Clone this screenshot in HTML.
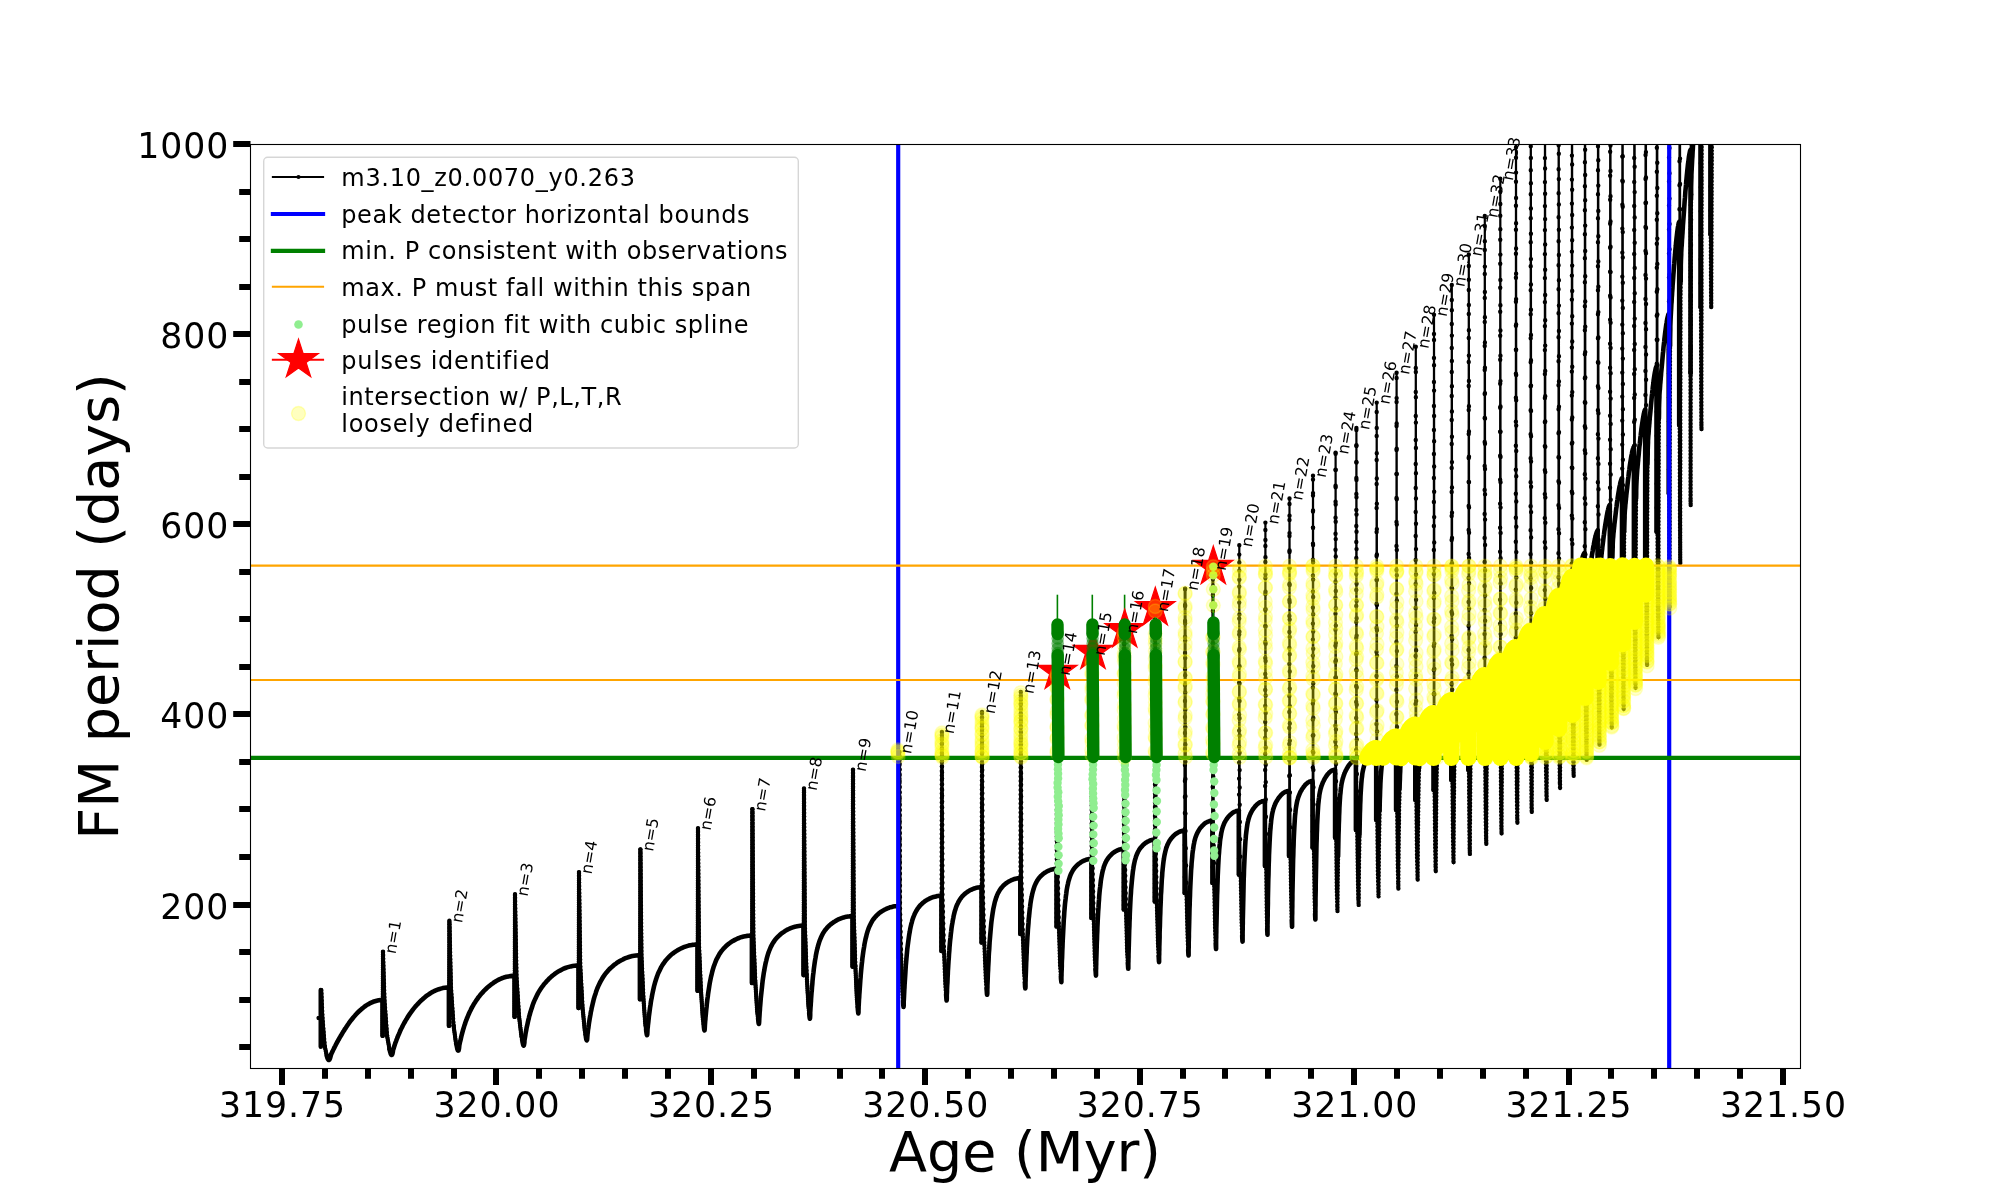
<!DOCTYPE html>
<html lang="en"><head><meta charset="utf-8"><title>FM period vs Age</title>
<style>html,body{margin:0;padding:0;background:#fff}svg{display:block}text{font-family:"DejaVu Sans","Liberation Sans",sans-serif;fill:#000}</style></head><body>
<svg width="2000" height="1200" viewBox="0 0 2000 1200">
<rect width="2000" height="1200" fill="#fff"/>
<defs><clipPath id="ax"><rect x="250.5" y="144.5" width="1550" height="924"/></clipPath>
<g id="yc"><circle r="6.95" fill="#ffff00" fill-opacity="0.2"/><circle r="6.95" fill="none" stroke="#ffff00" stroke-opacity="0.2" stroke-width="1.4"/></g>
</defs>
<g clip-path="url(#ax)">
<g fill="none" stroke="#000" stroke-linecap="round" stroke-linejoin="round">
<path stroke-width="4.6" d="M318.7 1018 L320.1 1018 M320.8 990.1 L320.8 1046.7 M326.8 1055.7 L327.3 1057.7 L327.9 1059.1 L328.4 1059.9 L328.9 1060 L329.4 1059.6 L330 1058.5 L330.5 1056.7 L331.1 1054.4 L331.4 1053.8 L331.7 1053.1 L332 1052.4 L332.4 1051.6 L332.8 1050.8 L333.2 1049.9 L333.7 1049 L334.1 1048.1 L334.6 1047.1 L335.2 1046 L335.7 1045 L336.3 1043.8 L336.9 1042.7 L337.6 1041.5 L338.2 1040.3 L339 1039 L339.7 1037.7 L340.5 1036.3 L341.3 1035 L342.1 1033.6 L343 1032.1 L343.9 1030.7 L344.8 1029.2 L345.8 1027.8 L346.8 1026.3 L347.8 1024.8 L348.9 1023.2 L350 1021.7 L351.1 1020.2 L352.3 1018.7 L353.5 1017.2 L354.8 1015.8 L356.1 1014.3 L357.4 1012.9 L358.8 1011.5 L360.2 1010.2 L361.7 1008.9 L363.2 1007.7 L364.7 1006.5 L366.3 1005.4 L367.9 1004.4 L369.6 1003.4 L371.3 1002.6 L373.1 1001.8 L374.9 1001.2 L376.7 1000.7 L378.6 1000.3 L380.5 1000.1 L382.5 1000 M382.5 1000 L382.5 1035.8 M389.5 1049.2 L390.1 1051.7 L390.6 1053.5 L391.1 1054.6 L391.6 1055 L392 1054.8 L392.4 1053.9 L392.8 1052.2 L393.1 1049.9 L393.4 1049.2 L393.6 1048.4 L393.9 1047.5 L394.2 1046.5 L394.5 1045.6 L394.9 1044.5 L395.2 1043.4 L395.6 1042.3 L396.1 1041.1 L396.5 1039.9 L397 1038.7 L397.5 1037.4 L398 1036 L398.6 1034.7 L399.2 1033.3 L399.8 1031.9 L400.4 1030.4 L401.1 1029 L401.9 1027.5 L402.6 1026 L403.4 1024.5 L404.2 1023 L405.1 1021.5 L405.9 1020 L406.9 1018.5 L407.8 1016.9 L408.8 1015.4 L409.8 1013.9 L410.9 1012.4 L412 1010.9 L413.1 1009.4 L414.3 1007.9 L415.5 1006.4 L416.8 1005 L418.1 1003.6 L419.4 1002.2 L420.8 1000.8 L422.3 999.5 L423.7 998.2 L425.2 996.9 L426.8 995.7 L428.4 994.6 L430 993.5 L431.7 992.4 L433.4 991.5 L435.2 990.6 L437 989.9 L438.9 989.2 L440.8 988.6 L442.7 988.1 L444.7 987.8 L446.8 987.6 L448.9 987.5 M448.9 987.5 L448.9 1025.8 M456.5 1044.8 L457 1047.3 L457.4 1049.2 L457.8 1050.3 L458.2 1050.7 L458.5 1050.5 L458.8 1049.5 L459.1 1047.8 L459.3 1045.5 L459.5 1044.6 L459.7 1043.6 L459.9 1042.5 L460.2 1041.4 L460.5 1040.2 L460.8 1038.9 L461.1 1037.6 L461.4 1036.2 L461.8 1034.7 L462.2 1033.2 L462.6 1031.7 L463 1030.1 L463.5 1028.5 L464 1026.9 L464.5 1025.2 L465.1 1023.6 L465.6 1021.9 L466.3 1020.2 L466.9 1018.5 L467.6 1016.8 L468.3 1015.2 L469 1013.5 L469.8 1011.8 L470.6 1010.2 L471.4 1008.5 L472.3 1006.9 L473.2 1005.3 L474.1 1003.7 L475.1 1002.2 L476.1 1000.6 L477.2 999.1 L478.2 997.6 L479.4 996.2 L480.5 994.7 L481.7 993.3 L483 992 L484.2 990.6 L485.6 989.3 L486.9 988 L488.3 986.8 L489.8 985.6 L491.2 984.4 L492.8 983.3 L494.3 982.2 L495.9 981.2 L497.6 980.3 L499.3 979.4 L501 978.7 L502.8 977.9 L504.7 977.3 L506.5 976.8 L508.5 976.4 L510.4 976.1 L512.4 975.9 L514.5 975.8 M514.5 975.8 L514.5 1016.7 M522.2 1039.8 L522.6 1042.3 L523 1044.1 L523.3 1045.2 L523.6 1045.6 L523.9 1045.3 L524.1 1044.3 L524.4 1042.5 L524.5 1040.1 L524.7 1039 L524.9 1037.9 L525.1 1036.6 L525.3 1035.3 L525.5 1033.9 L525.8 1032.4 L526.1 1030.8 L526.4 1029.1 L526.7 1027.4 L527.1 1025.7 L527.5 1023.9 L527.9 1022 L528.3 1020.2 L528.8 1018.3 L529.2 1016.4 L529.8 1014.5 L530.3 1012.5 L530.9 1010.6 L531.5 1008.7 L532.1 1006.9 L532.7 1005 L533.4 1003.2 L534.1 1001.4 L534.9 999.6 L535.7 997.9 L536.5 996.2 L537.3 994.6 L538.2 992.9 L539.1 991.4 L540.1 989.8 L541.1 988.3 L542.1 986.8 L543.2 985.4 L544.2 984 L545.4 982.7 L546.5 981.4 L547.8 980.1 L549 978.8 L550.3 977.6 L551.6 976.4 L553 975.3 L554.4 974.2 L555.8 973.2 L557.3 972.2 L558.8 971.2 L560.4 970.4 L562 969.5 L563.7 968.7 L565.4 968 L567.1 967.4 L568.9 966.9 L570.7 966.4 L572.6 966 L574.5 965.7 L576.5 965.6 L578.5 965.5 M578.5 965.5 L578.5 1008 M585.6 1034.5 L585.9 1037 L586.2 1038.8 L586.5 1039.9 L586.8 1040.3 L587 1040 L587.2 1038.9 L587.3 1037.2 L587.5 1034.7 L587.6 1033.6 L587.8 1032.3 L587.9 1030.9 L588.1 1029.4 L588.4 1027.8 L588.6 1026.1 L588.8 1024.4 L589.1 1022.5 L589.4 1020.6 L589.7 1018.6 L590.1 1016.5 L590.5 1014.4 L590.8 1012.3 L591.3 1010.2 L591.7 1008 L592.2 1005.9 L592.7 1003.7 L593.2 1001.6 L593.7 999.5 L594.3 997.4 L594.9 995.4 L595.6 993.4 L596.2 991.4 L596.9 989.5 L597.6 987.7 L598.4 985.9 L599.2 984.2 L600 982.5 L600.9 980.9 L601.8 979.3 L602.7 977.8 L603.6 976.3 L604.6 974.9 L605.6 973.5 L606.7 972.2 L607.8 970.9 L608.9 969.7 L610.1 968.5 L611.3 967.4 L612.6 966.3 L613.8 965.2 L615.2 964.2 L616.5 963.2 L617.9 962.2 L619.4 961.3 L620.8 960.5 L622.4 959.7 L623.9 958.9 L625.5 958.2 L627.2 957.6 L628.9 957 L630.6 956.5 L632.4 956.1 L634.2 955.8 L636 955.5 L638 955.4 L639.9 955.3 M639.9 955.3 L639.9 999.2 M646.1 1029.2 L646.3 1031.7 L646.6 1033.5 L646.8 1034.6 L647 1035.1 L647.2 1034.8 L647.3 1033.7 L647.4 1032 L647.5 1029.6 L647.6 1028.4 L647.8 1027 L647.9 1025.5 L648.1 1023.9 L648.3 1022.2 L648.5 1020.3 L648.7 1018.4 L648.9 1016.3 L649.2 1014.2 L649.5 1011.9 L649.8 1009.6 L650.1 1007.3 L650.5 1004.9 L650.8 1002.5 L651.2 1000.1 L651.7 997.7 L652.1 995.3 L652.6 992.9 L653.1 990.6 L653.6 988.3 L654.1 986 L654.7 983.8 L655.3 981.7 L656 979.6 L656.6 977.6 L657.3 975.7 L658 973.8 L658.8 972.1 L659.6 970.4 L660.4 968.7 L661.2 967.1 L662.1 965.6 L663 964.2 L664 962.8 L664.9 961.5 L665.9 960.2 L667 959 L668.1 957.8 L669.2 956.7 L670.3 955.6 L671.5 954.6 L672.7 953.6 L674 952.6 L675.3 951.7 L676.6 950.9 L678 950 L679.4 949.2 L680.8 948.5 L682.3 947.8 L683.8 947.2 L685.4 946.6 L687 946.1 L688.6 945.6 L690.3 945.2 L692.1 944.9 L693.8 944.7 L695.6 944.6 L697.5 944.5 M697.5 944.5 L697.5 990.7 M703.7 1024.4 L703.9 1026.9 L704.1 1028.8 L704.3 1029.9 L704.5 1030.4 L704.6 1030.1 L704.7 1029.2 L704.8 1027.6 L704.9 1025.3 L705 1024.1 L705.1 1022.7 L705.2 1021.1 L705.4 1019.4 L705.5 1017.6 L705.7 1015.7 L705.9 1013.6 L706.1 1011.4 L706.3 1009.1 L706.6 1006.7 L706.8 1004.2 L707.1 1001.7 L707.4 999.1 L707.8 996.5 L708.1 993.8 L708.5 991.2 L708.9 988.6 L709.3 986 L709.7 983.4 L710.2 980.9 L710.7 978.4 L711.2 976.1 L711.8 973.7 L712.3 971.5 L712.9 969.4 L713.5 967.3 L714.2 965.3 L714.9 963.5 L715.6 961.7 L716.3 959.9 L717.1 958.3 L717.9 956.8 L718.7 955.3 L719.5 953.9 L720.4 952.6 L721.3 951.3 L722.3 950.1 L723.3 948.9 L724.3 947.8 L725.3 946.8 L726.4 945.8 L727.5 944.8 L728.6 943.9 L729.8 943 L731 942.1 L732.3 941.3 L733.6 940.6 L734.9 939.9 L736.2 939.2 L737.6 938.5 L739.1 938 L740.5 937.4 L742 936.9 L743.6 936.5 L745.2 936.2 L746.8 935.9 L748.5 935.7 L750.2 935.5 L751.9 935.5 M751.9 935.5 L751.9 983 M758.1 1018.1 L758.3 1020.6 L758.5 1022.4 L758.7 1023.5 L758.9 1023.9 L759 1023.6 L759.1 1022.6 L759.2 1020.9 L759.3 1018.4 L759.4 1017.1 L759.5 1015.5 L759.6 1013.8 L759.7 1011.9 L759.9 1009.9 L760 1007.8 L760.2 1005.5 L760.4 1003.1 L760.6 1000.5 L760.8 997.9 L761.1 995.2 L761.4 992.5 L761.7 989.7 L762 986.9 L762.3 984 L762.6 981.2 L763 978.4 L763.4 975.6 L763.8 972.9 L764.3 970.3 L764.7 967.7 L765.2 965.2 L765.7 962.8 L766.3 960.5 L766.8 958.3 L767.4 956.2 L768 954.2 L768.6 952.3 L769.3 950.5 L770 948.8 L770.7 947.2 L771.5 945.7 L772.2 944.2 L773 942.9 L773.9 941.6 L774.7 940.4 L775.6 939.2 L776.5 938.1 L777.5 937.1 L778.5 936.1 L779.5 935.2 L780.5 934.3 L781.6 933.4 L782.7 932.6 L783.9 931.8 L785 931 L786.3 930.3 L787.5 929.6 L788.8 929 L790.1 928.4 L791.4 927.9 L792.8 927.4 L794.2 926.9 L795.7 926.6 L797.2 926.2 L798.7 926 L800.3 925.8 L801.9 925.6 L803.5 925.6 M803.5 925.6 L803.5 975.1 M809.2 1013 L809.4 1015.5 L809.6 1017.3 L809.8 1018.4 L809.9 1018.7 L810 1018.3 L810.1 1017.2 L810.2 1015.3 L810.2 1012.7 L810.3 1011.2 L810.4 1009.5 L810.5 1007.6 L810.7 1005.6 L810.8 1003.4 L811 1001 L811.1 998.5 L811.3 995.8 L811.5 993.1 L811.8 990.2 L812 987.3 L812.3 984.3 L812.5 981.3 L812.8 978.3 L813.1 975.2 L813.5 972.2 L813.8 969.2 L814.2 966.3 L814.6 963.4 L815 960.6 L815.5 957.9 L815.9 955.3 L816.4 952.8 L816.9 950.4 L817.5 948.2 L818 946 L818.6 944 L819.2 942.1 L819.8 940.3 L820.5 938.6 L821.2 937 L821.9 935.5 L822.6 934.1 L823.4 932.7 L824.2 931.5 L825 930.3 L825.9 929.2 L826.8 928.1 L827.7 927.1 L828.6 926.2 L829.6 925.3 L830.6 924.4 L831.6 923.6 L832.7 922.8 L833.7 922.1 L834.9 921.4 L836 920.7 L837.2 920 L838.4 919.4 L839.7 918.9 L841 918.4 L842.3 917.9 L843.6 917.5 L845 917.1 L846.5 916.8 L847.9 916.5 L849.4 916.4 L850.9 916.2 L852.5 916.2 M852.5 916.2 L852.5 966.6 M857.7 1007.4 L857.9 1009.9 L858.1 1011.8 L858.2 1012.9 L858.3 1013.4 L858.4 1013.1 L858.5 1012.2 L858.5 1010.6 L858.6 1008.3 L858.6 1006.9 L858.7 1005.4 L858.8 1003.6 L858.9 1001.7 L859 999.5 L859.2 997.2 L859.3 994.8 L859.5 992.2 L859.7 989.4 L859.9 986.6 L860.1 983.6 L860.3 980.5 L860.6 977.4 L860.8 974.3 L861.1 971.1 L861.4 967.9 L861.7 964.7 L862.1 961.5 L862.4 958.4 L862.8 955.4 L863.2 952.4 L863.6 949.6 L864.1 946.8 L864.5 944.1 L865 941.6 L865.5 939.2 L866.1 936.9 L866.6 934.7 L867.2 932.7 L867.8 930.7 L868.4 928.9 L869.1 927.2 L869.8 925.6 L870.5 924.2 L871.2 922.8 L872 921.4 L872.7 920.2 L873.6 919 L874.4 918 L875.3 916.9 L876.2 916 L877.1 915 L878 914.2 L879 913.3 L880 912.5 L881.1 911.8 L882.2 911.1 L883.3 910.4 L884.4 909.8 L885.6 909.2 L886.8 908.6 L888 908.1 L889.2 907.7 L890.5 907.2 L891.9 906.9 L893.2 906.6 L894.6 906.3 L896 906.2 L897.5 906 L899 906 M899 906 L899 958.5 M903.1 1001 L903.2 1003.5 L903.3 1005.3 L903.5 1006.5 L903.5 1006.9 L903.6 1006.6 L903.7 1005.6 L903.7 1004 L903.7 1001.6 L903.8 1000.1 L903.9 998.4 L904 996.6 L904.1 994.5 L904.2 992.3 L904.3 989.8 L904.5 987.2 L904.6 984.5 L904.8 981.6 L905 978.5 L905.2 975.4 L905.4 972.2 L905.6 968.9 L905.8 965.5 L906.1 962.2 L906.4 958.8 L906.7 955.5 L907 952.2 L907.3 948.9 L907.7 945.8 L908.1 942.7 L908.5 939.7 L908.9 936.8 L909.3 934.1 L909.8 931.5 L910.2 929 L910.7 926.6 L911.2 924.4 L911.8 922.3 L912.3 920.3 L912.9 918.5 L913.5 916.8 L914.2 915.2 L914.8 913.7 L915.5 912.3 L916.2 911 L917 909.7 L917.7 908.6 L918.5 907.5 L919.3 906.5 L920.1 905.5 L921 904.6 L921.9 903.8 L922.8 902.9 L923.7 902.2 L924.7 901.4 L925.7 900.7 L926.7 900.1 L927.8 899.5 L928.9 898.9 L930 898.4 L931.1 897.9 L932.3 897.4 L933.5 897 L934.8 896.7 L936 896.4 L937.3 896.1 L938.6 895.9 L940 895.8 L941.4 895.8 M941.4 895.8 L941.4 951 M946.1 994.6 L946.3 997.1 L946.4 998.9 L946.5 1000 L946.6 1000.5 L946.7 1000.1 L946.8 999.1 L946.8 997.4 L946.8 995 L946.9 993.5 L947 991.8 L947 989.8 L947.1 987.7 L947.2 985.4 L947.4 982.9 L947.5 980.2 L947.6 977.3 L947.8 974.3 L947.9 971.2 L948.1 968 L948.3 964.7 L948.5 961.3 L948.8 957.9 L949 954.4 L949.3 950.9 L949.5 947.5 L949.8 944.1 L950.1 940.8 L950.5 937.5 L950.8 934.4 L951.2 931.3 L951.5 928.4 L951.9 925.6 L952.4 922.9 L952.8 920.4 L953.3 918 L953.7 915.7 L954.2 913.6 L954.7 911.6 L955.3 909.8 L955.8 908 L956.4 906.4 L957 904.9 L957.7 903.5 L958.3 902.2 L959 901 L959.7 899.8 L960.4 898.8 L961.2 897.8 L961.9 896.8 L962.7 895.9 L963.5 895.1 L964.4 894.3 L965.2 893.5 L966.1 892.8 L967.1 892.1 L968 891.5 L969 890.9 L970 890.3 L971 889.8 L972.1 889.3 L973.1 888.9 L974.2 888.5 L975.4 888.1 L976.5 887.8 L977.7 887.6 L979 887.4 L980.2 887.3 L981.5 887.3 M981.5 887.3 L981.5 942.5 M986.6 989 L986.8 991.5 L986.9 993.3 L987 994.4 L987.1 994.7 L987.2 994.4 L987.3 993.3 L987.3 991.5 L987.3 989 L987.4 987.4 L987.4 985.5 L987.5 983.5 L987.6 981.2 L987.7 978.7 L987.8 976 L987.9 973.2 L988.1 970.1 L988.2 967 L988.4 963.6 L988.6 960.2 L988.7 956.7 L988.9 953.1 L989.2 949.5 L989.4 945.9 L989.6 942.3 L989.9 938.7 L990.2 935.2 L990.5 931.7 L990.8 928.4 L991.1 925.1 L991.4 922 L991.8 919 L992.2 916.1 L992.6 913.4 L993 910.8 L993.4 908.4 L993.9 906.2 L994.4 904 L994.8 902.1 L995.4 900.2 L995.9 898.5 L996.5 896.9 L997 895.4 L997.6 894.1 L998.2 892.8 L998.9 891.6 L999.5 890.5 L1000.2 889.4 L1000.9 888.5 L1001.7 887.5 L1002.4 886.7 L1003.2 885.8 L1004 885.1 L1004.8 884.3 L1005.7 883.6 L1006.6 882.9 L1007.5 882.3 L1008.4 881.7 L1009.3 881.2 L1010.3 880.7 L1011.3 880.2 L1012.3 879.8 L1013.4 879.4 L1014.5 879 L1015.6 878.7 L1016.7 878.5 L1017.9 878.3 L1019.1 878.2 L1020.3 878.2 M1020.3 878.2 L1020.3 934 M1024.9 982.7 L1025 985.2 L1025.1 987 L1025.3 988 L1025.3 988.4 L1025.4 988 L1025.5 986.8 L1025.5 985 L1025.5 982.4 L1025.6 980.7 L1025.6 978.7 L1025.7 976.6 L1025.8 974.2 L1025.9 971.6 L1026 968.7 L1026.1 965.7 L1026.2 962.6 L1026.4 959.2 L1026.5 955.8 L1026.7 952.2 L1026.8 948.5 L1027 944.8 L1027.2 941.1 L1027.4 937.3 L1027.7 933.6 L1027.9 929.9 L1028.2 926.2 L1028.5 922.7 L1028.7 919.2 L1029.1 915.9 L1029.4 912.7 L1029.7 909.6 L1030.1 906.7 L1030.4 904 L1030.8 901.4 L1031.2 898.9 L1031.7 896.6 L1032.1 894.5 L1032.6 892.5 L1033.1 890.7 L1033.6 889 L1034.1 887.4 L1034.6 885.9 L1035.2 884.6 L1035.8 883.3 L1036.4 882.1 L1037 881 L1037.6 880 L1038.3 879 L1039 878.1 L1039.7 877.3 L1040.4 876.5 L1041.2 875.7 L1042 875 L1042.8 874.3 L1043.6 873.6 L1044.4 873 L1045.3 872.4 L1046.2 871.9 L1047.1 871.3 L1048.1 870.9 L1049 870.4 L1050 870.1 L1051 869.7 L1052.1 869.4 L1053.1 869.2 L1054.2 869 L1055.4 868.9 L1056.5 868.9 M1056.5 868.9 L1056.5 926.4 M1060.9 976.2 L1061 978.7 L1061.2 980.6 L1061.3 981.7 L1061.3 982.1 L1061.4 981.9 L1061.4 980.9 L1061.4 979.3 L1061.4 977 L1061.5 975.4 L1061.5 973.5 L1061.6 971.4 L1061.7 969.1 L1061.8 966.5 L1061.8 963.7 L1061.9 960.7 L1062.1 957.5 L1062.2 954.1 L1062.3 950.6 L1062.5 946.9 L1062.6 943.1 L1062.8 939.2 L1063 935.3 L1063.2 931.4 L1063.4 927.5 L1063.6 923.6 L1063.8 919.7 L1064.1 916 L1064.3 912.3 L1064.6 908.7 L1064.9 905.3 L1065.2 902.1 L1065.6 899 L1065.9 896.1 L1066.3 893.3 L1066.6 890.7 L1067 888.3 L1067.4 886.1 L1067.9 884 L1068.3 882 L1068.8 880.2 L1069.3 878.6 L1069.8 877.1 L1070.3 875.6 L1070.8 874.3 L1071.4 873.1 L1072 872 L1072.6 870.9 L1073.2 869.9 L1073.8 869 L1074.5 868.1 L1075.2 867.3 L1075.9 866.5 L1076.6 865.7 L1077.4 865 L1078.2 864.3 L1078.9 863.7 L1079.8 863.1 L1080.6 862.5 L1081.5 861.9 L1082.3 861.4 L1083.3 861 L1084.2 860.5 L1085.1 860.2 L1086.1 859.8 L1087.1 859.5 L1088.2 859.3 L1089.2 859.1 L1090.3 859 L1091.4 859 M1091.4 859 L1091.4 917.9 M1095.5 969.7 L1095.7 972.2 L1095.8 974 L1095.9 975.2 L1095.9 975.6 L1096 975.3 L1096 974.3 L1096 972.6 L1096 970.3 L1096.1 968.6 L1096.1 966.7 L1096.2 964.5 L1096.2 962.1 L1096.3 959.4 L1096.4 956.5 L1096.5 953.4 L1096.6 950.1 L1096.7 946.6 L1096.8 942.9 L1097 939.1 L1097.1 935.2 L1097.3 931.2 L1097.4 927.2 L1097.6 923.1 L1097.8 919 L1098 915 L1098.2 911 L1098.5 907.2 L1098.7 903.4 L1099 899.7 L1099.2 896.2 L1099.5 892.9 L1099.8 889.7 L1100.2 886.7 L1100.5 883.9 L1100.8 881.2 L1101.2 878.7 L1101.6 876.4 L1102 874.3 L1102.4 872.3 L1102.8 870.5 L1103.3 868.8 L1103.7 867.3 L1104.2 865.8 L1104.7 864.5 L1105.2 863.3 L1105.8 862.1 L1106.3 861 L1106.9 860 L1107.5 859.1 L1108.1 858.2 L1108.7 857.4 L1109.4 856.6 L1110.1 855.8 L1110.8 855.1 L1111.5 854.4 L1112.2 853.7 L1112.9 853.1 L1113.7 852.5 L1114.5 852 L1115.3 851.5 L1116.2 851 L1117 850.6 L1117.9 850.2 L1118.8 849.8 L1119.8 849.5 L1120.7 849.3 L1121.7 849.1 L1122.7 849 L1123.7 849 M1123.7 849 L1123.7 909.4 M1127.8 962.9 L1128 965.4 L1128.1 967.2 L1128.2 968.3 L1128.2 968.7 L1128.3 968.4 L1128.3 967.3 L1128.3 965.6 L1128.3 963.1 L1128.4 961.4 L1128.4 959.4 L1128.5 957.1 L1128.5 954.5 L1128.6 951.7 L1128.7 948.7 L1128.8 945.4 L1128.9 941.9 L1129 938.2 L1129.1 934.4 L1129.2 930.4 L1129.4 926.4 L1129.5 922.2 L1129.7 918 L1129.8 913.8 L1130 909.6 L1130.2 905.5 L1130.4 901.4 L1130.6 897.4 L1130.9 893.6 L1131.1 889.9 L1131.4 886.4 L1131.7 883 L1132 879.8 L1132.3 876.8 L1132.6 874 L1132.9 871.3 L1133.3 868.9 L1133.6 866.6 L1134 864.5 L1134.4 862.6 L1134.8 860.8 L1135.2 859.2 L1135.7 857.7 L1136.1 856.3 L1136.6 855 L1137.1 853.8 L1137.6 852.7 L1138.1 851.6 L1138.7 850.6 L1139.2 849.7 L1139.8 848.8 L1140.4 848 L1141.1 847.2 L1141.7 846.5 L1142.4 845.8 L1143 845.1 L1143.7 844.4 L1144.5 843.8 L1145.2 843.2 L1145.9 842.7 L1146.7 842.2 L1147.5 841.7 L1148.4 841.3 L1149.2 840.9 L1150.1 840.5 L1150.9 840.2 L1151.8 840 L1152.8 839.8 L1153.7 839.7 L1154.7 839.7 M1154.7 839.7 L1154.7 901.5 M1158.7 956.4 L1158.8 958.9 L1158.9 960.7 L1159 961.8 L1159 962.1 L1159.1 961.7 L1159.1 960.6 L1159.1 958.8 L1159.1 956.2 L1159.2 954.4 L1159.2 952.2 L1159.3 949.8 L1159.3 947.1 L1159.4 944.1 L1159.5 940.8 L1159.6 937.4 L1159.6 933.7 L1159.7 929.8 L1159.9 925.8 L1160 921.6 L1160.1 917.3 L1160.3 913 L1160.4 908.6 L1160.6 904.3 L1160.8 900 L1160.9 895.7 L1161.2 891.5 L1161.4 887.5 L1161.6 883.6 L1161.8 879.9 L1162.1 876.3 L1162.3 872.9 L1162.6 869.8 L1162.9 866.8 L1163.2 864 L1163.5 861.4 L1163.9 859 L1164.2 856.9 L1164.6 854.8 L1165 853 L1165.4 851.3 L1165.8 849.7 L1166.2 848.2 L1166.7 846.9 L1167.1 845.7 L1167.6 844.5 L1168.1 843.5 L1168.6 842.5 L1169.1 841.5 L1169.7 840.6 L1170.2 839.8 L1170.8 839 L1171.4 838.2 L1172 837.5 L1172.7 836.8 L1173.3 836.1 L1174 835.4 L1174.7 834.8 L1175.4 834.2 L1176.1 833.7 L1176.9 833.2 L1177.7 832.7 L1178.5 832.3 L1179.3 831.9 L1180.1 831.5 L1181 831.2 L1181.8 831 L1182.7 830.8 L1183.7 830.7 L1184.6 830.7 M1184.6 830.7 L1184.6 893 M1188.2 949.9 L1188.3 952.4 L1188.4 954.2 L1188.5 955.2 L1188.6 955.5 L1188.6 955.1 L1188.6 954 L1188.6 952.1 L1188.6 949.5 L1188.7 947.5 L1188.7 945.3 L1188.7 942.7 L1188.8 939.9 L1188.9 936.8 L1188.9 933.4 L1189 929.8 L1189.1 926 L1189.2 921.9 L1189.3 917.8 L1189.4 913.4 L1189.5 909 L1189.7 904.5 L1189.8 900 L1190 895.5 L1190.1 891.1 L1190.3 886.7 L1190.5 882.4 L1190.7 878.3 L1190.9 874.3 L1191.1 870.4 L1191.4 866.8 L1191.6 863.4 L1191.9 860.1 L1192.2 857.1 L1192.4 854.3 L1192.7 851.7 L1193.1 849.3 L1193.4 847.1 L1193.7 845 L1194.1 843.2 L1194.4 841.4 L1194.8 839.9 L1195.2 838.4 L1195.6 837.1 L1196.1 835.8 L1196.5 834.7 L1197 833.6 L1197.5 832.6 L1198 831.7 L1198.5 830.8 L1199 829.9 L1199.5 829.1 L1200.1 828.3 L1200.7 827.6 L1201.3 826.9 L1201.9 826.2 L1202.5 825.5 L1203.2 824.9 L1203.8 824.3 L1204.5 823.7 L1205.2 823.2 L1205.9 822.7 L1206.7 822.3 L1207.4 821.9 L1208.2 821.6 L1209 821.3 L1209.8 821 L1210.7 820.8 L1211.5 820.7 L1212.4 820.7 M1212.4 820.7 L1212.4 883 M1215.7 943 L1215.8 945.5 L1215.9 947.4 L1216 948.5 L1216.1 949 L1216.1 948.8 L1216.1 947.8 L1216.1 946.2 L1216.1 943.9 L1216.1 942.2 L1216.1 940.1 L1216.2 937.7 L1216.2 935.1 L1216.3 932.1 L1216.3 928.8 L1216.4 925.2 L1216.5 921.4 L1216.6 917.4 L1216.7 913.2 L1216.8 908.8 L1216.9 904.3 L1217 899.7 L1217.1 895.1 L1217.3 890.4 L1217.4 885.7 L1217.6 881.1 L1217.7 876.6 L1217.9 872.3 L1218.1 868 L1218.3 864 L1218.5 860.1 L1218.7 856.4 L1219 853 L1219.2 849.8 L1219.5 846.8 L1219.8 844 L1220 841.4 L1220.3 839 L1220.7 836.8 L1221 834.8 L1221.3 833 L1221.7 831.3 L1222 829.8 L1222.4 828.4 L1222.8 827.1 L1223.2 825.9 L1223.7 824.8 L1224.1 823.7 L1224.5 822.7 L1225 821.8 L1225.5 820.9 L1226 820.1 L1226.5 819.3 L1227.1 818.5 L1227.6 817.7 L1228.2 817 L1228.8 816.3 L1229.4 815.7 L1230 815.1 L1230.6 814.5 L1231.3 813.9 L1231.9 813.4 L1232.6 812.9 L1233.3 812.4 L1234.1 812 L1234.8 811.7 L1235.6 811.4 L1236.3 811.1 L1237.1 810.9 L1238 810.8 L1238.8 810.8 M1238.8 810.8 L1238.8 874.6 M1242.2 935.7 L1242.3 938.2 L1242.4 940 L1242.5 941.2 L1242.6 941.6 L1242.6 941.3 L1242.6 940.3 L1242.6 938.6 L1242.6 936.2 L1242.6 934.3 L1242.6 932.1 L1242.7 929.5 L1242.7 926.6 L1242.8 923.4 L1242.8 919.9 L1242.9 916.1 L1243 912 L1243.1 907.8 L1243.2 903.3 L1243.3 898.7 L1243.4 893.9 L1243.5 889.1 L1243.6 884.2 L1243.7 879.4 L1243.9 874.6 L1244 869.9 L1244.2 865.3 L1244.4 860.8 L1244.6 856.6 L1244.8 852.5 L1245 848.7 L1245.2 845 L1245.4 841.6 L1245.7 838.5 L1245.9 835.6 L1246.2 832.9 L1246.5 830.4 L1246.8 828.2 L1247.1 826.1 L1247.4 824.2 L1247.7 822.5 L1248.1 821 L1248.4 819.5 L1248.8 818.2 L1249.2 817 L1249.6 815.8 L1250 814.8 L1250.5 813.8 L1250.9 812.8 L1251.4 811.9 L1251.8 811.1 L1252.3 810.3 L1252.8 809.5 L1253.4 808.7 L1253.9 807.9 L1254.5 807.2 L1255 806.5 L1255.6 805.9 L1256.2 805.2 L1256.9 804.6 L1257.5 804.1 L1258.2 803.5 L1258.8 803 L1259.5 802.6 L1260.2 802.1 L1261 801.8 L1261.7 801.5 L1262.5 801.2 L1263.3 801.1 L1264.1 800.9 L1264.9 800.9 M1264.9 800.9 L1264.9 866 M1267.2 928.9 L1267.3 931.4 L1267.4 933.2 L1267.4 934.3 L1267.5 934.7 L1267.5 934.4 L1267.5 933.3 L1267.5 931.5 L1267.5 929.1 L1267.5 927 L1267.5 924.7 L1267.6 921.9 L1267.6 918.9 L1267.7 915.5 L1267.7 911.8 L1267.8 907.8 L1267.9 903.5 L1267.9 899 L1268 894.3 L1268.1 889.5 L1268.2 884.5 L1268.3 879.5 L1268.5 874.5 L1268.6 869.5 L1268.7 864.6 L1268.9 859.8 L1269 855.1 L1269.2 850.6 L1269.4 846.3 L1269.6 842.2 L1269.8 838.3 L1270 834.7 L1270.2 831.4 L1270.5 828.3 L1270.7 825.4 L1271 822.8 L1271.2 820.4 L1271.5 818.2 L1271.8 816.2 L1272.1 814.4 L1272.4 812.8 L1272.8 811.2 L1273.1 809.8 L1273.5 808.6 L1273.9 807.4 L1274.2 806.3 L1274.7 805.2 L1275.1 804.2 L1275.5 803.3 L1275.9 802.4 L1276.4 801.5 L1276.9 800.7 L1277.4 799.9 L1277.9 799.1 L1278.4 798.3 L1278.9 797.6 L1279.5 796.9 L1280.1 796.2 L1280.6 795.5 L1281.2 794.9 L1281.9 794.3 L1282.5 793.7 L1283.2 793.2 L1283.8 792.7 L1284.5 792.3 L1285.2 791.9 L1285.9 791.6 L1286.7 791.3 L1287.4 791.2 L1288.2 791 L1289 791 M1289 791 L1289 856 M1291.8 921 L1291.9 923.5 L1292 925.3 L1292 926.4 L1292.1 926.7 L1292.1 926.4 L1292.1 925.3 L1292.1 923.5 L1292.1 920.9 L1292.1 918.8 L1292.1 916.3 L1292.2 913.5 L1292.2 910.3 L1292.3 906.8 L1292.3 903 L1292.4 898.8 L1292.4 894.4 L1292.5 889.8 L1292.6 885 L1292.7 880 L1292.8 874.9 L1292.9 869.8 L1293 864.7 L1293.1 859.6 L1293.3 854.6 L1293.4 849.7 L1293.6 845 L1293.7 840.5 L1293.9 836.1 L1294.1 832 L1294.3 828.2 L1294.5 824.6 L1294.7 821.3 L1294.9 818.2 L1295.1 815.4 L1295.4 812.8 L1295.6 810.5 L1295.9 808.3 L1296.2 806.4 L1296.5 804.6 L1296.8 803 L1297.1 801.5 L1297.4 800.2 L1297.8 798.9 L1298.1 797.7 L1298.5 796.6 L1298.9 795.6 L1299.3 794.6 L1299.7 793.6 L1300.1 792.7 L1300.5 791.8 L1301 791 L1301.5 790.2 L1301.9 789.4 L1302.4 788.6 L1303 787.8 L1303.5 787.1 L1304 786.4 L1304.6 785.7 L1305.1 785 L1305.7 784.4 L1306.3 783.8 L1307 783.3 L1307.6 782.8 L1308.2 782.3 L1308.9 782 L1309.6 781.6 L1310.3 781.4 L1311 781.2 L1311.7 781 L1312.5 781 M1312.5 781 L1312.5 847.6 M1315.1 913.9 L1315.2 916.4 L1315.3 918.2 L1315.3 919.2 L1315.4 919.5 L1315.4 919.1 L1315.4 917.9 L1315.4 916 L1315.4 913.4 L1315.4 911.1 L1315.4 908.5 L1315.5 905.5 L1315.5 902.1 L1315.5 898.3 L1315.6 894.2 L1315.7 889.8 L1315.7 885.2 L1315.8 880.3 L1315.9 875.2 L1316 870 L1316.1 864.7 L1316.2 859.3 L1316.3 854 L1316.4 848.7 L1316.5 843.6 L1316.7 838.6 L1316.8 833.7 L1317 829.1 L1317.1 824.8 L1317.3 820.7 L1317.5 816.8 L1317.7 813.2 L1317.9 810 L1318.1 806.9 L1318.3 804.2 L1318.6 801.6 L1318.8 799.4 L1319.1 797.3 L1319.3 795.4 L1319.6 793.7 L1319.9 792.1 L1320.2 790.7 L1320.5 789.3 L1320.9 788.1 L1321.2 786.9 L1321.6 785.8 L1321.9 784.8 L1322.3 783.8 L1322.7 782.8 L1323.1 781.9 L1323.6 781 L1324 780.1 L1324.4 779.3 L1324.9 778.4 L1325.4 777.6 L1325.9 776.8 L1326.4 776.1 L1326.9 775.3 L1327.4 774.6 L1328 773.9 L1328.6 773.3 L1329.1 772.7 L1329.7 772.1 L1330.4 771.6 L1331 771.1 L1331.6 770.7 L1332.3 770.4 L1333 770.1 L1333.7 769.9 L1334.4 769.7 L1335.1 769.7 M1335.1 769.7 L1335.1 837.7 M1338.1 856 L1338.2 850.6 L1338.3 845.2 L1338.4 839.9 L1338.5 834.7 L1338.7 829.6 L1338.8 824.8 L1339 820.1 L1339.1 815.8 L1339.3 811.6 L1339.4 807.8 L1339.6 804.3 L1339.8 801 L1340 798 L1340.2 795.2 L1340.5 792.7 L1340.7 790.4 L1340.9 788.4 L1341.2 786.5 L1341.4 784.8 L1341.7 783.2 L1342 781.8 L1342.3 780.5 L1342.6 779.2 L1342.9 778.1 L1343.3 777 L1343.6 775.9 L1344 774.9 L1344.3 773.9 L1344.7 773 L1345.1 772 L1345.5 771.1 L1345.9 770.3 L1346.4 769.4 L1346.8 768.6 L1347.3 767.8 L1347.8 767 L1348.2 766.2 L1348.7 765.5 L1349.3 764.8 L1349.8 764.1 L1350.3 763.5 L1350.9 762.9 L1351.5 762.3 L1352.1 761.9 L1352.7 761.4 L1353.3 761.1 L1353.9 760.8 L1354.6 760.6 L1355.2 760.4 L1355.9 760.4 M1355.9 760.4 L1355.9 830 M1359.5 834.8 L1359.6 829.3 L1359.7 823.9 L1359.8 818.7 L1359.9 813.7 L1360.1 809 L1360.2 804.5 L1360.4 800.3 L1360.5 796.4 L1360.7 792.8 L1360.9 789.5 L1361.1 786.5 L1361.3 783.7 L1361.5 781.2 L1361.7 778.9 L1362 776.9 L1362.2 775 L1362.4 773.3 L1362.7 771.7 L1363 770.3 L1363.3 769 L1363.6 767.7 L1363.9 766.5 L1364.2 765.4 L1364.5 764.3 L1364.8 763.3 L1365.2 762.3 L1365.6 761.3 L1365.9 760.3 L1366.3 759.4 L1366.7 758.4 L1367.1 757.5 L1367.6 756.6 L1368 755.8 L1368.5 754.9 L1368.9 754.1 L1369.4 753.4 L1369.9 752.6 L1370.4 751.9 L1370.9 751.2 L1371.4 750.6 L1372 750.1 L1372.5 749.5 L1373.1 749.1 L1373.7 748.7 L1374.3 748.4 L1374.9 748.2 L1375.6 748 L1376.2 748 M1376.2 748 L1376.2 820 M1379.6 810.4 L1379.7 805.1 L1379.8 800.2 L1380 795.5 L1380.1 791.1 L1380.3 787 L1380.4 783.3 L1380.6 779.8 L1380.8 776.7 L1381 773.9 L1381.2 771.3 L1381.4 769 L1381.6 766.9 L1381.9 765 L1382.1 763.3 L1382.3 761.8 L1382.6 760.3 L1382.9 759 L1383.2 757.7 L1383.5 756.5 L1383.8 755.4 L1384.1 754.3 L1384.4 753.2 L1384.7 752.2 L1385.1 751.2 L1385.5 750.2 L1385.8 749.2 L1386.2 748.3 L1386.6 747.3 L1387 746.4 L1387.5 745.5 L1387.9 744.6 L1388.4 743.7 L1388.8 742.9 L1389.3 742.1 L1389.8 741.3 L1390.3 740.6 L1390.8 739.9 L1391.3 739.2 L1391.9 738.6 L1392.4 738.1 L1393 737.6 L1393.6 737.2 L1394.2 736.9 L1394.8 736.7 L1395.5 736.6 L1396.1 736.5 M1396.1 736.5 L1396.1 810 M1399.6 788.1 L1399.7 783.4 L1399.9 779.1 L1400 775 L1400.2 771.3 L1400.3 768 L1400.5 764.9 L1400.7 762.2 L1400.9 759.7 L1401.1 757.4 L1401.3 755.4 L1401.5 753.6 L1401.8 751.9 L1402 750.4 L1402.3 749 L1402.5 747.7 L1402.8 746.4 L1403.1 745.3 L1403.4 744.1 L1403.7 743 L1404 741.9 L1404.3 740.9 L1404.7 739.8 L1405 738.8 L1405.4 737.8 L1405.8 736.8 L1406.1 735.8 L1406.5 734.8 L1407 733.9 L1407.4 733 L1407.8 732.1 L1408.3 731.2 L1408.7 730.3 L1409.2 729.5 L1409.7 728.7 L1410.2 728 L1410.7 727.4 L1411.2 726.7 L1411.8 726.2 L1412.3 725.7 L1412.9 725.3 L1413.5 725 L1414.1 724.7 L1414.7 724.6 L1415.3 724.5 M1415.3 724.5 L1415.3 800 M1419.1 768.2 L1419.2 764.2 L1419.4 760.5 L1419.5 757.1 L1419.7 754.1 L1419.9 751.4 L1420 748.9 L1420.2 746.7 L1420.4 744.7 L1420.6 742.8 L1420.8 741.2 L1421.1 739.6 L1421.3 738.2 L1421.6 736.9 L1421.8 735.6 L1422.1 734.4 L1422.4 733.3 L1422.6 732.1 L1422.9 731 L1423.2 729.9 L1423.6 728.9 L1423.9 727.8 L1424.2 726.8 L1424.6 725.7 L1424.9 724.7 L1425.3 723.7 L1425.7 722.7 L1426.1 721.8 L1426.5 720.8 L1426.9 719.9 L1427.4 719 L1427.8 718.2 L1428.2 717.4 L1428.7 716.7 L1429.2 716 L1429.7 715.3 L1430.2 714.7 L1430.7 714.2 L1431.2 713.8 L1431.8 713.5 L1432.3 713.2 L1432.9 713.1 L1433.5 713 M1433.5 713 L1433.5 790 M1437.4 747.2 L1437.6 744 L1437.7 741.1 L1437.9 738.5 L1438.1 736.2 L1438.3 734 L1438.5 732.1 L1438.7 730.4 L1438.9 728.8 L1439.1 727.4 L1439.3 726 L1439.6 724.7 L1439.8 723.4 L1440.1 722.2 L1440.4 721.1 L1440.6 719.9 L1440.9 718.8 L1441.2 717.7 L1441.5 716.6 L1441.9 715.5 L1442.2 714.4 L1442.5 713.3 L1442.9 712.3 L1443.3 711.2 L1443.6 710.2 L1444 709.2 L1444.4 708.2 L1444.8 707.2 L1445.3 706.3 L1445.7 705.4 L1446.1 704.6 L1446.6 703.8 L1447.1 703.1 L1447.6 702.4 L1448.1 701.8 L1448.6 701.3 L1449.1 700.9 L1449.6 700.5 L1450.2 700.2 L1450.7 700.1 L1451.3 700 M1451.3 700 L1451.3 780 M1455.1 735.9 L1455.3 732.7 L1455.4 729.9 L1455.6 727.3 L1455.8 725 L1455.9 723 L1456.1 721.1 L1456.3 719.5 L1456.5 717.9 L1456.7 716.5 L1457 715.1 L1457.2 713.8 L1457.4 712.6 L1457.7 711.4 L1457.9 710.2 L1458.2 709 L1458.5 707.9 L1458.8 706.7 L1459 705.6 L1459.4 704.5 L1459.7 703.3 L1460 702.2 L1460.3 701.1 L1460.7 700 L1461 698.9 L1461.4 697.9 L1461.8 696.9 L1462.2 695.9 L1462.6 694.9 L1463 693.9 L1463.4 693.1 L1463.8 692.2 L1464.3 691.4 L1464.8 690.7 L1465.2 690 L1465.7 689.5 L1466.2 689 L1466.7 688.6 L1467.2 688.3 L1467.8 688.1 L1468.3 688 M1468.3 688 L1468.3 770 M1471.3 726.2 L1471.4 722.8 L1471.5 719.8 L1471.7 717.2 L1471.9 714.8 L1472 712.7 L1472.2 710.7 L1472.4 709 L1472.6 707.4 L1472.8 706 L1473 704.6 L1473.2 703.3 L1473.4 702 L1473.6 700.8 L1473.9 699.6 L1474.1 698.4 L1474.4 697.2 L1474.7 696.1 L1474.9 694.9 L1475.2 693.7 L1475.5 692.6 L1475.8 691.4 L1476.2 690.2 L1476.5 689.1 L1476.8 687.9 L1477.2 686.8 L1477.5 685.7 L1477.9 684.6 L1478.3 683.5 L1478.7 682.5 L1479.1 681.5 L1479.5 680.6 L1479.9 679.7 L1480.4 678.8 L1480.8 678 L1481.3 677.3 L1481.8 676.7 L1482.2 676.1 L1482.7 675.7 L1483.2 675.3 L1483.8 675.1 L1484.3 675 M1484.3 675 L1484.3 753.9 M1487.6 713.5 L1487.7 710.2 L1487.8 707.2 L1488 704.5 L1488.1 702.2 L1488.3 700.1 L1488.4 698.2 L1488.6 696.5 L1488.8 694.9 L1489 693.4 L1489.2 692 L1489.4 690.7 L1489.6 689.4 L1489.8 688.2 L1490 687 L1490.3 685.8 L1490.5 684.6 L1490.8 683.4 L1491 682.2 L1491.3 680.9 L1491.6 679.7 L1491.9 678.5 L1492.2 677.3 L1492.5 676.1 L1492.8 674.9 L1493.1 673.7 L1493.5 672.6 L1493.8 671.4 L1494.2 670.3 L1494.5 669.2 L1494.9 668.1 L1495.3 667.1 L1495.7 666.1 L1496.1 665.2 L1496.5 664.4 L1497 663.6 L1497.4 662.9 L1497.9 662.3 L1498.3 661.8 L1498.8 661.4 L1499.3 661.1 L1499.8 661 M1499.8 661 L1499.8 743.8 M1502.8 701.4 L1502.9 698 L1503 695.1 L1503.2 692.5 L1503.3 690.2 L1503.5 688.1 L1503.6 686.3 L1503.8 684.7 L1504 683.2 L1504.2 681.7 L1504.4 680.4 L1504.6 679.1 L1504.8 677.9 L1505 676.7 L1505.2 675.5 L1505.4 674.3 L1505.7 673.1 L1505.9 671.9 L1506.2 670.6 L1506.5 669.4 L1506.7 668.2 L1507 666.9 L1507.3 665.7 L1507.6 664.4 L1508 663.2 L1508.3 661.9 L1508.6 660.7 L1509 659.5 L1509.3 658.3 L1509.7 657.1 L1510.1 655.9 L1510.5 654.8 L1510.9 653.7 L1511.3 652.7 L1511.7 651.7 L1512.1 650.8 L1512.6 649.9 L1513 649.1 L1513.5 648.5 L1514 647.9 L1514.5 647.4 L1515 647.1 L1515.5 647 M1515.5 647 L1515.5 733.8 M1518.5 687.5 L1518.6 684.1 L1518.7 681.1 L1518.9 678.5 L1519 676.2 L1519.1 674.1 L1519.3 672.3 L1519.4 670.6 L1519.6 669.1 L1519.8 667.7 L1520 666.3 L1520.1 665 L1520.3 663.8 L1520.5 662.5 L1520.7 661.3 L1521 660 L1521.2 658.8 L1521.4 657.5 L1521.7 656.3 L1521.9 655 L1522.2 653.7 L1522.4 652.4 L1522.7 651.1 L1523 649.8 L1523.3 648.5 L1523.6 647.2 L1523.9 645.9 L1524.2 644.6 L1524.6 643.3 L1524.9 642 L1525.3 640.8 L1525.6 639.6 L1526 638.4 L1526.4 637.3 L1526.8 636.2 L1527.2 635.2 L1527.6 634.3 L1528 633.5 L1528.5 632.7 L1528.9 632 L1529.4 631.5 L1529.8 631.2 L1530.3 631 M1530.3 631 L1530.3 722.3 M1532.8 674.8 L1532.9 671.2 L1533 668 L1533.1 665.2 L1533.2 662.7 L1533.4 660.6 L1533.5 658.7 L1533.7 657 L1533.8 655.4 L1534 654 L1534.1 652.6 L1534.3 651.3 L1534.5 650 L1534.7 648.7 L1534.9 647.5 L1535.1 646.2 L1535.3 645 L1535.5 643.7 L1535.8 642.4 L1536 641.1 L1536.2 639.7 L1536.5 638.4 L1536.8 637 L1537 635.7 L1537.3 634.3 L1537.6 632.9 L1537.9 631.5 L1538.2 630.2 L1538.5 628.8 L1538.9 627.4 L1539.2 626.1 L1539.5 624.8 L1539.9 623.5 L1540.3 622.2 L1540.6 621 L1541 619.9 L1541.4 618.8 L1541.8 617.8 L1542.3 616.8 L1542.7 616 L1543.1 615.2 L1543.6 614.6 L1544 614.2 L1544.5 614 M1544.5 614 L1544.5 710.1 M1547.6 660 L1547.7 656.3 L1547.8 652.9 L1547.9 650 L1548 647.5 L1548.1 645.2 L1548.2 643.2 L1548.4 641.5 L1548.5 639.8 L1548.7 638.3 L1548.8 636.9 L1549 635.5 L1549.1 634.2 L1549.3 632.9 L1549.5 631.6 L1549.7 630.3 L1549.9 629 L1550.1 627.7 L1550.3 626.3 L1550.5 625 L1550.7 623.6 L1550.9 622.2 L1551.2 620.8 L1551.4 619.3 L1551.7 617.9 L1552 616.5 L1552.2 615 L1552.5 613.6 L1552.8 612.1 L1553.1 610.7 L1553.4 609.3 L1553.7 607.8 L1554 606.5 L1554.4 605.1 L1554.7 603.8 L1555.1 602.6 L1555.4 601.4 L1555.8 600.3 L1556.2 599.2 L1556.6 598.3 L1557 597.4 L1557.4 596.7 L1557.8 596.2 L1558.2 596 M1558.2 596 L1558.2 697.2 M1561 641.7 L1561.1 638.2 L1561.2 635.1 L1561.3 632.4 L1561.4 630.1 L1561.5 628 L1561.6 626.2 L1561.8 624.5 L1561.9 623 L1562 621.5 L1562.2 620.2 L1562.3 618.9 L1562.5 617.5 L1562.7 616.2 L1562.9 614.9 L1563 613.6 L1563.2 612.3 L1563.4 610.9 L1563.6 609.5 L1563.9 608.1 L1564.1 606.7 L1564.3 605.2 L1564.5 603.7 L1564.8 602.2 L1565 600.7 L1565.3 599.2 L1565.6 597.7 L1565.9 596.1 L1566.1 594.6 L1566.4 593.1 L1566.7 591.6 L1567.1 590.1 L1567.4 588.6 L1567.7 587.2 L1568 585.7 L1568.4 584.4 L1568.7 583.1 L1569.1 581.8 L1569.5 580.7 L1569.9 579.6 L1570.3 578.7 L1570.7 577.9 L1571.1 577.3 L1571.5 577 M1571.5 577 L1571.5 683.6 M1574.4 625.1 L1574.5 621 L1574.6 617.4 L1574.7 614.4 L1574.8 611.7 L1574.9 609.4 L1575 607.3 L1575.1 605.5 L1575.3 603.8 L1575.4 602.3 L1575.5 600.8 L1575.7 599.5 L1575.8 598.1 L1576 596.7 L1576.1 595.4 L1576.3 594 L1576.5 592.6 L1576.7 591.2 L1576.9 589.8 L1577.1 588.3 L1577.3 586.9 L1577.5 585.3 L1577.7 583.8 L1577.9 582.2 L1578.1 580.7 L1578.4 579.1 L1578.6 577.4 L1578.9 575.8 L1579.2 574.2 L1579.4 572.5 L1579.7 570.9 L1580 569.3 L1580.3 567.6 L1580.6 566 L1580.9 564.5 L1581.2 562.9 L1581.6 561.4 L1581.9 560 L1582.2 558.6 L1582.6 557.3 L1583 556.1 L1583.3 555 L1583.7 554.1 L1584.1 553.4 L1584.5 553 M1584.5 553 L1584.5 666.2 M1587.4 602.8 L1587.5 599.1 L1587.6 595.9 L1587.7 593.2 L1587.8 590.8 L1587.9 588.8 L1588 587 L1588.2 585.3 L1588.3 583.8 L1588.4 582.4 L1588.6 581 L1588.7 579.7 L1588.8 578.4 L1589 577 L1589.2 575.7 L1589.3 574.3 L1589.5 572.9 L1589.7 571.5 L1589.9 570 L1590.1 568.5 L1590.3 566.9 L1590.5 565.4 L1590.7 563.8 L1591 562.2 L1591.2 560.5 L1591.4 558.9 L1591.7 557.2 L1591.9 555.5 L1592.2 553.7 L1592.5 552 L1592.8 550.3 L1593 548.6 L1593.3 546.9 L1593.7 545.2 L1594 543.5 L1594.3 541.8 L1594.6 540.2 L1595 538.6 L1595.3 537.1 L1595.7 535.7 L1596 534.4 L1596.4 533.2 L1596.8 532.1 L1597.2 531.3 L1597.6 530.8 M1597.6 530.8 L1597.6 650.3 M1600.1 583.7 L1600.2 579.3 L1600.3 575.6 L1600.4 572.4 L1600.5 569.7 L1600.5 567.4 L1600.7 565.3 L1600.8 563.5 L1600.9 561.8 L1601 560.3 L1601.1 558.9 L1601.2 557.5 L1601.4 556.1 L1601.5 554.7 L1601.7 553.3 L1601.8 551.9 L1602 550.5 L1602.2 549 L1602.3 547.5 L1602.5 546 L1602.7 544.4 L1602.9 542.8 L1603.1 541.2 L1603.3 539.5 L1603.5 537.8 L1603.7 536.1 L1604 534.3 L1604.2 532.6 L1604.4 530.8 L1604.7 529 L1605 527.2 L1605.2 525.4 L1605.5 523.6 L1605.8 521.8 L1606.1 520 L1606.4 518.3 L1606.7 516.5 L1607 514.8 L1607.3 513.2 L1607.6 511.6 L1608 510.1 L1608.3 508.7 L1608.7 507.5 L1609 506.4 L1609.4 505.5 L1609.8 505 M1609.8 505 L1609.8 631.7 M1612.4 557.4 L1612.5 553.3 L1612.6 549.8 L1612.7 546.9 L1612.7 544.4 L1612.8 542.2 L1612.9 540.3 L1613 538.6 L1613.2 537 L1613.3 535.6 L1613.4 534.2 L1613.5 532.8 L1613.7 531.4 L1613.8 530 L1614 528.6 L1614.1 527.1 L1614.3 525.6 L1614.4 524.1 L1614.6 522.6 L1614.8 521 L1615 519.3 L1615.2 517.7 L1615.4 516 L1615.6 514.2 L1615.8 512.5 L1616 510.7 L1616.2 508.9 L1616.5 507 L1616.7 505.2 L1616.9 503.3 L1617.2 501.4 L1617.5 499.5 L1617.7 497.7 L1618 495.8 L1618.3 493.9 L1618.6 492.1 L1618.9 490.3 L1619.2 488.5 L1619.5 486.8 L1619.9 485.2 L1620.2 483.6 L1620.5 482.2 L1620.9 480.9 L1621.3 479.7 L1621.6 478.8 L1622 478.3 M1622 478.3 L1622 612.6 M1624.2 531.8 L1624.3 527.3 L1624.4 523.5 L1624.5 520.3 L1624.6 517.6 L1624.6 515.3 L1624.7 513.3 L1624.8 511.5 L1624.9 509.9 L1625.1 508.4 L1625.2 507 L1625.3 505.6 L1625.4 504.2 L1625.6 502.8 L1625.7 501.3 L1625.9 499.8 L1626 498.3 L1626.2 496.8 L1626.3 495.2 L1626.5 493.5 L1626.7 491.8 L1626.9 490.1 L1627.1 488.4 L1627.3 486.6 L1627.5 484.7 L1627.7 482.9 L1627.9 481 L1628.1 479.1 L1628.4 477.1 L1628.6 475.2 L1628.8 473.2 L1629.1 471.2 L1629.4 469.3 L1629.6 467.3 L1629.9 465.3 L1630.2 463.4 L1630.5 461.4 L1630.8 459.5 L1631.1 457.7 L1631.4 455.9 L1631.8 454.2 L1632.1 452.5 L1632.4 451 L1632.8 449.6 L1633.2 448.4 L1633.5 447.4 L1633.9 446.9 M1633.9 446.9 L1633.9 590 M1636.1 498.7 L1636.2 494.1 L1636.2 490.2 L1636.3 487 L1636.4 484.2 L1636.5 481.9 L1636.6 479.8 L1636.7 478 L1636.8 476.4 L1636.9 474.8 L1637 473.3 L1637.1 471.9 L1637.2 470.4 L1637.3 468.9 L1637.5 467.4 L1637.6 465.8 L1637.8 464.2 L1637.9 462.5 L1638.1 460.8 L1638.2 459.1 L1638.4 457.3 L1638.6 455.5 L1638.8 453.6 L1638.9 451.7 L1639.1 449.8 L1639.3 447.8 L1639.5 445.8 L1639.8 443.8 L1640 441.7 L1640.2 439.6 L1640.4 437.6 L1640.7 435.5 L1640.9 433.3 L1641.2 431.2 L1641.4 429.2 L1641.7 427.1 L1642 425 L1642.3 423 L1642.6 421 L1642.9 419.1 L1643.2 417.3 L1643.5 415.6 L1643.8 413.9 L1644.2 412.5 L1644.5 411.2 L1644.8 410.2 L1645.2 409.6 M1645.2 409.6 L1645.2 563 M1647.5 464.4 L1647.6 459 L1647.7 454.5 L1647.7 450.8 L1647.8 447.6 L1647.9 445 L1648 442.8 L1648 440.8 L1648.1 439 L1648.2 437.4 L1648.3 435.8 L1648.5 434.3 L1648.6 432.8 L1648.7 431.2 L1648.8 429.7 L1648.9 428 L1649.1 426.4 L1649.2 424.7 L1649.4 422.9 L1649.5 421.1 L1649.7 419.2 L1649.8 417.3 L1650 415.4 L1650.2 413.4 L1650.4 411.4 L1650.6 409.3 L1650.8 407.2 L1651 405 L1651.2 402.9 L1651.4 400.7 L1651.6 398.5 L1651.8 396.2 L1652.1 394 L1652.3 391.7 L1652.6 389.5 L1652.8 387.3 L1653.1 385.1 L1653.4 382.9 L1653.6 380.7 L1653.9 378.6 L1654.2 376.6 L1654.5 374.6 L1654.8 372.8 L1655.2 371 L1655.5 369.5 L1655.8 368.1 L1656.2 367 L1656.5 366.4 M1656.5 366.4 L1656.5 531.7 M1658.9 418.8 L1659 413.2 L1659 408.7 L1659.1 405 L1659.2 401.9 L1659.3 399.4 L1659.4 397.3 L1659.4 395.4 L1659.5 393.7 L1659.6 392.1 L1659.7 390.6 L1659.9 389.1 L1660 387.5 L1660.1 385.9 L1660.2 384.3 L1660.4 382.6 L1660.5 380.9 L1660.7 379.1 L1660.8 377.2 L1661 375.3 L1661.1 373.4 L1661.3 371.3 L1661.5 369.3 L1661.7 367.2 L1661.9 365 L1662.1 362.8 L1662.3 360.5 L1662.5 358.3 L1662.7 355.9 L1662.9 353.6 L1663.2 351.2 L1663.4 348.8 L1663.6 346.4 L1663.9 343.9 L1664.2 341.5 L1664.4 339.1 L1664.7 336.7 L1665 334.2 L1665.3 331.9 L1665.6 329.5 L1665.9 327.3 L1666.2 325 L1666.6 322.9 L1666.9 320.9 L1667.2 319 L1667.6 317.3 L1668 315.8 L1668.3 314.7 L1668.7 314 M1668.7 314 L1668.7 493.5 M1670.1 346.1 L1670.1 339.6 L1670.2 334.3 L1670.3 330 L1670.3 326.5 L1670.4 323.6 L1670.5 321.1 L1670.6 318.9 L1670.7 316.9 L1670.8 315.1 L1670.9 313.2 L1671 311.4 L1671.1 309.6 L1671.2 307.7 L1671.3 305.7 L1671.4 303.7 L1671.6 301.7 L1671.7 299.5 L1671.8 297.3 L1672 295.1 L1672.1 292.7 L1672.3 290.3 L1672.5 287.9 L1672.6 285.3 L1672.8 282.8 L1673 280.1 L1673.2 277.5 L1673.4 274.7 L1673.6 272 L1673.8 269.2 L1674 266.3 L1674.3 263.5 L1674.5 260.6 L1674.7 257.7 L1675 254.8 L1675.2 251.9 L1675.5 249 L1675.8 246.1 L1676 243.3 L1676.3 240.5 L1676.6 237.8 L1676.9 235.2 L1677.2 232.6 L1677.5 230.2 L1677.8 228 L1678.2 226 L1678.5 224.2 L1678.8 222.8 L1679.2 222 M1679.2 222 L1679.2 425.3 M1680.7 281.7 L1680.7 275 L1680.8 269.6 L1680.8 265.4 L1680.9 261.9 L1681 259.1 L1681.1 256.8 L1681.2 254.7 L1681.2 252.8 L1681.3 251 L1681.4 249.2 L1681.5 247.3 L1681.7 245.5 L1681.8 243.5 L1681.9 241.6 L1682 239.5 L1682.2 237.4 L1682.3 235.2 L1682.5 232.9 L1682.6 230.5 L1682.8 228.1 L1682.9 225.6 L1683.1 223 L1683.3 220.4 L1683.5 217.7 L1683.7 215 L1683.9 212.2 L1684.1 209.3 L1684.3 206.4 L1684.5 203.4 L1684.7 200.4 L1685 197.4 L1685.2 194.3 L1685.4 191.2 L1685.7 188.1 L1686 185 L1686.2 181.9 L1686.5 178.9 L1686.8 175.8 L1687.1 172.8 L1687.4 169.8 L1687.7 166.9 L1688 164.1 L1688.4 161.4 L1688.7 158.8 L1689 156.4 L1689.4 154.2 L1689.8 152.3 L1690.1 150.8 L1690.5 150 M1690.5 150 L1690.5 372.9 M1691 199.6 L1691.1 192.9 L1691.1 187.5 L1691.2 183.3 L1691.3 179.9 L1691.4 177.2 L1691.4 174.8 L1691.5 172.7 L1691.6 170.7 L1691.7 168.8 L1691.8 166.9 L1691.9 165 L1692 163 L1692.1 160.9 L1692.2 158.7 L1692.4 156.5 L1692.5 154.2 L1692.6 151.9 L1692.8 149.4 L1692.9 146.9 L1693.1 144.2 L1693.2 141.5 L1693.4 138.8 L1693.6 135.9 L1693.7 133 L1693.9 130.1 L1694.1 127 L1694.3 123.9 L1694.5 120.8 L1694.7 117.6 L1694.9 114.4 L1695.2 111.1 L1695.4 107.8 L1695.6 104.5 L1695.9 101.1 L1696.1 97.8 L1696.4 94.4 L1696.7 91.1 L1696.9 87.8 L1697.2 84.6 L1697.5 81.3 L1697.8 78.2 L1698.1 75.2 L1698.4 72.3 L1698.8 69.5 L1699.1 66.9 L1699.4 64.6 L1699.8 62.5 L1700.1 60.9 L1700.5 60 M1700.5 60 L1700.5 307.2 M1701.8 107.7 L1701.8 100.5 L1701.9 94.8 L1702 90.2 L1702 86.6 L1702.1 83.6 L1702.2 81.1 L1702.2 78.8 L1702.3 76.7 L1702.4 74.7 L1702.5 72.7 L1702.6 70.6 L1702.7 68.5 L1702.8 66.3 L1702.9 64.1 L1703 61.7 L1703.1 59.3 L1703.2 56.8 L1703.4 54.2 L1703.5 51.5 L1703.6 48.8 L1703.8 45.9 L1703.9 43 L1704.1 40 L1704.3 37 L1704.4 33.8 L1704.6 30.7 L1704.8 27.4 L1705 24.1 L1705.2 20.7 L1705.4 17.3 L1705.6 13.9 L1705.8 10.4 L1706 6.9 L1706.2 3.4 L1706.4 -0.2 L1706.7 -3.7 L1706.9 -7.2 L1707.2 -10.7 L1707.4 -14.1 L1707.7 -17.5 L1708 -20.8 L1708.2 -24 L1708.5 -27.1 L1708.8 -30 L1709.1 -32.7 L1709.4 -35.2 L1709.7 -37.3 L1710.1 -39 L1710.4 -40 M1710.4 -40 L1710.4 234.5"/>
<path stroke-width="3.6" d="M321.3 990.1 L322.5 1018 L324.8 1046.7 M324.8 1046.7 L326.8 1055.7 L326.8 1055.7 M382.7 1035.8 L383 951.8 M383 951.8 L384.5 1000 L387.1 1035.8 M387.1 1035.8 L389.5 1049.2 L389.5 1049.2 M449.1 1025.8 L449.4 920.8 M449.4 920.8 L451 987.5 L453.6 1025.8 M453.6 1025.8 L456 1043.3 L456.5 1044.8 M514.7 1016.7 L515 894.3 M515 894.3 L516.5 975.8 L519.1 1016.7 M519.1 1016.7 L521.5 1037.1 L522.2 1039.8 M578.7 1008 L579 872.1 M579 872.1 L580.3 965.5 L582.6 1008 M582.6 1008 L584.8 1030.8 L585.6 1034.5 M640.1 999.2 L640.4 849.4 M640.4 849.4 L641.5 955.3 L643.5 999.2 M643.5 999.2 L645.3 1024.4 L646.1 1029.2 M697.7 990.7 L698 828.2 M698 828.2 L699 944.5 L701 990.7 M701 990.7 L702.8 1018.5 L703.7 1024.4 M752.1 983 L752.4 809.2 M752.4 809.2 L753.4 935.5 L755.4 983 M755.4 983 L757.2 1011.8 L758.1 1018.1 M803.7 975.1 L804 788.5 M804 788.5 L804.9 925.6 L806.7 975.1 M806.7 975.1 L808.4 1005.8 L809.2 1013 M852.7 966.6 L853 769.6 M853 769.6 L853.8 916.2 L855.4 966.6 M855.4 966.6 L856.9 999.4 L857.7 1007.4"/>
<path stroke-width="3.0" d="M899.2 958.5 L899.5 752 M899.5 752 L900 906 L901.2 958.5 M901.2 958.5 L902.4 992.5 L903.1 1001 M941.6 951 L941.9 732 M941.9 732 L942.5 895.8 L944 951 M944 951 L945.4 985.7 L946.1 994.6 M981.7 942.5 L982 712 M982 712 L982.7 887.3 L984.3 942.5 M984.3 942.5 L985.8 979.2 L986.6 989 M1020.5 934 L1020.8 692 M1020.8 692 L1021.4 878.2 L1022.8 934 M1022.8 934 L1024.1 972.3 L1024.9 982.7 M1056.7 926.4 L1057 673.7 M1057 673.7 L1057.6 868.9 L1058.9 926.4 M1058.9 926.4 L1060.1 965.5 L1060.9 976.2 M1091.6 917.9 L1091.9 653.7 M1091.9 653.7 L1092.4 859 L1093.7 917.9 M1093.7 917.9 L1094.8 958.4 L1095.5 969.7 M1123.9 909.4 L1124.2 632.1 M1124.2 632.1 L1124.7 849 L1126 909.4 M1126 909.4 L1127.1 951 L1127.8 962.9 M1154.9 901.5 L1155.2 610.1 M1155.2 610.1 L1155.6 839.7 L1156.8 901.5 M1156.8 901.5 L1158 944.1 L1158.7 956.4 M1184.8 893 L1185.1 588.7 M1185.1 588.7 L1185.5 830.7 L1186.5 893 M1186.5 893 L1187.6 937 L1188.2 949.9 M1212.6 883 L1212.9 568.8 M1212.9 568.8 L1213.3 820.7 L1214.2 883 M1214.2 883 L1215.1 929.2 L1215.7 943"/>
<path stroke-width="2.2" d="M1239 874.6 L1239.3 545.2 M1239.3 545.2 L1239.7 810.8 L1240.7 874.6 M1240.7 874.6 L1241.6 921.6 L1242.2 935.7 M1265.1 866 L1265.4 522.6 M1265.4 522.6 L1265.8 800.9 L1266.2 866 M1266.2 866 L1266.8 914.2 L1267.2 928.9 M1289.2 856 L1289.5 498.5 M1289.5 498.5 L1289.9 791 L1290.5 856 M1290.5 856 L1291.3 905.7 L1291.8 921 M1312.7 847.6 L1313 475.8 M1313 475.8 L1313.4 781 L1313.9 847.6 M1313.9 847.6 L1314.6 898.2 L1315.1 913.9 M1335.3 837.7 L1335.6 452.6 M1335.6 452.6 L1336 769.7 L1336.2 837.7 M1336.2 837.7 L1336.8 889.9 L1337.3 906.2 M1337.3 906.2 L1337.3 908.7 L1337.4 910.5 L1337.4 911.5 L1337.5 911.8 L1337.5 911.3 L1337.5 910.1 L1337.5 908.2 L1337.5 905.5 L1337.5 903.2 L1337.5 900.5 L1337.6 897.4 L1337.6 894 L1337.6 890.2 L1337.7 886 L1337.7 881.5 L1337.8 876.8 L1337.9 871.8 L1337.9 866.6 L1338 861.3 L1338.1 856 M1356.1 830 L1356.4 428 M1356.4 428 L1356.8 760.4 L1357.2 830 M1357.2 830 L1358 883 L1358.4 899.7 M1358.4 899.7 L1358.5 902.2 L1358.6 904.1 L1358.6 905.2 L1358.7 905.7 L1358.7 905.5 L1358.7 904.5 L1358.7 902.9 L1358.6 900.6 L1358.7 898.6 L1358.7 896.1 L1358.7 893.2 L1358.7 890 L1358.8 886.3 L1358.8 882.2 L1358.9 877.8 L1358.9 873 L1359 868 L1359 862.8 L1359.1 857.3 L1359.2 851.8 L1359.3 846.1 L1359.4 840.5 L1359.5 834.8 M1376.4 820 L1376.7 402.6 M1376.7 402.6 L1377.1 748 L1377.3 820 M1377.3 820 L1377.9 874 L1378.4 891.2 M1378.4 891.2 L1378.4 893.7 L1378.5 895.5 L1378.5 896.6 L1378.6 897.1 L1378.6 896.8 L1378.6 895.7 L1378.6 894 L1378.5 891.6 L1378.6 889.4 L1378.6 886.7 L1378.6 883.5 L1378.6 880 L1378.7 876 L1378.7 871.6 L1378.8 866.8 L1378.8 861.7 L1378.9 856.3 L1378.9 850.7 L1379 845 L1379.1 839.1 L1379.2 833.2 L1379.3 827.3 L1379.4 821.5 L1379.5 815.9 L1379.6 810.4 M1396.3 810 L1396.6 372.8 M1396.6 372.8 L1397 736.5 L1397.2 810 M1397.2 810 L1397.8 865.7 L1398.2 883.6 M1398.2 883.6 L1398.2 886.1 L1398.3 887.9 L1398.3 889 L1398.4 889.4 L1398.4 889 L1398.4 887.9 L1398.4 886.1 L1398.3 883.6 L1398.4 881.2 L1398.4 878.3 L1398.4 875 L1398.4 871.2 L1398.5 866.9 L1398.5 862.2 L1398.6 857.2 L1398.6 851.8 L1398.7 846.1 L1398.7 840.2 L1398.8 834.2 L1398.9 828.1 L1399 821.9 L1399 815.9 L1399.1 809.9 L1399.2 804.1 L1399.4 798.5 L1399.5 793.2 L1399.6 788.1 M1415.5 800 L1415.8 346.7 M1415.8 346.7 L1416.2 724.5 L1416.4 800 M1416.4 800 L1417 856.6 L1417.5 874.8 M1417.5 874.8 L1417.5 877.3 L1417.6 879.1 L1417.6 880.2 L1417.7 880.5 L1417.7 880.1 L1417.7 879 L1417.7 877.2 L1417.6 874.6 L1417.7 872.2 L1417.7 869.2 L1417.7 865.8 L1417.7 861.9 L1417.8 857.5 L1417.8 852.7 L1417.8 847.5 L1417.9 842 L1417.9 836.2 L1418 830.2 L1418.1 824 L1418.1 817.8 L1418.2 811.6 L1418.3 805.4 L1418.4 799.3 L1418.5 793.4 L1418.6 787.8 L1418.7 782.4 L1418.8 777.4 L1418.9 772.6 L1419.1 768.2 M1433.7 790 L1434 314.7 M1434 314.7 L1434.4 713 L1434.6 790 M1434.6 790 L1435.2 847.8 L1435.6 866.6 M1435.6 866.6 L1435.6 869.1 L1435.7 870.9 L1435.7 871.9 L1435.8 872.2 L1435.8 871.7 L1435.8 870.5 L1435.8 868.6 L1435.7 865.9 L1435.8 863.2 L1435.8 860 L1435.8 856.3 L1435.8 852 L1435.9 847.3 L1435.9 842.2 L1435.9 836.6 L1436 830.7 L1436 824.6 L1436.1 818.2 L1436.2 811.7 L1436.2 805.2 L1436.3 798.7 L1436.4 792.3 L1436.5 786 L1436.6 780 L1436.7 774.3 L1436.8 768.9 L1436.9 763.8 L1437 759.1 L1437.1 754.8 L1437.3 750.8 L1437.4 747.2 M1451.5 780 L1451.8 285 M1451.8 285 L1452.2 700 L1452.4 780 M1452.4 780 L1453 838.7 L1453.4 857.8 M1453.4 857.8 L1453.4 860.3 L1453.5 862.1 L1453.5 863.1 L1453.6 863.3 L1453.6 862.8 L1453.6 861.6 L1453.6 859.6 L1453.5 856.8 L1453.6 854 L1453.6 850.7 L1453.6 846.8 L1453.6 842.4 L1453.7 837.5 L1453.7 832.1 L1453.7 826.4 L1453.8 820.3 L1453.8 813.9 L1453.9 807.4 L1453.9 800.7 L1454 794.1 L1454.1 787.4 L1454.1 780.9 L1454.2 774.6 L1454.3 768.5 L1454.4 762.7 L1454.5 757.3 L1454.6 752.2 L1454.7 747.6 L1454.9 743.3 L1455 739.4 L1455.1 735.9 M1468.5 770 L1468.8 254.4 M1468.8 254.4 L1469.2 688 L1469 770 M1469 770 L1469.4 829.3 L1469.7 848.7 M1469.7 848.7 L1469.8 851.2 L1469.8 853.1 L1469.9 854.2 L1469.9 854.7 L1469.9 854.4 L1469.9 853.5 L1469.9 851.9 L1469.8 849.6 L1469.8 847.1 L1469.9 844.1 L1469.9 840.5 L1469.9 836.4 L1469.9 831.7 L1469.9 826.4 L1470 820.7 L1470 814.6 L1470.1 808.2 L1470.1 801.5 L1470.2 794.7 L1470.2 787.7 L1470.3 780.8 L1470.4 774 L1470.4 767.3 L1470.5 760.9 L1470.6 754.7 L1470.7 749 L1470.8 743.6 L1470.9 738.6 L1471 734.1 L1471.1 729.9 L1471.3 726.2 M1484.5 753.9 L1484.8 216 M1484.8 216 L1485.2 675 L1485.2 753.9 M1485.2 753.9 L1485.7 817.5 L1486.1 838.8 M1486.1 838.8 L1486.2 841.3 L1486.2 843.2 L1486.3 844.3 L1486.3 844.7 L1486.3 844.5 L1486.3 843.5 L1486.3 841.9 L1486.2 839.5 L1486.2 837 L1486.2 833.8 L1486.3 830.1 L1486.3 825.8 L1486.3 820.9 L1486.3 815.5 L1486.4 809.7 L1486.4 803.4 L1486.4 796.8 L1486.5 789.9 L1486.5 782.8 L1486.6 775.7 L1486.7 768.7 L1486.7 761.7 L1486.8 754.9 L1486.9 748.4 L1487 742.2 L1487 736.3 L1487.1 730.9 L1487.2 725.9 L1487.3 721.3 L1487.5 717.2 L1487.6 713.5 M1500 743.8 L1500.3 178.7 M1500.3 178.7 L1500.7 661 L1500.7 743.8 M1500.7 743.8 L1501.1 807.3 L1501.4 828.5 M1501.4 828.5 L1501.5 831 L1501.5 832.8 L1501.6 833.9 L1501.6 834.3 L1501.6 833.9 L1501.6 832.8 L1501.6 831 L1501.5 828.5 L1501.5 825.7 L1501.5 822.1 L1501.6 818 L1501.6 813.2 L1501.6 807.8 L1501.6 801.8 L1501.7 795.3 L1501.7 788.5 L1501.8 781.3 L1501.8 773.9 L1501.9 766.5 L1501.9 759 L1502 751.6 L1502 744.5 L1502.1 737.6 L1502.2 731 L1502.3 724.9 L1502.4 719.3 L1502.5 714.1 L1502.6 709.4 L1502.7 705.1 L1502.8 701.4 M1515.7 733.8 L1516 122 M1516 122 L1516.4 647 L1516.4 733.8 M1516.4 733.8 L1516.9 796.9 L1517.2 818 M1517.2 818 L1517.3 820.5 L1517.3 822.3 L1517.4 823.4 L1517.4 823.7 L1517.4 823.3 L1517.4 822.2 L1517.4 820.4 L1517.3 817.8 L1517.3 814.9 L1517.3 811.2 L1517.4 806.9 L1517.4 802 L1517.4 796.4 L1517.4 790.2 L1517.5 783.6 L1517.5 776.5 L1517.5 769.2 L1517.6 761.6 L1517.6 753.9 L1517.7 746.2 L1517.7 738.7 L1517.8 731.3 L1517.9 724.3 L1517.9 717.6 L1518 711.4 L1518.1 705.6 L1518.2 700.4 L1518.3 695.6 L1518.4 691.3 L1518.5 687.5 M1530.5 722.3 L1530.8 82 M1530.8 82 L1531.2 631 L1531 722.3 M1531 722.3 L1531.4 786.1 L1531.6 807.4 M1531.6 807.4 L1531.7 809.9 L1531.7 811.7 L1531.8 812.7 L1531.8 813 L1531.8 812.5 L1531.8 811.3 L1531.8 809.3 L1531.7 806.6 L1531.7 803.4 L1531.7 799.4 L1531.8 794.7 L1531.8 789.3 L1531.8 783.3 L1531.8 776.6 L1531.9 769.5 L1531.9 761.9 L1531.9 754.1 L1532 746 L1532 738 L1532.1 729.9 L1532.1 722.1 L1532.2 714.6 L1532.3 707.4 L1532.3 700.6 L1532.4 694.4 L1532.5 688.7 L1532.6 683.5 L1532.7 678.9 L1532.8 674.8 M1544.7 710.1 L1545 42 M1545 42 L1545.4 614 L1545.5 710.1 M1545.5 710.1 L1546.1 774.1 L1546.5 795.5 M1546.5 795.5 L1546.6 798 L1546.6 799.8 L1546.7 800.8 L1546.7 801 L1546.7 800.6 L1546.7 799.3 L1546.7 797.4 L1546.6 794.6 L1546.6 791.4 L1546.6 787.4 L1546.7 782.6 L1546.7 777.2 L1546.7 771 L1546.7 764.3 L1546.7 757 L1546.8 749.3 L1546.8 741.4 L1546.8 733.2 L1546.9 724.9 L1546.9 716.8 L1547 708.7 L1547 701 L1547.1 693.7 L1547.2 686.7 L1547.2 680.3 L1547.3 674.4 L1547.4 669.1 L1547.5 664.3 L1547.6 660 M1558.4 697.2 L1558.7 2 M1558.7 2 L1559.1 596 L1559.1 697.2 M1559.1 697.2 L1559.6 762 L1559.9 783.8 M1559.9 783.8 L1560 786.3 L1560 788 L1560.1 789 L1560.1 789.2 L1560.1 788.6 L1560.1 787.2 L1560.1 785.1 L1560 782.2 L1560 778.6 L1560 774.2 L1560.1 769 L1560.1 763 L1560.1 756.3 L1560.1 749 L1560.1 741.1 L1560.2 732.9 L1560.2 724.3 L1560.2 715.6 L1560.3 706.9 L1560.3 698.4 L1560.4 690.1 L1560.4 682.1 L1560.5 674.7 L1560.6 667.7 L1560.6 661.3 L1560.7 655.5 L1560.8 650.4 L1560.9 645.8 L1561 641.7 M1571.7 683.6 L1572 -38 M1572 -38 L1572.4 577 L1572.5 683.6 M1572.5 683.6 L1573.1 748.6 L1573.5 770.5 M1573.5 770.5 L1573.6 773 L1573.6 774.9 L1573.7 776 L1573.7 776.5 L1573.7 776.2 L1573.7 775.3 L1573.7 773.7 L1573.6 771.4 L1573.6 768.3 L1573.6 764.5 L1573.6 759.7 L1573.7 754.1 L1573.7 747.7 L1573.7 740.6 L1573.7 732.8 L1573.7 724.4 L1573.8 715.6 L1573.8 706.6 L1573.8 697.4 L1573.9 688.3 L1573.9 679.3 L1574 670.6 L1574 662.3 L1574.1 654.6 L1574.1 647.4 L1574.2 640.9 L1574.3 635 L1574.3 629.7 L1574.4 625.1 M1584.7 666.2 L1585 -78 M1585 -78 L1585.4 553 L1585.5 666.2 M1585.5 666.2 L1586.1 732.6 L1586.5 755 M1586.5 755 L1586.6 757.5 L1586.6 759.3 L1586.7 760.4 L1586.7 760.8 L1586.7 760.5 L1586.7 759.5 L1586.7 757.7 L1586.6 755.3 L1586.6 751.9 L1586.6 747.5 L1586.6 742.3 L1586.7 736.1 L1586.7 729 L1586.7 721.2 L1586.7 712.6 L1586.7 703.6 L1586.8 694.1 L1586.8 684.4 L1586.8 674.7 L1586.9 665.2 L1586.9 655.9 L1587 647 L1587 638.7 L1587.1 631 L1587.1 623.9 L1587.2 617.6 L1587.3 612 L1587.4 607.1 L1587.4 602.8 M1597.8 650.3 L1598.1 -118 M1598.1 -118 L1598.5 530.8 L1598.5 650.3 M1598.5 650.3 L1599 717.2 L1599.3 739.8 M1599.3 739.8 L1599.4 742.3 L1599.4 744.1 L1599.5 745.2 L1599.5 745.5 L1599.5 745.1 L1599.5 744 L1599.5 742.2 L1599.4 739.6 L1599.4 736 L1599.4 731.3 L1599.4 725.7 L1599.5 719 L1599.5 711.5 L1599.5 703.1 L1599.5 694 L1599.5 684.3 L1599.6 674.3 L1599.6 664.1 L1599.6 653.8 L1599.7 643.8 L1599.7 634 L1599.8 624.8 L1599.8 616.1 L1599.9 608.1 L1599.9 600.9 L1600 594.4 L1600 588.7 L1600.1 583.7 M1610 631.7 L1610.3 -158 M1610.3 -158 L1610.7 505 L1610.8 631.7 M1610.8 631.7 L1611.2 699.8 L1611.6 723 M1611.6 723 L1611.7 725.5 L1611.7 727.3 L1611.8 728.3 L1611.8 728.5 L1611.8 728 L1611.8 726.8 L1611.8 724.8 L1611.7 722.1 L1611.7 718 L1611.7 712.8 L1611.7 706.6 L1611.7 699.2 L1611.8 690.8 L1611.8 681.6 L1611.8 671.7 L1611.8 661.2 L1611.9 650.3 L1611.9 639.4 L1611.9 628.5 L1612 617.9 L1612 607.7 L1612 598.1 L1612.1 589.3 L1612.2 581.3 L1612.2 574.1 L1612.3 567.7 L1612.3 562.2 L1612.4 557.4 M1622.2 612.6 L1622.5 -198 M1622.5 -198 L1622.9 478.3 L1622.8 612.6 M1622.8 612.6 L1623.2 681.5 L1623.5 705 M1623.5 705 L1623.6 707.5 L1623.6 709.2 L1623.7 710.1 L1623.7 710.3 L1623.7 709.6 L1623.7 708.2 L1623.7 706.1 L1623.6 703.1 L1623.6 698.4 L1623.6 692.6 L1623.6 685.4 L1623.6 677.1 L1623.7 667.7 L1623.7 657.4 L1623.7 646.3 L1623.7 634.8 L1623.8 622.9 L1623.8 611 L1623.8 599.3 L1623.9 588.1 L1623.9 577.4 L1623.9 567.5 L1624 558.5 L1624.1 550.4 L1624.1 543.3 L1624.2 537.1 L1624.2 531.8 M1634.1 590 L1634.4 -238 M1634.4 -238 L1634.8 446.9 L1634.7 590 M1634.7 590 L1635.1 660 L1635.4 684 M1635.4 684 L1635.5 686.5 L1635.5 688.1 L1635.6 689 L1635.6 689.1 L1635.6 688.4 L1635.6 686.8 L1635.6 684.5 L1635.5 681.4 L1635.5 676.4 L1635.5 670 L1635.5 662.2 L1635.5 653.2 L1635.6 643.1 L1635.6 631.9 L1635.6 620 L1635.6 607.5 L1635.6 594.8 L1635.7 582.1 L1635.7 569.6 L1635.7 557.6 L1635.8 546.4 L1635.8 535.9 L1635.9 526.5 L1635.9 518 L1636 510.6 L1636 504.2 L1636.1 498.7 M1645.4 563 L1645.7 -278 M1645.7 -278 L1646.1 409.6 L1646.1 563 M1646.1 563 L1646.6 634.9 L1646.9 659.7 M1646.9 659.7 L1647 662.2 L1647 664 L1647.1 665.2 L1647.1 665.6 L1647.1 665.3 L1647.1 664.3 L1647 662.6 L1647 660.2 L1647 655.9 L1647 650.2 L1647 643 L1647 634.3 L1647 624.1 L1647.1 612.8 L1647.1 600.3 L1647.1 587.1 L1647.1 573.4 L1647.1 559.4 L1647.2 545.6 L1647.2 532.2 L1647.2 519.4 L1647.3 507.5 L1647.3 496.6 L1647.4 486.8 L1647.4 478.2 L1647.5 470.7 L1647.5 464.4 M1656.7 531.7 L1657 -318 M1657 -318 L1657.4 366.4 L1657.5 531.7 M1657.5 531.7 L1657.9 606.7 L1658.3 632.8 M1658.3 632.8 L1658.4 635.3 L1658.4 637 L1658.5 638 L1658.5 638.3 L1658.5 637.8 L1658.5 636.5 L1658.4 634.5 L1658.4 631.8 L1658.4 626.4 L1658.4 619.1 L1658.4 610.1 L1658.4 599.2 L1658.4 586.7 L1658.5 572.7 L1658.5 557.7 L1658.5 542 L1658.5 526 L1658.6 510 L1658.6 494.5 L1658.6 479.9 L1658.7 466.3 L1658.7 454 L1658.7 443.1 L1658.8 433.6 L1658.9 425.5 L1658.9 418.8 M1668.9 493.5 L1669.2 -358 M1669.2 -358 L1669.6 314 L1669.2 493.5 M1669.2 493.5 L1669.4 574.4 L1669.6 603 M1669.6 603 L1669.6 605.5 L1669.7 607.2 L1669.7 608 L1669.7 608.1 L1669.7 607.4 L1669.7 605.9 L1669.6 603.6 L1669.6 600.5 L1669.6 594 L1669.6 585.2 L1669.6 574.3 L1669.6 561.2 L1669.6 546.1 L1669.7 529.3 L1669.7 511.3 L1669.7 492.4 L1669.7 473.2 L1669.7 454.1 L1669.8 435.6 L1669.8 418.2 L1669.8 402 L1669.9 387.4 L1669.9 374.6 L1670 363.4 L1670 354 L1670.1 346.1 M1679.4 425.3 L1679.7 -398 M1679.7 -398 L1680.1 222 L1679.7 425.3 M1679.7 425.3 L1680 522.2 L1680.2 557.7 M1680.2 557.7 L1680.2 560.2 L1680.3 562.1 L1680.3 563.2 L1680.3 563.7 L1680.3 563.5 L1680.3 562.5 L1680.2 560.9 L1680.2 558.6 L1680.2 553.1 L1680.2 545 L1680.2 534.3 L1680.2 520.9 L1680.2 505 L1680.2 486.9 L1680.3 467 L1680.3 445.9 L1680.3 424.2 L1680.3 402.5 L1680.4 381.5 L1680.4 361.6 L1680.4 343.3 L1680.5 326.9 L1680.5 312.6 L1680.5 300.3 L1680.6 290.1 L1680.7 281.7 M1690.7 372.9 L1691 -438 M1691 -438 L1691.4 150 L1690.5 372.9 M1690.5 372.9 L1690.6 466.2 L1690.6 500.2 M1690.6 500.2 L1690.6 502.7 L1690.7 504.5 L1690.7 505.6 L1690.7 506 L1690.7 505.7 L1690.7 504.7 L1690.6 502.9 L1690.6 500.5 L1690.6 494.3 L1690.6 485.2 L1690.6 473.1 L1690.6 458.1 L1690.6 440.3 L1690.6 420.1 L1690.7 398 L1690.7 374.7 L1690.7 350.9 L1690.7 327.2 L1690.8 304.4 L1690.8 283 L1690.8 263.5 L1690.8 246.2 L1690.9 231.2 L1690.9 218.5 L1691 208.1 L1691 199.6 M1700.7 307.2 L1701 -478 M1701 -478 L1701.4 60 L1701 307.2 M1701 307.2 L1701.2 393.4 L1701.4 424.3 M1701.4 424.3 L1701.4 426.8 L1701.5 428.6 L1701.5 429.7 L1701.5 430.1 L1701.5 429.7 L1701.5 428.6 L1701.4 426.9 L1701.4 424.3 L1701.4 417.8 L1701.4 408.4 L1701.4 395.8 L1701.4 380 L1701.4 361.4 L1701.4 340.3 L1701.5 317.2 L1701.5 292.8 L1701.5 267.8 L1701.5 242.9 L1701.5 218.9 L1701.6 196.3 L1701.6 175.7 L1701.6 157.3 L1701.7 141.4 L1701.7 127.9 L1701.7 116.8 L1701.8 107.7 M1710.6 234.5 L1710.9 -518 M1710.9 -518 L1711.3 -40 L1710.8 234.5 M1710.8 234.5 L1711 285.3 L1711.2 307 M1711.2 307 L1712 100"/>
<path stroke-width="4.4" stroke-dasharray="0 2.2" d="M324.8 1046.7 L326.8 1055.7 L326.8 1055.7 M382.7 1035.8 L383 951.8 M387.1 1035.8 L389.5 1049.2 L389.5 1049.2 M449.1 1025.8 L449.4 920.8 M453.6 1025.8 L456 1043.3 L456.5 1044.8 M514.7 1016.7 L515 894.3 M519.1 1016.7 L521.5 1037.1 L522.2 1039.8 M578.7 1008 L579 872.1 M582.6 1008 L584.8 1030.8 L585.6 1034.5 M640.1 999.2 L640.4 849.4 M643.5 999.2 L645.3 1024.4 L646.1 1029.2 M697.7 990.7 L698 828.2 M701 990.7 L702.8 1018.5 L703.7 1024.4 M752.1 983 L752.4 809.2 M755.4 983 L757.2 1011.8 L758.1 1018.1 M803.7 975.1 L804 788.5 M806.7 975.1 L808.4 1005.8 L809.2 1013 M852.7 966.6 L853 769.6 M855.4 966.6 L856.9 999.4 L857.7 1007.4"/>
<path stroke-width="4.4" stroke-dasharray="0 3" d="M901.2 958.5 L902.4 992.5 L903.1 1001 M944 951 L945.4 985.7 L946.1 994.6 M984.3 942.5 L985.8 979.2 L986.6 989 M1022.8 934 L1024.1 972.3 L1024.9 982.7 M1058.9 926.4 L1060.1 965.5 L1060.9 976.2 M1093.7 917.9 L1094.8 958.4 L1095.5 969.7 M1126 909.4 L1127.1 951 L1127.8 962.9 M1156.8 901.5 L1158 944.1 L1158.7 956.4"/>
<path stroke-width="4.4" stroke-dasharray="0 3.2" d="M1186.5 893 L1187.6 937 L1188.2 949.9 M1214.2 883 L1215.1 929.2 L1215.7 943 M1240.7 874.6 L1241.6 921.6 L1242.2 935.7 M1266.2 866 L1266.8 914.2 L1267.2 928.9 M1290.5 856 L1291.3 905.7 L1291.8 921 M1313.9 847.6 L1314.6 898.2 L1315.1 913.9 M1336.2 837.7 L1336.8 889.9 L1337.3 906.2 M1337.3 906.2 L1337.3 908.7 L1337.4 910.5 L1337.4 911.5 L1337.5 911.8 L1337.5 911.3 L1337.5 910.1 L1337.5 908.2 L1337.5 905.5 L1337.5 903.2 L1337.5 900.5 L1337.6 897.4 L1337.6 894 L1337.6 890.2 L1337.7 886 L1337.7 881.5 L1337.8 876.8 L1337.9 871.8 L1337.9 866.6 L1338 861.3 L1338.1 856 M1357.2 830 L1358 883 L1358.4 899.7"/>
<path stroke-width="4.4" stroke-dasharray="0 3.4" d="M1358.4 899.7 L1358.5 902.2 L1358.6 904.1 L1358.6 905.2 L1358.7 905.7 L1358.7 905.5 L1358.7 904.5 L1358.7 902.9 L1358.6 900.6 L1358.7 898.6 L1358.7 896.1 L1358.7 893.2 L1358.7 890 L1358.8 886.3 L1358.8 882.2 L1358.9 877.8 L1358.9 873 L1359 868 L1359 862.8 L1359.1 857.3 L1359.2 851.8 L1359.3 846.1 L1359.4 840.5 L1359.5 834.8 M1377.3 820 L1377.9 874 L1378.4 891.2 M1378.4 891.2 L1378.4 893.7 L1378.5 895.5 L1378.5 896.6 L1378.6 897.1 L1378.6 896.8 L1378.6 895.7 L1378.6 894 L1378.5 891.6 L1378.6 889.4 L1378.6 886.7 L1378.6 883.5 L1378.6 880 L1378.7 876 L1378.7 871.6 L1378.8 866.8 L1378.8 861.7 L1378.9 856.3 L1378.9 850.7 L1379 845 L1379.1 839.1 L1379.2 833.2 L1379.3 827.3 L1379.4 821.5 L1379.5 815.9 L1379.6 810.4 M1397.2 810 L1397.8 865.7 L1398.2 883.6 M1398.2 883.6 L1398.2 886.1 L1398.3 887.9 L1398.3 889 L1398.4 889.4 L1398.4 889 L1398.4 887.9 L1398.4 886.1 L1398.3 883.6 L1398.4 881.2 L1398.4 878.3 L1398.4 875 L1398.4 871.2 L1398.5 866.9 L1398.5 862.2 L1398.6 857.2 L1398.6 851.8 L1398.7 846.1 L1398.7 840.2 L1398.8 834.2 L1398.9 828.1 L1399 821.9 L1399 815.9 L1399.1 809.9 L1399.2 804.1 L1399.4 798.5 L1399.5 793.2 L1399.6 788.1 M1416.4 800 L1417 856.6 L1417.5 874.8 M1417.5 874.8 L1417.5 877.3 L1417.6 879.1 L1417.6 880.2 L1417.7 880.5 L1417.7 880.1 L1417.7 879 L1417.7 877.2 L1417.6 874.6 L1417.7 872.2 L1417.7 869.2 L1417.7 865.8 L1417.7 861.9 L1417.8 857.5 L1417.8 852.7 L1417.8 847.5 L1417.9 842 L1417.9 836.2 L1418 830.2 L1418.1 824 L1418.1 817.8 L1418.2 811.6 L1418.3 805.4 L1418.4 799.3 L1418.5 793.4 L1418.6 787.8 L1418.7 782.4 L1418.8 777.4 L1418.9 772.6 L1419.1 768.2 M1434.6 790 L1435.2 847.8 L1435.6 866.6 M1435.6 866.6 L1435.6 869.1 L1435.7 870.9 L1435.7 871.9 L1435.8 872.2 L1435.8 871.7 L1435.8 870.5 L1435.8 868.6 L1435.7 865.9 L1435.8 863.2 L1435.8 860 L1435.8 856.3 L1435.8 852 L1435.9 847.3 L1435.9 842.2 L1435.9 836.6 L1436 830.7 L1436 824.6 L1436.1 818.2 L1436.2 811.7 L1436.2 805.2 L1436.3 798.7 L1436.4 792.3 L1436.5 786 L1436.6 780 L1436.7 774.3 L1436.8 768.9 L1436.9 763.8 L1437 759.1 L1437.1 754.8 L1437.3 750.8 L1437.4 747.2 M1452.4 780 L1453 838.7 L1453.4 857.8 M1453.4 857.8 L1453.4 860.3 L1453.5 862.1 L1453.5 863.1 L1453.6 863.3 L1453.6 862.8 L1453.6 861.6 L1453.6 859.6 L1453.5 856.8 L1453.6 854 L1453.6 850.7 L1453.6 846.8 L1453.6 842.4 L1453.7 837.5 L1453.7 832.1 L1453.7 826.4 L1453.8 820.3 L1453.8 813.9 L1453.9 807.4 L1453.9 800.7 L1454 794.1 L1454.1 787.4 L1454.1 780.9 L1454.2 774.6 L1454.3 768.5 L1454.4 762.7 L1454.5 757.3 L1454.6 752.2 L1454.7 747.6 L1454.9 743.3 L1455 739.4 L1455.1 735.9 M1469 770 L1469.4 829.3 L1469.7 848.7 M1469.7 848.7 L1469.8 851.2 L1469.8 853.1 L1469.9 854.2 L1469.9 854.7 L1469.9 854.4 L1469.9 853.5 L1469.9 851.9 L1469.8 849.6 L1469.8 847.1 L1469.9 844.1 L1469.9 840.5 L1469.9 836.4 L1469.9 831.7 L1469.9 826.4 L1470 820.7 L1470 814.6 L1470.1 808.2 L1470.1 801.5 L1470.2 794.7 L1470.2 787.7 L1470.3 780.8 L1470.4 774 L1470.4 767.3 L1470.5 760.9 L1470.6 754.7 L1470.7 749 L1470.8 743.6 L1470.9 738.6 L1471 734.1 L1471.1 729.9 L1471.3 726.2 M1485.2 753.9 L1485.7 817.5 L1486.1 838.8 M1486.1 838.8 L1486.2 841.3 L1486.2 843.2 L1486.3 844.3 L1486.3 844.7 L1486.3 844.5 L1486.3 843.5 L1486.3 841.9 L1486.2 839.5 L1486.2 837 L1486.2 833.8 L1486.3 830.1 L1486.3 825.8 L1486.3 820.9 L1486.3 815.5 L1486.4 809.7 L1486.4 803.4 L1486.4 796.8 L1486.5 789.9 L1486.5 782.8 L1486.6 775.7 L1486.7 768.7 L1486.7 761.7 L1486.8 754.9 L1486.9 748.4 L1487 742.2 L1487 736.3 L1487.1 730.9 L1487.2 725.9 L1487.3 721.3 L1487.5 717.2 L1487.6 713.5 M1500.7 743.8 L1501.1 807.3 L1501.4 828.5 M1501.4 828.5 L1501.5 831 L1501.5 832.8 L1501.6 833.9 L1501.6 834.3 L1501.6 833.9 L1501.6 832.8 L1501.6 831 L1501.5 828.5 L1501.5 825.7 L1501.5 822.1 L1501.6 818 L1501.6 813.2 L1501.6 807.8 L1501.6 801.8 L1501.7 795.3 L1501.7 788.5 L1501.8 781.3 L1501.8 773.9 L1501.9 766.5 L1501.9 759 L1502 751.6 L1502 744.5 L1502.1 737.6 L1502.2 731 L1502.3 724.9 L1502.4 719.3 L1502.5 714.1 L1502.6 709.4 L1502.7 705.1 L1502.8 701.4 M1516.4 733.8 L1516.9 796.9 L1517.2 818 M1517.2 818 L1517.3 820.5 L1517.3 822.3 L1517.4 823.4 L1517.4 823.7 L1517.4 823.3 L1517.4 822.2 L1517.4 820.4 L1517.3 817.8 L1517.3 814.9 L1517.3 811.2 L1517.4 806.9 L1517.4 802 L1517.4 796.4 L1517.4 790.2 L1517.5 783.6 L1517.5 776.5 L1517.5 769.2 L1517.6 761.6 L1517.6 753.9 L1517.7 746.2 L1517.7 738.7 L1517.8 731.3 L1517.9 724.3 L1517.9 717.6 L1518 711.4 L1518.1 705.6 L1518.2 700.4 L1518.3 695.6 L1518.4 691.3 L1518.5 687.5 M1531 722.3 L1531.4 786.1 L1531.6 807.4 M1531.6 807.4 L1531.7 809.9 L1531.7 811.7 L1531.8 812.7 L1531.8 813 L1531.8 812.5 L1531.8 811.3 L1531.8 809.3 L1531.7 806.6 L1531.7 803.4 L1531.7 799.4 L1531.8 794.7 L1531.8 789.3 L1531.8 783.3 L1531.8 776.6 L1531.9 769.5 L1531.9 761.9 L1531.9 754.1 L1532 746 L1532 738 L1532.1 729.9 L1532.1 722.1 L1532.2 714.6 L1532.3 707.4 L1532.3 700.6 L1532.4 694.4 L1532.5 688.7 L1532.6 683.5 L1532.7 678.9 L1532.8 674.8 M1545.5 710.1 L1546.1 774.1 L1546.5 795.5 M1546.5 795.5 L1546.6 798 L1546.6 799.8 L1546.7 800.8 L1546.7 801 L1546.7 800.6 L1546.7 799.3 L1546.7 797.4 L1546.6 794.6 L1546.6 791.4 L1546.6 787.4 L1546.7 782.6 L1546.7 777.2 L1546.7 771 L1546.7 764.3 L1546.7 757 L1546.8 749.3 L1546.8 741.4 L1546.8 733.2 L1546.9 724.9 L1546.9 716.8 L1547 708.7 L1547 701 L1547.1 693.7 L1547.2 686.7 L1547.2 680.3 L1547.3 674.4 L1547.4 669.1 L1547.5 664.3 L1547.6 660 M1559.1 697.2 L1559.6 762 L1559.9 783.8 M1559.9 783.8 L1560 786.3 L1560 788 L1560.1 789 L1560.1 789.2 L1560.1 788.6 L1560.1 787.2 L1560.1 785.1 L1560 782.2 L1560 778.6 L1560 774.2 L1560.1 769 L1560.1 763 L1560.1 756.3 L1560.1 749 L1560.1 741.1 L1560.2 732.9 L1560.2 724.3 L1560.2 715.6 L1560.3 706.9 L1560.3 698.4 L1560.4 690.1 L1560.4 682.1 L1560.5 674.7 L1560.6 667.7 L1560.6 661.3 L1560.7 655.5 L1560.8 650.4 L1560.9 645.8 L1561 641.7 M1572.5 683.6 L1573.1 748.6 L1573.5 770.5 M1573.5 770.5 L1573.6 773 L1573.6 774.9 L1573.7 776 L1573.7 776.5 L1573.7 776.2 L1573.7 775.3 L1573.7 773.7 L1573.6 771.4 L1573.6 768.3 L1573.6 764.5 L1573.6 759.7 L1573.7 754.1 L1573.7 747.7 L1573.7 740.6 L1573.7 732.8 L1573.7 724.4 L1573.8 715.6 L1573.8 706.6 L1573.8 697.4 L1573.9 688.3 L1573.9 679.3 L1574 670.6 L1574 662.3 L1574.1 654.6 L1574.1 647.4 L1574.2 640.9 L1574.3 635 L1574.3 629.7 L1574.4 625.1 M1585.5 666.2 L1586.1 732.6 L1586.5 755 M1586.5 755 L1586.6 757.5 L1586.6 759.3 L1586.7 760.4 L1586.7 760.8 L1586.7 760.5 L1586.7 759.5 L1586.7 757.7 L1586.6 755.3 L1586.6 751.9 L1586.6 747.5 L1586.6 742.3 L1586.7 736.1 L1586.7 729 L1586.7 721.2 L1586.7 712.6 L1586.7 703.6 L1586.8 694.1 L1586.8 684.4 L1586.8 674.7 L1586.9 665.2 L1586.9 655.9 L1587 647 L1587 638.7 L1587.1 631 L1587.1 623.9 L1587.2 617.6 L1587.3 612 L1587.4 607.1 L1587.4 602.8 M1598.5 650.3 L1599 717.2 L1599.3 739.8 M1599.3 739.8 L1599.4 742.3 L1599.4 744.1 L1599.5 745.2 L1599.5 745.5 L1599.5 745.1 L1599.5 744 L1599.5 742.2 L1599.4 739.6 L1599.4 736 L1599.4 731.3 L1599.4 725.7 L1599.5 719 L1599.5 711.5 L1599.5 703.1 L1599.5 694 L1599.5 684.3 L1599.6 674.3 L1599.6 664.1 L1599.6 653.8 L1599.7 643.8 L1599.7 634 L1599.8 624.8 L1599.8 616.1 L1599.9 608.1 L1599.9 600.9 L1600 594.4 L1600 588.7 L1600.1 583.7 M1610.8 631.7 L1611.2 699.8 L1611.6 723 M1611.6 723 L1611.7 725.5 L1611.7 727.3 L1611.8 728.3 L1611.8 728.5 L1611.8 728 L1611.8 726.8 L1611.8 724.8 L1611.7 722.1 L1611.7 718 L1611.7 712.8 L1611.7 706.6 L1611.7 699.2 L1611.8 690.8 L1611.8 681.6 L1611.8 671.7 L1611.8 661.2 L1611.9 650.3 L1611.9 639.4 L1611.9 628.5 L1612 617.9 L1612 607.7 L1612 598.1 L1612.1 589.3 L1612.2 581.3 L1612.2 574.1 L1612.3 567.7 L1612.3 562.2 L1612.4 557.4 M1622.8 612.6 L1623.2 681.5 L1623.5 705 M1623.5 705 L1623.6 707.5 L1623.6 709.2 L1623.7 710.1 L1623.7 710.3 L1623.7 709.6 L1623.7 708.2 L1623.7 706.1 L1623.6 703.1 L1623.6 698.4 L1623.6 692.6 L1623.6 685.4 L1623.6 677.1 L1623.7 667.7 L1623.7 657.4 L1623.7 646.3 L1623.7 634.8 L1623.8 622.9 L1623.8 611 L1623.8 599.3 L1623.9 588.1 L1623.9 577.4 L1623.9 567.5 L1624 558.5 L1624.1 550.4 L1624.1 543.3 L1624.2 537.1 L1624.2 531.8 M1634.7 590 L1635.1 660 L1635.4 684 M1635.4 684 L1635.5 686.5 L1635.5 688.1 L1635.6 689 L1635.6 689.1 L1635.6 688.4 L1635.6 686.8 L1635.6 684.5 L1635.5 681.4 L1635.5 676.4 L1635.5 670 L1635.5 662.2 L1635.5 653.2 L1635.6 643.1 L1635.6 631.9 L1635.6 620 L1635.6 607.5 L1635.6 594.8 L1635.7 582.1 L1635.7 569.6 L1635.7 557.6 L1635.8 546.4 L1635.8 535.9 L1635.9 526.5 L1635.9 518 L1636 510.6 L1636 504.2 L1636.1 498.7 M1646.1 563 L1646.6 634.9 L1646.9 659.7 M1646.9 659.7 L1647 662.2 L1647 664 L1647.1 665.2 L1647.1 665.6 L1647.1 665.3 L1647.1 664.3 L1647 662.6 L1647 660.2 L1647 655.9 L1647 650.2 L1647 643 L1647 634.3 L1647 624.1 L1647.1 612.8 L1647.1 600.3 L1647.1 587.1 L1647.1 573.4 L1647.1 559.4 L1647.2 545.6 L1647.2 532.2 L1647.2 519.4 L1647.3 507.5 L1647.3 496.6 L1647.4 486.8 L1647.4 478.2 L1647.5 470.7 L1647.5 464.4 M1657.5 531.7 L1657.9 606.7 L1658.3 632.8 M1658.3 632.8 L1658.4 635.3 L1658.4 637 L1658.5 638 L1658.5 638.3 L1658.5 637.8 L1658.5 636.5 L1658.4 634.5 L1658.4 631.8 L1658.4 626.4 L1658.4 619.1 L1658.4 610.1 L1658.4 599.2 L1658.4 586.7 L1658.5 572.7 L1658.5 557.7 L1658.5 542 L1658.5 526 L1658.6 510 L1658.6 494.5 L1658.6 479.9 L1658.7 466.3 L1658.7 454 L1658.7 443.1 L1658.8 433.6 L1658.9 425.5 L1658.9 418.8 M1669.2 493.5 L1669.4 574.4 L1669.6 603 M1669.6 603 L1669.6 605.5 L1669.7 607.2 L1669.7 608 L1669.7 608.1 L1669.7 607.4 L1669.7 605.9 L1669.6 603.6 L1669.6 600.5 L1669.6 594 L1669.6 585.2 L1669.6 574.3 L1669.6 561.2 L1669.6 546.1 L1669.7 529.3 L1669.7 511.3 L1669.7 492.4 L1669.7 473.2 L1669.7 454.1 L1669.8 435.6 L1669.8 418.2 L1669.8 402 L1669.9 387.4 L1669.9 374.6 L1670 363.4 L1670 354 L1670.1 346.1 M1679.7 425.3 L1680 522.2 L1680.2 557.7 M1680.2 557.7 L1680.2 560.2 L1680.3 562.1 L1680.3 563.2 L1680.3 563.7 L1680.3 563.5 L1680.3 562.5 L1680.2 560.9 L1680.2 558.6 L1680.2 553.1 L1680.2 545 L1680.2 534.3 L1680.2 520.9 L1680.2 505 L1680.2 486.9 L1680.3 467 L1680.3 445.9 L1680.3 424.2 L1680.3 402.5 L1680.4 381.5 L1680.4 361.6 L1680.4 343.3 L1680.5 326.9 L1680.5 312.6 L1680.5 300.3 L1680.6 290.1 L1680.7 281.7 M1690.5 372.9 L1690.6 466.2 L1690.6 500.2 M1690.6 500.2 L1690.6 502.7 L1690.7 504.5 L1690.7 505.6 L1690.7 506 L1690.7 505.7 L1690.7 504.7 L1690.6 502.9 L1690.6 500.5 L1690.6 494.3 L1690.6 485.2 L1690.6 473.1 L1690.6 458.1 L1690.6 440.3 L1690.6 420.1 L1690.7 398 L1690.7 374.7 L1690.7 350.9 L1690.7 327.2 L1690.8 304.4 L1690.8 283 L1690.8 263.5 L1690.8 246.2 L1690.9 231.2 L1690.9 218.5 L1691 208.1 L1691 199.6 M1701 307.2 L1701.2 393.4 L1701.4 424.3 M1701.4 424.3 L1701.4 426.8 L1701.5 428.6 L1701.5 429.7 L1701.5 430.1 L1701.5 429.7 L1701.5 428.6 L1701.4 426.9 L1701.4 424.3 L1701.4 417.8 L1701.4 408.4 L1701.4 395.8 L1701.4 380 L1701.4 361.4 L1701.4 340.3 L1701.5 317.2 L1701.5 292.8 L1701.5 267.8 L1701.5 242.9 L1701.5 218.9 L1701.6 196.3 L1701.6 175.7 L1701.6 157.3 L1701.7 141.4 L1701.7 127.9 L1701.7 116.8 L1701.8 107.7 M1710.8 234.5 L1711 285.3 L1711.2 307 M1711.2 307 L1712 100"/>
<path stroke-width="4.4" stroke-dasharray="0 3.5" d="M321.3 990.1 L322.5 1018 L324.8 1046.7 M383 951.8 L384.5 1000 L387.1 1035.8 M449.4 920.8 L451 987.5 L453.6 1025.8 M515 894.3 L516.5 975.8 L519.1 1016.7 M579 872.1 L580.3 965.5 L582.6 1008 M640.4 849.4 L641.5 955.3 L643.5 999.2 M698 828.2 L699 944.5 L701 990.7 M752.4 809.2 L753.4 935.5 L755.4 983 M804 788.5 L804.9 925.6 L806.7 975.1 M853 769.6 L853.8 916.2 L855.4 966.6"/>
<path stroke-width="4.4" stroke-dasharray="0 4.5" d="M899.2 958.5 L899.5 752 M941.6 951 L941.9 732 M981.7 942.5 L982 712 M1020.5 934 L1020.8 692 M1056.7 926.4 L1057 673.7 M1091.6 917.9 L1091.9 653.7 M1123.9 909.4 L1124.2 632.1 M1154.9 901.5 L1155.2 610.1"/>
<path stroke-width="4.4" stroke-dasharray="0 5.8" d="M899.5 752 L900 906 L901.2 958.5 M941.9 732 L942.5 895.8 L944 951 M982 712 L982.7 887.3 L984.3 942.5 M1020.8 692 L1021.4 878.2 L1022.8 934 M1057 673.7 L1057.6 868.9 L1058.9 926.4 M1091.9 653.7 L1092.4 859 L1093.7 917.9 M1124.2 632.1 L1124.7 849 L1126 909.4 M1155.2 610.1 L1155.6 839.7 L1156.8 901.5"/>
<path stroke-width="4.4" stroke-dasharray="0 16" d="M1184.8 893 L1185.1 588.7 M1212.6 883 L1212.9 568.8 M1239 874.6 L1239.3 545.2 M1265.1 866 L1265.4 522.6 M1289.2 856 L1289.5 498.5 M1312.7 847.6 L1313 475.8 M1335.3 837.7 L1335.6 452.6 M1356.1 830 L1356.4 428"/>
<path stroke-width="4.4" stroke-dasharray="0 17.3" d="M1185.1 588.7 L1185.5 830.7 L1186.5 893 M1212.9 568.8 L1213.3 820.7 L1214.2 883 M1239.3 545.2 L1239.7 810.8 L1240.7 874.6 M1265.4 522.6 L1265.8 800.9 L1266.2 866 M1289.5 498.5 L1289.9 791 L1290.5 856 M1313 475.8 L1313.4 781 L1313.9 847.6 M1335.6 452.6 L1336 769.7 L1336.2 837.7 M1356.4 428 L1356.8 760.4 L1357.2 830"/>
<path stroke-width="4.4" stroke-dasharray="0 24" d="M1376.4 820 L1376.7 402.6 M1396.3 810 L1396.6 372.8 M1415.5 800 L1415.8 346.7 M1433.7 790 L1434 314.7 M1451.5 780 L1451.8 285 M1468.5 770 L1468.8 254.4 M1484.5 753.9 L1484.8 216 M1500 743.8 L1500.3 178.7 M1515.7 733.8 L1516 122 M1530.5 722.3 L1530.8 82 M1544.7 710.1 L1545 42 M1558.4 697.2 L1558.7 2 M1571.7 683.6 L1572 -38 M1584.7 666.2 L1585 -78 M1597.8 650.3 L1598.1 -118 M1610 631.7 L1610.3 -158 M1622.2 612.6 L1622.5 -198 M1634.1 590 L1634.4 -238 M1645.4 563 L1645.7 -278 M1656.7 531.7 L1657 -318 M1668.9 493.5 L1669.2 -358 M1679.4 425.3 L1679.7 -398 M1690.7 372.9 L1691 -438 M1700.7 307.2 L1701 -478 M1710.6 234.5 L1710.9 -518"/>
<path stroke-width="4.4" stroke-dasharray="0 25.3" d="M1376.7 402.6 L1377.1 748 L1377.3 820 M1396.6 372.8 L1397 736.5 L1397.2 810 M1415.8 346.7 L1416.2 724.5 L1416.4 800 M1434 314.7 L1434.4 713 L1434.6 790 M1451.8 285 L1452.2 700 L1452.4 780 M1468.8 254.4 L1469.2 688 L1469 770 M1484.8 216 L1485.2 675 L1485.2 753.9 M1500.3 178.7 L1500.7 661 L1500.7 743.8 M1516 122 L1516.4 647 L1516.4 733.8 M1530.8 82 L1531.2 631 L1531 722.3 M1545 42 L1545.4 614 L1545.5 710.1 M1558.7 2 L1559.1 596 L1559.1 697.2 M1572 -38 L1572.4 577 L1572.5 683.6 M1585 -78 L1585.4 553 L1585.5 666.2 M1598.1 -118 L1598.5 530.8 L1598.5 650.3 M1610.3 -158 L1610.7 505 L1610.8 631.7 M1622.5 -198 L1622.9 478.3 L1622.8 612.6 M1634.4 -238 L1634.8 446.9 L1634.7 590 M1645.7 -278 L1646.1 409.6 L1646.1 563 M1657 -318 L1657.4 366.4 L1657.5 531.7 M1669.2 -358 L1669.6 314 L1669.2 493.5 M1679.7 -398 L1680.1 222 L1679.7 425.3 M1691 -438 L1691.4 150 L1690.5 372.9 M1701 -478 L1701.4 60 L1701 307.2 M1710.9 -518 L1711.3 -40 L1710.8 234.5"/>
</g>
<line x1="898.2" x2="898.2" y1="144" y2="1069" stroke="#0000ff" stroke-width="4.17"/>
<line x1="1669.2" x2="1669.2" y1="144" y2="1069" stroke="#0000ff" stroke-width="4.17"/>
<line x1="250" x2="1801" y1="757.8" y2="757.8" stroke="#008000" stroke-width="4.17"/>
<line x1="250" x2="1801" y1="565.6" y2="565.6" stroke="#ffa500" stroke-width="2.08"/>
<line x1="250" x2="1801" y1="680.0" y2="680.0" stroke="#ffa500" stroke-width="2.08"/>
<line x1="1057.4" x2="1057.4" y1="594.7" y2="625" stroke="#008000" stroke-width="1.6"/>
<line x1="1092.3" x2="1092.3" y1="594.7" y2="625" stroke="#008000" stroke-width="1.6"/>
<line x1="1124.6" x2="1124.6" y1="594.7" y2="625" stroke="#008000" stroke-width="1.6"/>
<line x1="1155.6" x2="1155.6" y1="594.7" y2="625" stroke="#008000" stroke-width="1.6"/>
<line x1="1213.3" x2="1213.3" y1="594.7" y2="625" stroke="#008000" stroke-width="1.6"/>
<polygon points="1057.3,650.9 1062,665.3 1077.1,665.3 1064.9,674.2 1069.5,688.5 1057.3,679.6 1045.1,688.5 1049.7,674.2 1037.5,665.3 1052.6,665.3" fill="#ff0000" stroke="#ff0000" stroke-width="1.2" stroke-linejoin="miter"/>
<polygon points="1093,630.9 1097.7,645.3 1112.8,645.3 1100.6,654.2 1105.2,668.5 1093,659.6 1080.8,668.5 1085.4,654.2 1073.2,645.3 1088.3,645.3" fill="#ff0000" stroke="#ff0000" stroke-width="1.2" stroke-linejoin="miter"/>
<polygon points="1124.7,609.3 1129.4,623.7 1144.5,623.7 1132.3,632.6 1136.9,646.9 1124.7,638 1112.5,646.9 1117.1,632.6 1104.9,623.7 1120,623.7" fill="#ff0000" stroke="#ff0000" stroke-width="1.2" stroke-linejoin="miter"/>
<polygon points="1155.3,587.3 1160,601.7 1175.1,601.7 1162.9,610.6 1167.5,624.9 1155.3,616 1143.1,624.9 1147.7,610.6 1135.5,601.7 1150.6,601.7" fill="#ff0000" stroke="#ff0000" stroke-width="1.2" stroke-linejoin="miter"/>
<polygon points="1213.3,546 1218,560.4 1233.1,560.4 1220.9,569.3 1225.5,583.6 1213.3,574.7 1201.1,583.6 1205.7,569.3 1193.5,560.4 1208.6,560.4" fill="#ff0000" stroke="#ff0000" stroke-width="1.2" stroke-linejoin="miter"/>
<circle cx="1057.8" cy="760" r="4.2" fill="#90ee90"/>
<circle cx="1058" cy="764.6" r="4.2" fill="#90ee90"/>
<circle cx="1057.9" cy="769.2" r="4.2" fill="#90ee90"/>
<circle cx="1058.1" cy="773.8" r="4.2" fill="#90ee90"/>
<circle cx="1058.1" cy="778.4" r="4.2" fill="#90ee90"/>
<circle cx="1057.6" cy="783" r="4.2" fill="#90ee90"/>
<circle cx="1057.6" cy="787.6" r="4.2" fill="#90ee90"/>
<circle cx="1058.3" cy="792.2" r="4.2" fill="#90ee90"/>
<circle cx="1057.8" cy="796.8" r="4.2" fill="#90ee90"/>
<circle cx="1058.2" cy="801.4" r="4.2" fill="#90ee90"/>
<circle cx="1058.8" cy="806" r="4.2" fill="#90ee90"/>
<circle cx="1058.4" cy="810.6" r="4.2" fill="#90ee90"/>
<circle cx="1058.7" cy="815.2" r="4.2" fill="#90ee90"/>
<circle cx="1058.4" cy="819.8" r="4.2" fill="#90ee90"/>
<circle cx="1058.5" cy="824.4" r="4.2" fill="#90ee90"/>
<circle cx="1058.1" cy="829" r="4.2" fill="#90ee90"/>
<circle cx="1058.5" cy="833.6" r="4.2" fill="#90ee90"/>
<circle cx="1058.7" cy="838.2" r="4.2" fill="#90ee90"/>
<circle cx="1058.4" cy="846.7" r="4.2" fill="#90ee90"/>
<circle cx="1058.6" cy="855.2" r="4.2" fill="#90ee90"/>
<circle cx="1058.6" cy="863.7" r="4.2" fill="#90ee90"/>
<circle cx="1058.4" cy="870.8" r="4.2" fill="#90ee90"/>
<circle cx="1092.5" cy="760" r="4.2" fill="#90ee90"/>
<circle cx="1093.1" cy="764.8" r="4.2" fill="#90ee90"/>
<circle cx="1093" cy="769.6" r="4.2" fill="#90ee90"/>
<circle cx="1092.7" cy="774.4" r="4.2" fill="#90ee90"/>
<circle cx="1092.5" cy="779.2" r="4.2" fill="#90ee90"/>
<circle cx="1093.2" cy="784" r="4.2" fill="#90ee90"/>
<circle cx="1092.9" cy="788.8" r="4.2" fill="#90ee90"/>
<circle cx="1093.1" cy="793.6" r="4.2" fill="#90ee90"/>
<circle cx="1093.2" cy="798.4" r="4.2" fill="#90ee90"/>
<circle cx="1093.5" cy="803.2" r="4.2" fill="#90ee90"/>
<circle cx="1093.7" cy="808" r="4.2" fill="#90ee90"/>
<circle cx="1093.2" cy="816.8" r="4.2" fill="#90ee90"/>
<circle cx="1093.6" cy="825.6" r="4.2" fill="#90ee90"/>
<circle cx="1093.3" cy="834.4" r="4.2" fill="#90ee90"/>
<circle cx="1093.7" cy="843.2" r="4.2" fill="#90ee90"/>
<circle cx="1093.6" cy="852" r="4.2" fill="#90ee90"/>
<circle cx="1093.3" cy="860.8" r="4.2" fill="#90ee90"/>
<circle cx="1124.8" cy="760" r="4.2" fill="#90ee90"/>
<circle cx="1124.9" cy="765" r="4.2" fill="#90ee90"/>
<circle cx="1124.9" cy="770" r="4.2" fill="#90ee90"/>
<circle cx="1125.6" cy="775" r="4.2" fill="#90ee90"/>
<circle cx="1125.1" cy="780" r="4.2" fill="#90ee90"/>
<circle cx="1125.3" cy="785" r="4.2" fill="#90ee90"/>
<circle cx="1125" cy="790" r="4.2" fill="#90ee90"/>
<circle cx="1125.2" cy="795" r="4.2" fill="#90ee90"/>
<circle cx="1125.5" cy="803.6" r="4.2" fill="#90ee90"/>
<circle cx="1125.5" cy="812.2" r="4.2" fill="#90ee90"/>
<circle cx="1125.7" cy="820.8" r="4.2" fill="#90ee90"/>
<circle cx="1125.7" cy="829.4" r="4.2" fill="#90ee90"/>
<circle cx="1126" cy="838" r="4.2" fill="#90ee90"/>
<circle cx="1125.8" cy="846.6" r="4.2" fill="#90ee90"/>
<circle cx="1126" cy="855.2" r="4.2" fill="#90ee90"/>
<circle cx="1125.6" cy="860.3" r="4.2" fill="#90ee90"/>
<circle cx="1156.5" cy="760" r="4.2" fill="#90ee90"/>
<circle cx="1156.6" cy="765" r="4.2" fill="#90ee90"/>
<circle cx="1156.4" cy="770" r="4.2" fill="#90ee90"/>
<circle cx="1155.9" cy="775" r="4.2" fill="#90ee90"/>
<circle cx="1156.5" cy="780" r="4.2" fill="#90ee90"/>
<circle cx="1156.6" cy="790.5" r="4.2" fill="#90ee90"/>
<circle cx="1157" cy="801" r="4.2" fill="#90ee90"/>
<circle cx="1156.7" cy="811.5" r="4.2" fill="#90ee90"/>
<circle cx="1156.8" cy="822" r="4.2" fill="#90ee90"/>
<circle cx="1156.3" cy="832.5" r="4.2" fill="#90ee90"/>
<circle cx="1156.9" cy="843" r="4.2" fill="#90ee90"/>
<circle cx="1156.6" cy="848.3" r="4.2" fill="#90ee90"/>
<circle cx="1214" cy="760" r="4.2" fill="#90ee90"/>
<circle cx="1213.7" cy="765" r="4.2" fill="#90ee90"/>
<circle cx="1213.5" cy="770" r="4.2" fill="#90ee90"/>
<circle cx="1214.2" cy="781.5" r="4.2" fill="#90ee90"/>
<circle cx="1214.3" cy="793" r="4.2" fill="#90ee90"/>
<circle cx="1213.9" cy="804.5" r="4.2" fill="#90ee90"/>
<circle cx="1214.6" cy="816" r="4.2" fill="#90ee90"/>
<circle cx="1214.2" cy="827.5" r="4.2" fill="#90ee90"/>
<circle cx="1214" cy="839" r="4.2" fill="#90ee90"/>
<circle cx="1214.1" cy="850.5" r="4.2" fill="#90ee90"/>
<circle cx="1214.3" cy="855.8" r="4.2" fill="#90ee90"/>
<circle cx="1213.3" cy="566.7" r="4.2" fill="#a8ee60"/>
<circle cx="1213.3" cy="575.3" r="4.2" fill="#a8ee60"/>
<circle cx="1213.3" cy="589.3" r="4.2" fill="#a8ee60"/>
<circle cx="1213.3" cy="605.3" r="4.2" fill="#a8ee60"/>
<path d="M1367.1 757.7 L1368.4 755 L1370 752.4 L1371.9 750.1 L1374.3 748.4 L1375.3 748.1 M1376.2 748 L1376.2 751 L1376.2 754 L1376.2 757 L1376.2 758 M1383.2 757.6 L1384 754.7 L1384.9 751.8 L1385.9 749 L1387.1 746.2 L1388.4 743.6 L1390 741 L1391.9 738.7 L1394.3 736.9 L1395.2 736.6 M1396.1 736.5 L1396.1 739.5 L1396.1 742.5 L1396.1 745.5 L1396.1 748.5 L1396.1 751.5 L1396.1 754.5 L1396.1 757.5 L1396.1 757.5 M1401 758.2 L1401.3 755.2 L1401.7 752.2 L1402.2 749.3 L1402.8 746.3 L1403.6 743.4 L1404.4 740.5 L1405.4 737.7 L1406.5 734.9 L1407.8 732.2 L1409.2 729.5 L1410.9 727.1 L1413.2 725.1 L1415 724.5 M1415.3 724.5 L1415.3 727.5 L1415.3 730.5 L1415.3 733.5 L1415.3 736.5 L1415.3 739.5 L1415.3 742.5 L1415.3 745.5 L1415.3 748.5 L1415.3 751.5 L1415.3 754.5 L1415.3 757.5 L1415.3 757.5 M1419.5 758.2 L1419.6 755.2 L1419.8 752.2 L1420 749.3 L1420.3 746.3 L1420.6 743.3 L1421 740.3 L1421.5 737.3 L1422.1 734.4 L1422.8 731.5 L1423.6 728.6 L1424.6 725.8 L1425.6 723 L1426.8 720.2 L1428.2 717.5 L1429.9 715.1 L1432.2 713.3 L1433.2 713 M1433.5 713 L1433.5 716 L1433.5 719 L1433.5 722 L1433.5 725 L1433.5 728 L1433.5 731 L1433.5 734 L1433.5 737 L1433.5 740 L1433.5 743 L1433.5 746 L1433.5 749 L1433.5 752 L1433.5 755 L1433.5 758 L1433.5 758 M1437.4 747.2 L1437.6 744.3 L1437.7 741.3 L1437.9 738.3 L1438.2 735.3 L1438.5 732.3 L1438.8 729.3 L1439.3 726.3 L1439.8 723.4 L1440.5 720.5 L1441.3 717.6 L1442.1 714.7 L1443 711.8 L1444.1 709 L1445.3 706.3 L1446.7 703.6 L1448.6 701.3 L1451.2 700 L1451.2 700 M1451.3 700 L1451.3 703 L1451.3 706 L1451.3 709 L1451.3 712 L1451.3 715 L1451.3 718 L1451.3 721 L1451.3 724 L1451.3 727 L1451.3 730 L1451.3 733 L1451.3 736 L1451.3 739 L1451.3 742 L1451.3 745 L1451.3 748 L1451.3 751 L1451.3 754 L1451.3 757 L1451.3 758 M1455.1 735.9 L1455.3 732.9 L1455.4 729.9 L1455.6 726.9 L1455.9 723.9 L1456.2 720.9 L1456.5 717.9 L1457 715 L1457.5 712 L1458.2 709.1 L1458.9 706.2 L1459.7 703.3 L1460.6 700.4 L1461.5 697.6 L1462.6 694.8 L1463.9 692.1 L1465.6 689.6 L1468.1 688 L1468.1 688 M1468.3 688 L1468.3 691 L1468.3 694 L1468.3 697 L1468.3 700 L1468.3 703 L1468.3 706 L1468.3 709 L1468.3 712 L1468.3 715 L1468.3 718 L1468.3 721 L1468.3 724 L1468.3 727 L1468.3 730 L1468.3 733 L1468.3 736 L1468.3 739 L1468.3 742 L1468.3 745 L1468.3 748 L1468.3 751 L1468.3 754 L1468.3 757 L1468.3 758 M1471.3 726.2 L1471.4 723.2 L1471.5 720.2 L1471.7 717.2 L1471.9 714.2 L1472.1 711.2 L1472.5 708.2 L1472.9 705.3 L1473.4 702.3 L1473.9 699.3 L1474.6 696.4 L1475.3 693.5 L1476.1 690.6 L1476.9 687.7 L1477.8 684.9 L1478.9 682.1 L1480.1 679.3 L1481.7 676.8 L1484 675 L1484 675 M1484.3 675 L1484.3 678 L1484.3 681 L1484.4 684 L1484.4 687 L1484.4 690 L1484.4 693 L1484.5 696 L1484.5 699 L1484.5 702 L1484.5 705 L1484.5 708 L1484.6 711 L1484.6 714 L1484.6 717 L1484.6 720 L1484.6 723 L1484.7 726 L1484.7 729 L1484.7 732 L1484.7 735 L1484.8 738 L1484.8 741 L1484.8 744 L1484.8 747 L1484.8 750 L1484.9 753 L1484.9 756 L1484.9 758 M1487.6 713.5 L1487.7 710.5 L1487.8 707.5 L1488 704.5 L1488.2 701.5 L1488.4 698.5 L1488.7 695.5 L1489.1 692.5 L1489.6 689.6 L1490.1 686.6 L1490.7 683.7 L1491.3 680.8 L1492 677.8 L1492.8 674.9 L1493.6 672.1 L1494.5 669.2 L1495.6 666.4 L1496.9 663.7 L1498.8 661.4 L1499.7 661 M1499.8 661 L1499.8 664 L1499.8 667 L1499.9 670 L1499.9 673 L1499.9 676 L1499.9 679 L1499.9 682 L1500 685 L1500 688 L1500 691 L1500 694 L1500.1 697 L1500.1 700 L1500.1 703 L1500.1 706 L1500.1 709 L1500.2 712 L1500.2 715 L1500.2 718 L1500.2 721 L1500.2 724 L1500.3 727 L1500.3 730 L1500.3 733 L1500.3 736 L1500.3 739 L1500.4 742 L1500.4 745 L1500.4 748 L1500.4 751 L1500.4 754 L1500.5 757 L1500.5 758 M1502.8 701.4 L1502.9 698.4 L1503 695.4 L1503.2 692.4 L1503.4 689.4 L1503.6 686.4 L1504 683.4 L1504.4 680.4 L1504.8 677.5 L1505.4 674.5 L1506 671.6 L1506.6 668.7 L1507.3 665.7 L1508.1 662.8 L1508.8 659.9 L1509.7 657.1 L1510.7 654.2 L1511.8 651.5 L1513.3 648.8 L1514.6 647.4 M1515.5 647 L1515.5 650 L1515.5 653 L1515.6 656 L1515.6 659 L1515.6 662 L1515.6 665 L1515.6 668 L1515.7 671 L1515.7 674 L1515.7 677 L1515.7 680 L1515.7 683 L1515.8 686 L1515.8 689 L1515.8 692 L1515.8 695 L1515.8 698 L1515.9 701 L1515.9 704 L1515.9 707 L1515.9 710 L1515.9 713 L1516 716 L1516 719 L1516 722 L1516 725 L1516 728 L1516.1 731 L1516.1 734 L1516.1 737 L1516.1 740 L1516.1 743 L1516.2 746 L1516.2 749 L1516.2 752 L1516.2 755 L1516.2 758 L1516.2 758 M1518.5 687.5 L1518.6 684.5 L1518.7 681.5 L1518.9 678.5 L1519 675.5 L1519.3 672.5 L1519.6 669.5 L1519.9 666.6 L1520.4 663.6 L1520.9 660.6 L1521.4 657.7 L1522 654.7 L1522.6 651.8 L1523.2 648.9 L1523.9 645.9 L1524.6 643 L1525.5 640.1 L1526.4 637.3 L1527.5 634.5 L1529 631.9 L1529.7 631.2 M1530.3 631 L1530.3 634 L1530.3 637 L1530.4 640 L1530.4 643 L1530.4 646 L1530.4 649 L1530.4 652 L1530.5 655 L1530.5 658 L1530.5 661 L1530.5 664 L1530.5 667 L1530.6 670 L1530.6 673 L1530.6 676 L1530.6 679 L1530.6 682 L1530.7 685 L1530.7 688 L1530.7 691 L1530.7 694 L1530.7 697 L1530.7 700 L1530.8 703 L1530.8 706 L1530.8 709 L1530.8 712 L1530.8 715 L1530.9 718 L1530.9 721 L1530.9 724 L1530.9 727 L1530.9 730 L1531 733 L1531 736 L1531 739 L1531 742 L1531 745 L1531.1 748 L1531.1 751 L1531.1 754 L1531.1 754 M1532.8 674.8 L1532.9 671.8 L1533 668.8 L1533.1 665.8 L1533.2 662.8 L1533.4 659.8 L1533.7 656.8 L1534 653.8 L1534.4 650.9 L1534.8 647.9 L1535.3 644.9 L1535.8 642 L1536.4 639 L1537 636.1 L1537.6 633.1 L1538.2 630.2 L1538.9 627.3 L1539.7 624.4 L1540.5 621.5 L1541.5 618.7 L1542.7 615.9 L1543.9 614.3 M1544.5 614 L1544.5 617 L1544.5 620 L1544.6 623 L1544.6 626 L1544.6 629 L1544.6 632 L1544.6 635 L1544.6 638 L1544.7 641 L1544.7 644 L1544.7 647 L1544.7 650 L1544.7 653 L1544.8 656 L1544.8 659 L1544.8 662 L1544.8 665 L1544.8 668 L1544.9 671 L1544.9 674 L1544.9 677 L1544.9 680 L1544.9 683 L1544.9 686 L1545 689 L1545 692 L1545 695 L1545 698 L1545 701 L1545.1 704 L1545.1 707 L1545.1 710 L1545.1 713 L1545.1 716 L1545.2 719 L1545.2 722 L1545.2 725 L1545.2 728 L1545.2 731 L1545.2 734 L1545.3 737 L1545.3 740 L1545.3 742 M1547.6 660 L1547.7 657 L1547.7 654 L1547.8 651 L1548 648 L1548.1 645 L1548.3 642 L1548.6 639.1 L1548.9 636.1 L1549.3 633.1 L1549.7 630.1 L1550.1 627.2 L1550.6 624.2 L1551.1 621.2 L1551.6 618.3 L1552.2 615.3 L1552.7 612.4 L1553.4 609.5 L1554 606.5 L1554.8 603.6 L1555.6 600.7 L1556.7 598 L1557.8 596.3 M1558.2 596 L1558.2 599 L1558.2 602 L1558.3 605 L1558.3 608 L1558.3 611 L1558.3 614 L1558.3 617 L1558.3 620 L1558.4 623 L1558.4 626 L1558.4 629 L1558.4 632 L1558.4 635 L1558.5 638 L1558.5 641 L1558.5 644 L1558.5 647 L1558.5 650 L1558.5 653 L1558.6 656 L1558.6 659 L1558.6 662 L1558.6 665 L1558.6 668 L1558.7 671 L1558.7 674 L1558.7 677 L1558.7 680 L1558.7 683 L1558.7 686 L1558.8 689 L1558.8 692 L1558.8 695 L1558.8 698 L1558.8 701 L1558.8 704 L1558.9 707 L1558.9 710 L1558.9 713 L1558.9 716 L1558.9 719 L1559 722 L1559 725 L1559 728 L1559 729 M1561 641.7 L1561 638.7 L1561.1 635.7 L1561.3 632.7 L1561.4 629.7 L1561.6 626.7 L1561.8 623.7 L1562.1 620.8 L1562.5 617.8 L1562.9 614.8 L1563.3 611.8 L1563.7 608.9 L1564.2 605.9 L1564.7 602.9 L1565.2 600 L1565.7 597 L1566.2 594.1 L1566.8 591.1 L1567.5 588.2 L1568.2 585.3 L1568.9 582.4 L1569.9 579.5 L1571.5 577 L1571.5 577 M1571.5 577 L1571.5 580 L1571.5 583 L1571.6 586 L1571.6 589 L1571.6 592 L1571.6 595 L1571.6 598 L1571.6 601 L1571.7 604 L1571.7 607 L1571.7 610 L1571.7 613 L1571.7 616 L1571.7 619 L1571.8 622 L1571.8 625 L1571.8 628 L1571.8 631 L1571.8 634 L1571.8 637 L1571.9 640 L1571.9 643 L1571.9 646 L1571.9 649 L1571.9 652 L1572 655 L1572 658 L1572 661 L1572 664 L1572 667 L1572 670 L1572.1 673 L1572.1 676 L1572.1 679 L1572.1 682 L1572.1 685 L1572.1 688 L1572.2 691 L1572.2 694 L1572.2 697 L1572.2 700 L1572.2 703 L1572.2 706 L1572.3 709 L1572.3 712 L1572.3 715 L1572.3 715 M1574.4 625.1 L1574.5 622.1 L1574.6 619.1 L1574.6 616.1 L1574.8 613.1 L1574.9 610.1 L1575 607.1 L1575.2 604.1 L1575.5 601.1 L1575.8 598.1 L1576.2 595.1 L1576.6 592.1 L1576.9 589.2 L1577.4 586.2 L1577.8 583.2 L1578.2 580.3 L1578.7 577.3 L1579.1 574.3 L1579.6 571.4 L1580.1 568.4 L1580.7 565.5 L1580.7 565.5 M1584.6 566 L1584.6 569 L1584.6 572 L1584.6 575 L1584.6 578 L1584.7 581 L1584.7 584 L1584.7 587 L1584.7 590 L1584.7 593 L1584.7 596 L1584.8 599 L1584.8 602 L1584.8 605 L1584.8 608 L1584.8 611 L1584.8 614 L1584.9 617 L1584.9 620 L1584.9 623 L1584.9 626 L1584.9 629 L1584.9 632 L1585 635 L1585 638 L1585 641 L1585 644 L1585 647 L1585 650 L1585.1 653 L1585.1 656 L1585.1 659 L1585.1 662 L1585.1 665 L1585.1 668 L1585.2 671 L1585.2 674 L1585.2 677 L1585.2 680 L1585.2 683 L1585.2 686 L1585.2 689 L1585.3 692 L1585.3 695 L1585.3 698 L1585.3 698 M1587.4 602.8 L1587.5 599.8 L1587.6 596.8 L1587.7 593.8 L1587.8 590.8 L1588 587.8 L1588.2 584.8 L1588.5 581.8 L1588.8 578.8 L1589.1 575.9 L1589.5 572.9 L1589.9 569.9 L1590.3 566.9 L1590.4 565.9 M1597.8 565.8 L1597.8 568.8 L1597.8 571.8 L1597.8 574.8 L1597.8 577.8 L1597.9 580.8 L1597.9 583.8 L1597.9 586.8 L1597.9 589.8 L1597.9 592.8 L1597.9 595.8 L1598 598.8 L1598 601.8 L1598 604.8 L1598 607.8 L1598 610.8 L1598 613.8 L1598.1 616.8 L1598.1 619.8 L1598.1 622.8 L1598.1 625.8 L1598.1 628.8 L1598.1 631.8 L1598.1 634.8 L1598.2 637.8 L1598.2 640.8 L1598.2 643.8 L1598.2 646.8 L1598.2 649.8 L1598.2 652.8 L1598.3 655.8 L1598.3 658.8 L1598.3 661.8 L1598.3 664.8 L1598.3 667.8 L1598.3 670.8 L1598.4 673.8 L1598.4 676.8 L1598.4 679.8 L1598.4 681.8 M1600.1 583.7 L1600.2 580.7 L1600.2 577.7 L1600.3 574.7 L1600.4 571.7 L1600.5 568.7 L1600.6 565.7 L1600.6 565.7 M1610.1 566 L1610.1 569 L1610.1 572 L1610.2 575 L1610.2 578 L1610.2 581 L1610.2 584 L1610.2 587 L1610.2 590 L1610.2 593 L1610.3 596 L1610.3 599 L1610.3 602 L1610.3 605 L1610.3 608 L1610.3 611 L1610.3 614 L1610.4 617 L1610.4 620 L1610.4 623 L1610.4 626 L1610.4 629 L1610.4 632 L1610.5 635 L1610.5 638 L1610.5 641 L1610.5 644 L1610.5 647 L1610.5 650 L1610.5 653 L1610.6 656 L1610.6 659 L1610.6 662 L1610.6 663 M1622.4 565.3 L1622.4 568.3 L1622.4 571.3 L1622.5 574.3 L1622.5 577.3 L1622.5 580.3 L1622.5 583.3 L1622.5 586.3 L1622.5 589.3 L1622.5 592.3 L1622.6 595.3 L1622.6 598.3 L1622.6 601.3 L1622.6 604.3 L1622.6 607.3 L1622.6 610.3 L1622.6 613.3 L1622.7 616.3 L1622.7 619.3 L1622.7 622.3 L1622.7 625.3 L1622.7 628.3 L1622.7 631.3 L1622.8 634.3 L1622.8 637.3 L1622.8 640.3 L1622.8 643.3 L1622.8 644.3 M1634.4 565.9 L1634.5 568.9 L1634.5 571.9 L1634.5 574.9 L1634.5 577.9 L1634.5 580.9 L1634.5 583.9 L1634.5 586.9 L1634.6 589.9 L1634.6 592.9 L1634.6 595.9 L1634.6 598.9 L1634.6 601.9 L1634.6 604.9 L1634.6 607.9 L1634.6 610.9 L1634.7 613.9 L1634.7 616.9 L1634.7 619.9 L1634.7 621.9 M1645.9 565.6 L1645.9 568.6 L1645.9 571.6 L1645.9 574.6 L1645.9 577.6 L1645.9 580.6 L1646 583.6 L1646 586.6 L1646 589.6 L1646 592.6 L1646 594.6" fill="none" stroke="#ffff00" stroke-width="16.2" stroke-linecap="round" stroke-linejoin="round"/>
<g>
<use href="#yc" x="941.9" y="755.3"/>
<use href="#yc" x="941.9" y="747.5"/>
<use href="#yc" x="941.9" y="743.6"/>
<use href="#yc" x="941.9" y="736.5"/>
<use href="#yc" x="941.9" y="732.9"/>
<use href="#yc" x="941.9" y="734.9"/>
<use href="#yc" x="941.9" y="740.6"/>
<use href="#yc" x="942" y="744.8"/>
<use href="#yc" x="942" y="751.7"/>
<use href="#yc" x="942" y="755.3"/>
<use href="#yc" x="981.9" y="756.4"/>
<use href="#yc" x="981.9" y="751.4"/>
<use href="#yc" x="982" y="746.4"/>
<use href="#yc" x="982" y="741.5"/>
<use href="#yc" x="982" y="734.8"/>
<use href="#yc" x="982" y="728.9"/>
<use href="#yc" x="982" y="725.7"/>
<use href="#yc" x="982" y="718.7"/>
<use href="#yc" x="982" y="715"/>
<use href="#yc" x="982" y="716.6"/>
<use href="#yc" x="982" y="722.3"/>
<use href="#yc" x="982.1" y="728"/>
<use href="#yc" x="982.1" y="733.8"/>
<use href="#yc" x="982.1" y="739.2"/>
<use href="#yc" x="982.1" y="744.6"/>
<use href="#yc" x="982.2" y="750.3"/>
<use href="#yc" x="982.2" y="756.6"/>
<use href="#yc" x="1020.7" y="756.2"/>
<use href="#yc" x="1020.7" y="749.4"/>
<use href="#yc" x="1020.7" y="744.1"/>
<use href="#yc" x="1020.7" y="740.4"/>
<use href="#yc" x="1020.7" y="733.7"/>
<use href="#yc" x="1020.8" y="728.3"/>
<use href="#yc" x="1020.8" y="721.3"/>
<use href="#yc" x="1020.8" y="716.9"/>
<use href="#yc" x="1020.8" y="711.8"/>
<use href="#yc" x="1020.8" y="704.8"/>
<use href="#yc" x="1020.8" y="700.9"/>
<use href="#yc" x="1020.8" y="695.5"/>
<use href="#yc" x="1020.8" y="692.7"/>
<use href="#yc" x="1020.8" y="697.7"/>
<use href="#yc" x="1020.8" y="703.8"/>
<use href="#yc" x="1020.9" y="708.4"/>
<use href="#yc" x="1020.9" y="714.9"/>
<use href="#yc" x="1020.9" y="720.5"/>
<use href="#yc" x="1020.9" y="724"/>
<use href="#yc" x="1020.9" y="729.6"/>
<use href="#yc" x="1020.9" y="736.8"/>
<use href="#yc" x="1021" y="743.1"/>
<use href="#yc" x="1021" y="746.6"/>
<use href="#yc" x="1021" y="752.7"/>
<use href="#yc" x="1056.9" y="752.4"/>
<use href="#yc" x="1056.9" y="739"/>
<use href="#yc" x="1056.9" y="726.4"/>
<use href="#yc" x="1057" y="714.9"/>
<use href="#yc" x="1057" y="699.9"/>
<use href="#yc" x="1057" y="687.4"/>
<use href="#yc" x="1057" y="677"/>
<use href="#yc" x="1057" y="674.5"/>
<use href="#yc" x="1057" y="688.6"/>
<use href="#yc" x="1057.1" y="698.8"/>
<use href="#yc" x="1057.1" y="711.2"/>
<use href="#yc" x="1057.1" y="728"/>
<use href="#yc" x="1057.2" y="737.4"/>
<use href="#yc" x="1057.2" y="750"/>
<use href="#yc" x="1091.8" y="750.2"/>
<use href="#yc" x="1091.8" y="738.7"/>
<use href="#yc" x="1091.8" y="725.7"/>
<use href="#yc" x="1091.8" y="716"/>
<use href="#yc" x="1091.8" y="700.4"/>
<use href="#yc" x="1091.9" y="690.1"/>
<use href="#yc" x="1091.9" y="672.7"/>
<use href="#yc" x="1091.9" y="660.8"/>
<use href="#yc" x="1091.9" y="664.7"/>
<use href="#yc" x="1092" y="674.8"/>
<use href="#yc" x="1092" y="686.4"/>
<use href="#yc" x="1092" y="698.7"/>
<use href="#yc" x="1092" y="714.3"/>
<use href="#yc" x="1092.1" y="725.1"/>
<use href="#yc" x="1092.1" y="742.1"/>
<use href="#yc" x="1092.1" y="755.4"/>
<use href="#yc" x="1124.1" y="751.8"/>
<use href="#yc" x="1124.1" y="737.7"/>
<use href="#yc" x="1124.1" y="725.8"/>
<use href="#yc" x="1124.1" y="709.8"/>
<use href="#yc" x="1124.1" y="695.4"/>
<use href="#yc" x="1124.1" y="683.4"/>
<use href="#yc" x="1124.2" y="673.7"/>
<use href="#yc" x="1124.2" y="657.3"/>
<use href="#yc" x="1124.2" y="644.8"/>
<use href="#yc" x="1124.2" y="632.2"/>
<use href="#yc" x="1124.2" y="637"/>
<use href="#yc" x="1124.2" y="653.3"/>
<use href="#yc" x="1124.3" y="661.3"/>
<use href="#yc" x="1124.3" y="673.3"/>
<use href="#yc" x="1124.3" y="692.4"/>
<use href="#yc" x="1124.4" y="705"/>
<use href="#yc" x="1124.4" y="718.7"/>
<use href="#yc" x="1124.4" y="728.1"/>
<use href="#yc" x="1124.4" y="744.5"/>
<use href="#yc" x="1124.5" y="757.3"/>
<use href="#yc" x="1155.1" y="751"/>
<use href="#yc" x="1155.1" y="736.9"/>
<use href="#yc" x="1155.1" y="722.9"/>
<use href="#yc" x="1155.1" y="708.4"/>
<use href="#yc" x="1155.1" y="695.8"/>
<use href="#yc" x="1155.1" y="682"/>
<use href="#yc" x="1155.1" y="668"/>
<use href="#yc" x="1155.2" y="658.4"/>
<use href="#yc" x="1155.2" y="643.4"/>
<use href="#yc" x="1155.2" y="633.8"/>
<use href="#yc" x="1155.3" y="639.3"/>
<use href="#yc" x="1155.3" y="650.9"/>
<use href="#yc" x="1155.3" y="665.4"/>
<use href="#yc" x="1155.3" y="678.3"/>
<use href="#yc" x="1155.4" y="691.3"/>
<use href="#yc" x="1155.4" y="702.2"/>
<use href="#yc" x="1155.4" y="711.5"/>
<use href="#yc" x="1155.4" y="729.3"/>
<use href="#yc" x="1155.5" y="738.6"/>
<use href="#yc" x="1155.5" y="752.4"/>
<use href="#yc" x="1184.9" y="745"/>
<use href="#yc" x="1185" y="734.7"/>
<use href="#yc" x="1185" y="718.4"/>
<use href="#yc" x="1185" y="702.5"/>
<use href="#yc" x="1185" y="687.9"/>
<use href="#yc" x="1185" y="678.2"/>
<use href="#yc" x="1185" y="661.5"/>
<use href="#yc" x="1185" y="649.6"/>
<use href="#yc" x="1185.1" y="632.6"/>
<use href="#yc" x="1185.1" y="617.5"/>
<use href="#yc" x="1185.1" y="605.9"/>
<use href="#yc" x="1185.1" y="593.9"/>
<use href="#yc" x="1185.1" y="593.1"/>
<use href="#yc" x="1185.1" y="608.1"/>
<use href="#yc" x="1185.2" y="621.2"/>
<use href="#yc" x="1185.2" y="635.4"/>
<use href="#yc" x="1185.2" y="643.7"/>
<use href="#yc" x="1185.2" y="662"/>
<use href="#yc" x="1185.2" y="677.6"/>
<use href="#yc" x="1185.3" y="685.9"/>
<use href="#yc" x="1185.3" y="701.5"/>
<use href="#yc" x="1185.3" y="715.5"/>
<use href="#yc" x="1185.3" y="731.3"/>
<use href="#yc" x="1185.4" y="744.6"/>
<use href="#yc" x="1212.7" y="752.7"/>
<use href="#yc" x="1212.7" y="740"/>
<use href="#yc" x="1212.7" y="727.5"/>
<use href="#yc" x="1212.8" y="714.5"/>
<use href="#yc" x="1212.8" y="701.1"/>
<use href="#yc" x="1212.8" y="694"/>
<use href="#yc" x="1212.8" y="680.2"/>
<use href="#yc" x="1212.8" y="662.2"/>
<use href="#yc" x="1212.8" y="651.9"/>
<use href="#yc" x="1212.8" y="637.7"/>
<use href="#yc" x="1213" y="636.9"/>
<use href="#yc" x="1213" y="651.8"/>
<use href="#yc" x="1213.1" y="664.5"/>
<use href="#yc" x="1213.1" y="676"/>
<use href="#yc" x="1213.1" y="687.9"/>
<use href="#yc" x="1213.1" y="701.8"/>
<use href="#yc" x="1213.1" y="713.4"/>
<use href="#yc" x="1213.2" y="729.3"/>
<use href="#yc" x="1213.2" y="743.3"/>
<use href="#yc" x="1213.2" y="754.1"/>
<use href="#yc" x="1239.1" y="745.2"/>
<use href="#yc" x="1239.1" y="732.8"/>
<use href="#yc" x="1239.1" y="720.1"/>
<use href="#yc" x="1239.2" y="703.3"/>
<use href="#yc" x="1239.2" y="692.2"/>
<use href="#yc" x="1239.2" y="677"/>
<use href="#yc" x="1239.2" y="661.6"/>
<use href="#yc" x="1239.2" y="647.2"/>
<use href="#yc" x="1239.2" y="634.1"/>
<use href="#yc" x="1239.2" y="621.5"/>
<use href="#yc" x="1239.2" y="605.5"/>
<use href="#yc" x="1239.3" y="593.5"/>
<use href="#yc" x="1239.3" y="577.8"/>
<use href="#yc" x="1239.3" y="576.9"/>
<use href="#yc" x="1239.4" y="592"/>
<use href="#yc" x="1239.4" y="601.6"/>
<use href="#yc" x="1239.4" y="618.1"/>
<use href="#yc" x="1239.4" y="632.1"/>
<use href="#yc" x="1239.5" y="649.3"/>
<use href="#yc" x="1239.5" y="663.7"/>
<use href="#yc" x="1239.5" y="673.8"/>
<use href="#yc" x="1239.5" y="691.4"/>
<use href="#yc" x="1239.5" y="704.7"/>
<use href="#yc" x="1239.6" y="715"/>
<use href="#yc" x="1239.6" y="730.4"/>
<use href="#yc" x="1239.6" y="742"/>
<use href="#yc" x="1265.2" y="747.4"/>
<use href="#yc" x="1265.2" y="732.8"/>
<use href="#yc" x="1265.2" y="717.9"/>
<use href="#yc" x="1265.2" y="704.4"/>
<use href="#yc" x="1265.3" y="689.2"/>
<use href="#yc" x="1265.3" y="671.9"/>
<use href="#yc" x="1265.3" y="661.3"/>
<use href="#yc" x="1265.3" y="643.3"/>
<use href="#yc" x="1265.3" y="630.2"/>
<use href="#yc" x="1265.3" y="620.6"/>
<use href="#yc" x="1265.3" y="601.5"/>
<use href="#yc" x="1265.3" y="587.9"/>
<use href="#yc" x="1265.4" y="573.9"/>
<use href="#yc" x="1265.5" y="574.7"/>
<use href="#yc" x="1265.5" y="587.6"/>
<use href="#yc" x="1265.5" y="607.3"/>
<use href="#yc" x="1265.5" y="616.3"/>
<use href="#yc" x="1265.6" y="635.3"/>
<use href="#yc" x="1265.6" y="648.1"/>
<use href="#yc" x="1265.6" y="663.3"/>
<use href="#yc" x="1265.6" y="678.1"/>
<use href="#yc" x="1265.6" y="689.5"/>
<use href="#yc" x="1265.7" y="705"/>
<use href="#yc" x="1265.7" y="713.7"/>
<use href="#yc" x="1265.7" y="732.8"/>
<use href="#yc" x="1265.7" y="745"/>
<use href="#yc" x="1289.3" y="757.8"/>
<use href="#yc" x="1289.3" y="745.5"/>
<use href="#yc" x="1289.3" y="725.4"/>
<use href="#yc" x="1289.3" y="713.3"/>
<use href="#yc" x="1289.3" y="701"/>
<use href="#yc" x="1289.3" y="688.8"/>
<use href="#yc" x="1289.4" y="670.7"/>
<use href="#yc" x="1289.4" y="656.3"/>
<use href="#yc" x="1289.4" y="642.8"/>
<use href="#yc" x="1289.4" y="631.3"/>
<use href="#yc" x="1289.4" y="618.3"/>
<use href="#yc" x="1289.4" y="601.8"/>
<use href="#yc" x="1289.4" y="587.6"/>
<use href="#yc" x="1289.4" y="573.8"/>
<use href="#yc" x="1289.6" y="572.8"/>
<use href="#yc" x="1289.6" y="584.5"/>
<use href="#yc" x="1289.6" y="601.4"/>
<use href="#yc" x="1289.7" y="618.7"/>
<use href="#yc" x="1289.7" y="628.8"/>
<use href="#yc" x="1289.7" y="645.1"/>
<use href="#yc" x="1289.7" y="655"/>
<use href="#yc" x="1289.7" y="672.7"/>
<use href="#yc" x="1289.8" y="687.2"/>
<use href="#yc" x="1289.8" y="700.6"/>
<use href="#yc" x="1289.8" y="713.5"/>
<use href="#yc" x="1289.8" y="727.3"/>
<use href="#yc" x="1289.8" y="742.4"/>
<use href="#yc" x="1289.9" y="757.8"/>
<use href="#yc" x="1312.8" y="750"/>
<use href="#yc" x="1312.8" y="737.2"/>
<use href="#yc" x="1312.8" y="720.4"/>
<use href="#yc" x="1312.8" y="705.9"/>
<use href="#yc" x="1312.8" y="693.8"/>
<use href="#yc" x="1312.8" y="676.1"/>
<use href="#yc" x="1312.8" y="662.6"/>
<use href="#yc" x="1312.9" y="648.2"/>
<use href="#yc" x="1312.9" y="636.9"/>
<use href="#yc" x="1312.9" y="621"/>
<use href="#yc" x="1312.9" y="606.4"/>
<use href="#yc" x="1312.9" y="595.6"/>
<use href="#yc" x="1312.9" y="583.4"/>
<use href="#yc" x="1312.9" y="565.6"/>
<use href="#yc" x="1313.1" y="569.1"/>
<use href="#yc" x="1313.1" y="586.2"/>
<use href="#yc" x="1313.2" y="598.3"/>
<use href="#yc" x="1313.2" y="610"/>
<use href="#yc" x="1313.2" y="623.7"/>
<use href="#yc" x="1313.2" y="636.3"/>
<use href="#yc" x="1313.2" y="653.5"/>
<use href="#yc" x="1313.3" y="666.9"/>
<use href="#yc" x="1313.3" y="679.4"/>
<use href="#yc" x="1313.3" y="694.7"/>
<use href="#yc" x="1313.3" y="708.4"/>
<use href="#yc" x="1313.3" y="725.6"/>
<use href="#yc" x="1313.3" y="735.2"/>
<use href="#yc" x="1313.4" y="755.1"/>
<use href="#yc" x="1335.4" y="745.1"/>
<use href="#yc" x="1335.4" y="733.7"/>
<use href="#yc" x="1335.4" y="719.6"/>
<use href="#yc" x="1335.4" y="703.7"/>
<use href="#yc" x="1335.4" y="689.2"/>
<use href="#yc" x="1335.4" y="676.9"/>
<use href="#yc" x="1335.4" y="663.8"/>
<use href="#yc" x="1335.4" y="646.6"/>
<use href="#yc" x="1335.5" y="634.9"/>
<use href="#yc" x="1335.5" y="622.5"/>
<use href="#yc" x="1335.5" y="605.1"/>
<use href="#yc" x="1335.5" y="589.4"/>
<use href="#yc" x="1335.5" y="575.5"/>
<use href="#yc" x="1335.8" y="575.9"/>
<use href="#yc" x="1335.8" y="591.9"/>
<use href="#yc" x="1335.8" y="605.1"/>
<use href="#yc" x="1335.8" y="614.8"/>
<use href="#yc" x="1335.8" y="628.5"/>
<use href="#yc" x="1335.8" y="643"/>
<use href="#yc" x="1335.9" y="656.5"/>
<use href="#yc" x="1335.9" y="674.1"/>
<use href="#yc" x="1335.9" y="689.2"/>
<use href="#yc" x="1335.9" y="703.4"/>
<use href="#yc" x="1335.9" y="712.9"/>
<use href="#yc" x="1335.9" y="731.2"/>
<use href="#yc" x="1336" y="741.3"/>
<use href="#yc" x="1336" y="756.1"/>
<use href="#yc" x="1356.2" y="747"/>
<use href="#yc" x="1356.2" y="729.2"/>
<use href="#yc" x="1356.2" y="715.7"/>
<use href="#yc" x="1356.2" y="703.3"/>
<use href="#yc" x="1356.2" y="689.9"/>
<use href="#yc" x="1356.2" y="671.3"/>
<use href="#yc" x="1356.2" y="659.5"/>
<use href="#yc" x="1356.2" y="646.3"/>
<use href="#yc" x="1356.2" y="632.6"/>
<use href="#yc" x="1356.3" y="616.7"/>
<use href="#yc" x="1356.3" y="605.3"/>
<use href="#yc" x="1356.3" y="593.9"/>
<use href="#yc" x="1356.3" y="575.9"/>
<use href="#yc" x="1356.6" y="573"/>
<use href="#yc" x="1356.6" y="588"/>
<use href="#yc" x="1356.6" y="604.8"/>
<use href="#yc" x="1356.6" y="614.9"/>
<use href="#yc" x="1356.6" y="634.3"/>
<use href="#yc" x="1356.7" y="648.5"/>
<use href="#yc" x="1356.7" y="656.8"/>
<use href="#yc" x="1356.7" y="676.7"/>
<use href="#yc" x="1356.7" y="686.7"/>
<use href="#yc" x="1356.7" y="703.5"/>
<use href="#yc" x="1356.7" y="717.4"/>
<use href="#yc" x="1356.8" y="728.2"/>
<use href="#yc" x="1356.8" y="744.9"/>
<use href="#yc" x="1356.8" y="757.8"/>
<use href="#yc" x="1376.5" y="747.6"/>
<use href="#yc" x="1376.5" y="729.3"/>
<use href="#yc" x="1376.5" y="712.2"/>
<use href="#yc" x="1376.5" y="692.8"/>
<use href="#yc" x="1376.5" y="679.9"/>
<use href="#yc" x="1376.5" y="662.8"/>
<use href="#yc" x="1376.5" y="649.7"/>
<use href="#yc" x="1376.5" y="633.4"/>
<use href="#yc" x="1376.5" y="616.5"/>
<use href="#yc" x="1376.6" y="597.4"/>
<use href="#yc" x="1376.6" y="585.1"/>
<use href="#yc" x="1376.6" y="569"/>
<use href="#yc" x="1376.9" y="568.6"/>
<use href="#yc" x="1376.9" y="582.7"/>
<use href="#yc" x="1376.9" y="594.5"/>
<use href="#yc" x="1376.9" y="616.9"/>
<use href="#yc" x="1377" y="626.6"/>
<use href="#yc" x="1377" y="644.1"/>
<use href="#yc" x="1377" y="663.2"/>
<use href="#yc" x="1377" y="678.2"/>
<use href="#yc" x="1377" y="693.9"/>
<use href="#yc" x="1377.1" y="710.6"/>
<use href="#yc" x="1377.1" y="725.1"/>
<use href="#yc" x="1377.1" y="740"/>
<use href="#yc" x="1377.1" y="754.9"/>
<use href="#yc" x="1396.3" y="750.3"/>
<use href="#yc" x="1396.4" y="735.8"/>
<use href="#yc" x="1396.4" y="716.8"/>
<use href="#yc" x="1396.4" y="700.1"/>
<use href="#yc" x="1396.4" y="685"/>
<use href="#yc" x="1396.4" y="672.9"/>
<use href="#yc" x="1396.4" y="650.3"/>
<use href="#yc" x="1396.4" y="638"/>
<use href="#yc" x="1396.4" y="619.9"/>
<use href="#yc" x="1396.4" y="608.1"/>
<use href="#yc" x="1396.5" y="588.8"/>
<use href="#yc" x="1396.5" y="572.6"/>
<use href="#yc" x="1396.8" y="571.6"/>
<use href="#yc" x="1396.8" y="589.4"/>
<use href="#yc" x="1396.9" y="602.1"/>
<use href="#yc" x="1396.9" y="622"/>
<use href="#yc" x="1396.9" y="632.2"/>
<use href="#yc" x="1396.9" y="649.4"/>
<use href="#yc" x="1396.9" y="664.1"/>
<use href="#yc" x="1396.9" y="680.2"/>
<use href="#yc" x="1397" y="701.5"/>
<use href="#yc" x="1397" y="717.1"/>
<use href="#yc" x="1397" y="728.7"/>
<use href="#yc" x="1397" y="744.8"/>
<use href="#yc" x="1415.5" y="756.9"/>
<use href="#yc" x="1415.5" y="739.7"/>
<use href="#yc" x="1415.6" y="720.1"/>
<use href="#yc" x="1415.6" y="706.1"/>
<use href="#yc" x="1415.6" y="688.5"/>
<use href="#yc" x="1415.6" y="675.2"/>
<use href="#yc" x="1415.6" y="659.5"/>
<use href="#yc" x="1415.6" y="640.6"/>
<use href="#yc" x="1415.6" y="624.9"/>
<use href="#yc" x="1415.6" y="613.2"/>
<use href="#yc" x="1415.6" y="591.2"/>
<use href="#yc" x="1415.6" y="581.4"/>
<use href="#yc" x="1416" y="572.6"/>
<use href="#yc" x="1416.1" y="584"/>
<use href="#yc" x="1416.1" y="601.4"/>
<use href="#yc" x="1416.1" y="617.6"/>
<use href="#yc" x="1416.1" y="634"/>
<use href="#yc" x="1416.1" y="652.8"/>
<use href="#yc" x="1416.1" y="666.5"/>
<use href="#yc" x="1416.2" y="679.4"/>
<use href="#yc" x="1416.2" y="699.8"/>
<use href="#yc" x="1416.2" y="712.8"/>
<use href="#yc" x="1416.2" y="729.8"/>
<use href="#yc" x="1416.3" y="746.8"/>
<use href="#yc" x="1433.7" y="747.3"/>
<use href="#yc" x="1433.7" y="731.6"/>
<use href="#yc" x="1433.7" y="715.1"/>
<use href="#yc" x="1433.8" y="697"/>
<use href="#yc" x="1433.8" y="683.6"/>
<use href="#yc" x="1433.8" y="663.7"/>
<use href="#yc" x="1433.8" y="651.4"/>
<use href="#yc" x="1433.8" y="636.6"/>
<use href="#yc" x="1433.8" y="619"/>
<use href="#yc" x="1433.8" y="603.9"/>
<use href="#yc" x="1433.8" y="591.1"/>
<use href="#yc" x="1433.8" y="574.5"/>
<use href="#yc" x="1434.3" y="575.2"/>
<use href="#yc" x="1434.3" y="589.9"/>
<use href="#yc" x="1434.3" y="601.3"/>
<use href="#yc" x="1434.3" y="619.7"/>
<use href="#yc" x="1434.3" y="634.7"/>
<use href="#yc" x="1434.3" y="649.5"/>
<use href="#yc" x="1434.4" y="669.2"/>
<use href="#yc" x="1434.4" y="688.3"/>
<use href="#yc" x="1434.4" y="699.5"/>
<use href="#yc" x="1434.4" y="719.8"/>
<use href="#yc" x="1434.5" y="734.4"/>
<use href="#yc" x="1434.5" y="745.9"/>
<use href="#yc" x="1437.1" y="757.6"/>
<use href="#yc" x="1437.2" y="753.6"/>
<use href="#yc" x="1437.3" y="750"/>
<use href="#yc" x="1451.5" y="745"/>
<use href="#yc" x="1451.5" y="730"/>
<use href="#yc" x="1451.5" y="713.4"/>
<use href="#yc" x="1451.6" y="694"/>
<use href="#yc" x="1451.6" y="680.6"/>
<use href="#yc" x="1451.6" y="662.4"/>
<use href="#yc" x="1451.6" y="643.4"/>
<use href="#yc" x="1451.6" y="626.8"/>
<use href="#yc" x="1451.6" y="611.1"/>
<use href="#yc" x="1451.6" y="596.1"/>
<use href="#yc" x="1451.6" y="579.8"/>
<use href="#yc" x="1451.6" y="566.5"/>
<use href="#yc" x="1452.1" y="568.5"/>
<use href="#yc" x="1452.1" y="583.6"/>
<use href="#yc" x="1452.1" y="601.4"/>
<use href="#yc" x="1452.1" y="614.6"/>
<use href="#yc" x="1452.1" y="631.9"/>
<use href="#yc" x="1452.2" y="650.2"/>
<use href="#yc" x="1452.2" y="663.4"/>
<use href="#yc" x="1452.2" y="677.6"/>
<use href="#yc" x="1452.2" y="699.4"/>
<use href="#yc" x="1452.2" y="713.9"/>
<use href="#yc" x="1452.3" y="727.1"/>
<use href="#yc" x="1452.3" y="743.2"/>
<use href="#yc" x="1454.6" y="754.6"/>
<use href="#yc" x="1454.6" y="750.6"/>
<use href="#yc" x="1454.7" y="747.3"/>
<use href="#yc" x="1454.8" y="744.8"/>
<use href="#yc" x="1455" y="740"/>
<use href="#yc" x="1455.1" y="737"/>
<use href="#yc" x="1468.5" y="748.5"/>
<use href="#yc" x="1468.5" y="732.2"/>
<use href="#yc" x="1468.5" y="718.1"/>
<use href="#yc" x="1468.5" y="700.2"/>
<use href="#yc" x="1468.5" y="683.1"/>
<use href="#yc" x="1468.6" y="667.8"/>
<use href="#yc" x="1468.6" y="652.2"/>
<use href="#yc" x="1468.6" y="638.8"/>
<use href="#yc" x="1468.6" y="619.4"/>
<use href="#yc" x="1468.6" y="603.1"/>
<use href="#yc" x="1468.6" y="590.5"/>
<use href="#yc" x="1468.6" y="574.1"/>
<use href="#yc" x="1469.1" y="566.1"/>
<use href="#yc" x="1469.1" y="584.9"/>
<use href="#yc" x="1469.1" y="600.8"/>
<use href="#yc" x="1469.1" y="613.9"/>
<use href="#yc" x="1469.1" y="637.4"/>
<use href="#yc" x="1469.2" y="647.4"/>
<use href="#yc" x="1469.2" y="662.4"/>
<use href="#yc" x="1469.2" y="681.5"/>
<use href="#yc" x="1469.2" y="695"/>
<use href="#yc" x="1469.2" y="714.6"/>
<use href="#yc" x="1469.1" y="728.4"/>
<use href="#yc" x="1469.1" y="742.6"/>
<use href="#yc" x="1470.6" y="756.8"/>
<use href="#yc" x="1470.6" y="754.2"/>
<use href="#yc" x="1470.7" y="750"/>
<use href="#yc" x="1470.7" y="747.2"/>
<use href="#yc" x="1470.8" y="742.5"/>
<use href="#yc" x="1470.9" y="738.8"/>
<use href="#yc" x="1471" y="735.2"/>
<use href="#yc" x="1471.1" y="732.6"/>
<use href="#yc" x="1471.2" y="728.7"/>
<use href="#yc" x="1484.5" y="745.1"/>
<use href="#yc" x="1484.5" y="733.8"/>
<use href="#yc" x="1484.5" y="720.1"/>
<use href="#yc" x="1484.5" y="701.1"/>
<use href="#yc" x="1484.5" y="680.4"/>
<use href="#yc" x="1484.5" y="664.6"/>
<use href="#yc" x="1484.6" y="649.1"/>
<use href="#yc" x="1484.6" y="633.7"/>
<use href="#yc" x="1484.6" y="616.6"/>
<use href="#yc" x="1484.6" y="600.8"/>
<use href="#yc" x="1484.6" y="589.6"/>
<use href="#yc" x="1484.6" y="575.6"/>
<use href="#yc" x="1485.1" y="575"/>
<use href="#yc" x="1485.1" y="587"/>
<use href="#yc" x="1485.1" y="605.6"/>
<use href="#yc" x="1485.2" y="622.5"/>
<use href="#yc" x="1485.2" y="638.7"/>
<use href="#yc" x="1485.2" y="647.5"/>
<use href="#yc" x="1485.2" y="665.6"/>
<use href="#yc" x="1485.2" y="684.1"/>
<use href="#yc" x="1485.2" y="702.8"/>
<use href="#yc" x="1485.2" y="711.9"/>
<use href="#yc" x="1485.2" y="729.6"/>
<use href="#yc" x="1485.2" y="750"/>
<use href="#yc" x="1485.3" y="754.1"/>
<use href="#yc" x="1485.3" y="757.6"/>
<use href="#yc" x="1486.8" y="757.8"/>
<use href="#yc" x="1486.8" y="754"/>
<use href="#yc" x="1486.8" y="751.4"/>
<use href="#yc" x="1486.9" y="747.8"/>
<use href="#yc" x="1486.9" y="744.4"/>
<use href="#yc" x="1487" y="740.3"/>
<use href="#yc" x="1487" y="737.4"/>
<use href="#yc" x="1487.1" y="732.8"/>
<use href="#yc" x="1487.2" y="729.3"/>
<use href="#yc" x="1487.2" y="725.3"/>
<use href="#yc" x="1487.3" y="722.7"/>
<use href="#yc" x="1487.4" y="718.6"/>
<use href="#yc" x="1487.5" y="714.6"/>
<use href="#yc" x="1500" y="742.8"/>
<use href="#yc" x="1500" y="725.9"/>
<use href="#yc" x="1500" y="710.8"/>
<use href="#yc" x="1500" y="692.2"/>
<use href="#yc" x="1500" y="677"/>
<use href="#yc" x="1500" y="658.3"/>
<use href="#yc" x="1500.1" y="646.8"/>
<use href="#yc" x="1500.1" y="625.3"/>
<use href="#yc" x="1500.1" y="612.8"/>
<use href="#yc" x="1500.1" y="599.2"/>
<use href="#yc" x="1500.1" y="582.5"/>
<use href="#yc" x="1500.6" y="578.2"/>
<use href="#yc" x="1500.6" y="599"/>
<use href="#yc" x="1500.7" y="613.4"/>
<use href="#yc" x="1500.7" y="631.3"/>
<use href="#yc" x="1500.7" y="647.2"/>
<use href="#yc" x="1500.7" y="659.9"/>
<use href="#yc" x="1500.7" y="679.4"/>
<use href="#yc" x="1500.7" y="694.1"/>
<use href="#yc" x="1500.7" y="706.9"/>
<use href="#yc" x="1500.7" y="723.2"/>
<use href="#yc" x="1500.7" y="736.8"/>
<use href="#yc" x="1500.7" y="746.1"/>
<use href="#yc" x="1500.7" y="748.1"/>
<use href="#yc" x="1500.7" y="752.6"/>
<use href="#yc" x="1500.7" y="755.3"/>
<use href="#yc" x="1501.9" y="757.2"/>
<use href="#yc" x="1502" y="752.9"/>
<use href="#yc" x="1502" y="748.9"/>
<use href="#yc" x="1502" y="745.5"/>
<use href="#yc" x="1502.1" y="742.8"/>
<use href="#yc" x="1502.1" y="739.1"/>
<use href="#yc" x="1502.1" y="734.4"/>
<use href="#yc" x="1502.2" y="731.2"/>
<use href="#yc" x="1502.2" y="729"/>
<use href="#yc" x="1502.3" y="724"/>
<use href="#yc" x="1502.3" y="721"/>
<use href="#yc" x="1502.4" y="717.2"/>
<use href="#yc" x="1502.5" y="714.2"/>
<use href="#yc" x="1502.5" y="710.3"/>
<use href="#yc" x="1502.6" y="707"/>
<use href="#yc" x="1502.7" y="703"/>
<use href="#yc" x="1515.7" y="728.2"/>
<use href="#yc" x="1515.7" y="711.4"/>
<use href="#yc" x="1515.7" y="701.4"/>
<use href="#yc" x="1515.7" y="679.7"/>
<use href="#yc" x="1515.7" y="663"/>
<use href="#yc" x="1515.7" y="654.5"/>
<use href="#yc" x="1515.7" y="632.4"/>
<use href="#yc" x="1515.8" y="622"/>
<use href="#yc" x="1515.8" y="599.5"/>
<use href="#yc" x="1515.8" y="586.5"/>
<use href="#yc" x="1515.8" y="568.6"/>
<use href="#yc" x="1516.3" y="568.2"/>
<use href="#yc" x="1516.4" y="584.4"/>
<use href="#yc" x="1516.4" y="601.4"/>
<use href="#yc" x="1516.4" y="618.2"/>
<use href="#yc" x="1516.4" y="630"/>
<use href="#yc" x="1516.4" y="648.1"/>
<use href="#yc" x="1516.4" y="662.8"/>
<use href="#yc" x="1516.4" y="676.2"/>
<use href="#yc" x="1516.4" y="698"/>
<use href="#yc" x="1516.4" y="712"/>
<use href="#yc" x="1516.4" y="729.8"/>
<use href="#yc" x="1516.4" y="734.6"/>
<use href="#yc" x="1516.4" y="738.1"/>
<use href="#yc" x="1516.5" y="742.2"/>
<use href="#yc" x="1516.5" y="744.6"/>
<use href="#yc" x="1516.5" y="748.7"/>
<use href="#yc" x="1516.5" y="752.5"/>
<use href="#yc" x="1516.6" y="755.4"/>
<use href="#yc" x="1517.6" y="755.8"/>
<use href="#yc" x="1517.6" y="751.7"/>
<use href="#yc" x="1517.7" y="748.5"/>
<use href="#yc" x="1517.7" y="744.8"/>
<use href="#yc" x="1517.7" y="740.5"/>
<use href="#yc" x="1517.7" y="737.2"/>
<use href="#yc" x="1517.8" y="734.7"/>
<use href="#yc" x="1517.8" y="729.9"/>
<use href="#yc" x="1517.8" y="726.5"/>
<use href="#yc" x="1517.9" y="722.3"/>
<use href="#yc" x="1517.9" y="718.9"/>
<use href="#yc" x="1518" y="715.2"/>
<use href="#yc" x="1518" y="713"/>
<use href="#yc" x="1518.1" y="709"/>
<use href="#yc" x="1518.1" y="705.7"/>
<use href="#yc" x="1518.2" y="702.3"/>
<use href="#yc" x="1518.2" y="698"/>
<use href="#yc" x="1518.3" y="695"/>
<use href="#yc" x="1518.4" y="690.7"/>
<use href="#yc" x="1530.5" y="719.2"/>
<use href="#yc" x="1530.5" y="702.8"/>
<use href="#yc" x="1530.5" y="687.2"/>
<use href="#yc" x="1530.5" y="667.5"/>
<use href="#yc" x="1530.5" y="653.8"/>
<use href="#yc" x="1530.5" y="634.9"/>
<use href="#yc" x="1530.5" y="623.6"/>
<use href="#yc" x="1530.6" y="607"/>
<use href="#yc" x="1530.6" y="585.9"/>
<use href="#yc" x="1530.6" y="575.1"/>
<use href="#yc" x="1531.2" y="577.7"/>
<use href="#yc" x="1531.2" y="598.7"/>
<use href="#yc" x="1531.2" y="611.3"/>
<use href="#yc" x="1531.2" y="629.1"/>
<use href="#yc" x="1531.2" y="646.1"/>
<use href="#yc" x="1531.1" y="657.3"/>
<use href="#yc" x="1531.1" y="678.9"/>
<use href="#yc" x="1531.1" y="691.2"/>
<use href="#yc" x="1531" y="708.4"/>
<use href="#yc" x="1531" y="724"/>
<use href="#yc" x="1531" y="727.6"/>
<use href="#yc" x="1531" y="730.4"/>
<use href="#yc" x="1531.1" y="733.6"/>
<use href="#yc" x="1531.1" y="737.6"/>
<use href="#yc" x="1531.1" y="741.4"/>
<use href="#yc" x="1531.1" y="744.4"/>
<use href="#yc" x="1531.2" y="748.1"/>
<use href="#yc" x="1531.2" y="752.8"/>
<use href="#yc" x="1531.2" y="756.3"/>
<use href="#yc" x="1531.9" y="757.8"/>
<use href="#yc" x="1531.9" y="754.5"/>
<use href="#yc" x="1532" y="750"/>
<use href="#yc" x="1532" y="746"/>
<use href="#yc" x="1532" y="742.7"/>
<use href="#yc" x="1532" y="739.3"/>
<use href="#yc" x="1532" y="735.8"/>
<use href="#yc" x="1532.1" y="732.3"/>
<use href="#yc" x="1532.1" y="728.3"/>
<use href="#yc" x="1532.1" y="725.6"/>
<use href="#yc" x="1532.1" y="721"/>
<use href="#yc" x="1532.2" y="717.7"/>
<use href="#yc" x="1532.2" y="714.9"/>
<use href="#yc" x="1532.2" y="711.2"/>
<use href="#yc" x="1532.3" y="706.6"/>
<use href="#yc" x="1532.3" y="702.9"/>
<use href="#yc" x="1532.3" y="700.4"/>
<use href="#yc" x="1532.4" y="695.3"/>
<use href="#yc" x="1532.4" y="691.9"/>
<use href="#yc" x="1532.5" y="689.1"/>
<use href="#yc" x="1532.5" y="685.5"/>
<use href="#yc" x="1532.6" y="681.2"/>
<use href="#yc" x="1532.7" y="677.4"/>
<use href="#yc" x="1544.7" y="709"/>
<use href="#yc" x="1544.7" y="690.6"/>
<use href="#yc" x="1544.7" y="678.7"/>
<use href="#yc" x="1544.7" y="661.1"/>
<use href="#yc" x="1544.7" y="646.7"/>
<use href="#yc" x="1544.7" y="623.1"/>
<use href="#yc" x="1544.7" y="608.3"/>
<use href="#yc" x="1544.8" y="590.9"/>
<use href="#yc" x="1544.8" y="578.3"/>
<use href="#yc" x="1545.4" y="571.8"/>
<use href="#yc" x="1545.4" y="591.8"/>
<use href="#yc" x="1545.4" y="604.2"/>
<use href="#yc" x="1545.4" y="621.9"/>
<use href="#yc" x="1545.4" y="637.4"/>
<use href="#yc" x="1545.5" y="657.8"/>
<use href="#yc" x="1545.5" y="670.8"/>
<use href="#yc" x="1545.5" y="685.5"/>
<use href="#yc" x="1545.5" y="699.8"/>
<use href="#yc" x="1545.6" y="711.9"/>
<use href="#yc" x="1545.6" y="715.6"/>
<use href="#yc" x="1545.6" y="719.6"/>
<use href="#yc" x="1545.7" y="723"/>
<use href="#yc" x="1545.7" y="725.6"/>
<use href="#yc" x="1545.7" y="729"/>
<use href="#yc" x="1545.7" y="733.7"/>
<use href="#yc" x="1545.8" y="737.4"/>
<use href="#yc" x="1545.8" y="740.5"/>
<use href="#yc" x="1545.8" y="744.6"/>
<use href="#yc" x="1545.9" y="747.7"/>
<use href="#yc" x="1545.9" y="750.8"/>
<use href="#yc" x="1545.9" y="754.2"/>
<use href="#yc" x="1546.7" y="756.4"/>
<use href="#yc" x="1546.8" y="753.2"/>
<use href="#yc" x="1546.8" y="749.6"/>
<use href="#yc" x="1546.8" y="745.3"/>
<use href="#yc" x="1546.8" y="742"/>
<use href="#yc" x="1546.8" y="738.9"/>
<use href="#yc" x="1546.8" y="735.1"/>
<use href="#yc" x="1546.9" y="731.1"/>
<use href="#yc" x="1546.9" y="727.2"/>
<use href="#yc" x="1546.9" y="723.7"/>
<use href="#yc" x="1546.9" y="719.5"/>
<use href="#yc" x="1546.9" y="715.9"/>
<use href="#yc" x="1547" y="713.2"/>
<use href="#yc" x="1547" y="710.2"/>
<use href="#yc" x="1547" y="705.8"/>
<use href="#yc" x="1547" y="701.9"/>
<use href="#yc" x="1547.1" y="698.2"/>
<use href="#yc" x="1547.1" y="694.8"/>
<use href="#yc" x="1547.1" y="691.9"/>
<use href="#yc" x="1547.2" y="687.6"/>
<use href="#yc" x="1547.2" y="684.9"/>
<use href="#yc" x="1547.2" y="679.9"/>
<use href="#yc" x="1547.3" y="676.6"/>
<use href="#yc" x="1547.3" y="673.4"/>
<use href="#yc" x="1547.4" y="669.6"/>
<use href="#yc" x="1547.5" y="666.7"/>
<use href="#yc" x="1547.5" y="663.1"/>
<use href="#yc" x="1558.4" y="683.2"/>
<use href="#yc" x="1558.4" y="662.5"/>
<use href="#yc" x="1558.4" y="650.9"/>
<use href="#yc" x="1558.4" y="634.7"/>
<use href="#yc" x="1558.4" y="618.2"/>
<use href="#yc" x="1558.4" y="600.5"/>
<use href="#yc" x="1558.4" y="588"/>
<use href="#yc" x="1558.5" y="573.6"/>
<use href="#yc" x="1559.1" y="581"/>
<use href="#yc" x="1559.1" y="594.6"/>
<use href="#yc" x="1559.1" y="611.8"/>
<use href="#yc" x="1559.1" y="630.8"/>
<use href="#yc" x="1559.1" y="647.3"/>
<use href="#yc" x="1559.1" y="660.8"/>
<use href="#yc" x="1559.1" y="673.2"/>
<use href="#yc" x="1559.1" y="695"/>
<use href="#yc" x="1559.1" y="697.6"/>
<use href="#yc" x="1559.1" y="702"/>
<use href="#yc" x="1559.2" y="704.7"/>
<use href="#yc" x="1559.2" y="708.2"/>
<use href="#yc" x="1559.2" y="713.1"/>
<use href="#yc" x="1559.2" y="716.6"/>
<use href="#yc" x="1559.3" y="719.1"/>
<use href="#yc" x="1559.3" y="722.9"/>
<use href="#yc" x="1559.3" y="726.3"/>
<use href="#yc" x="1559.3" y="729.6"/>
<use href="#yc" x="1559.4" y="733.4"/>
<use href="#yc" x="1559.4" y="738.3"/>
<use href="#yc" x="1559.4" y="740.3"/>
<use href="#yc" x="1559.4" y="744.2"/>
<use href="#yc" x="1559.5" y="747.7"/>
<use href="#yc" x="1559.5" y="751.1"/>
<use href="#yc" x="1559.5" y="755.5"/>
<use href="#yc" x="1560.1" y="756.4"/>
<use href="#yc" x="1560.1" y="752.5"/>
<use href="#yc" x="1560.1" y="749.2"/>
<use href="#yc" x="1560.1" y="744.1"/>
<use href="#yc" x="1560.1" y="741"/>
<use href="#yc" x="1560.2" y="738.7"/>
<use href="#yc" x="1560.2" y="733.5"/>
<use href="#yc" x="1560.2" y="730.2"/>
<use href="#yc" x="1560.2" y="727"/>
<use href="#yc" x="1560.2" y="723"/>
<use href="#yc" x="1560.2" y="719.9"/>
<use href="#yc" x="1560.2" y="715.4"/>
<use href="#yc" x="1560.3" y="712.2"/>
<use href="#yc" x="1560.3" y="709.9"/>
<use href="#yc" x="1560.3" y="704.8"/>
<use href="#yc" x="1560.3" y="702.6"/>
<use href="#yc" x="1560.3" y="697.7"/>
<use href="#yc" x="1560.4" y="695.5"/>
<use href="#yc" x="1560.4" y="691.3"/>
<use href="#yc" x="1560.4" y="687.7"/>
<use href="#yc" x="1560.4" y="683.2"/>
<use href="#yc" x="1560.5" y="679.4"/>
<use href="#yc" x="1560.5" y="677.1"/>
<use href="#yc" x="1560.5" y="672.5"/>
<use href="#yc" x="1560.6" y="668.9"/>
<use href="#yc" x="1560.6" y="666.4"/>
<use href="#yc" x="1560.6" y="662.9"/>
<use href="#yc" x="1560.7" y="657.8"/>
<use href="#yc" x="1560.7" y="655.9"/>
<use href="#yc" x="1560.8" y="651.5"/>
<use href="#yc" x="1560.8" y="647.6"/>
<use href="#yc" x="1560.9" y="643.5"/>
<use href="#yc" x="1571.7" y="681.3"/>
<use href="#yc" x="1571.7" y="659.6"/>
<use href="#yc" x="1571.7" y="642.4"/>
<use href="#yc" x="1571.7" y="626.5"/>
<use href="#yc" x="1571.7" y="610.4"/>
<use href="#yc" x="1571.7" y="596.2"/>
<use href="#yc" x="1571.7" y="584.7"/>
<use href="#yc" x="1571.7" y="565.6"/>
<use href="#yc" x="1572.4" y="576.6"/>
<use href="#yc" x="1572.4" y="593"/>
<use href="#yc" x="1572.4" y="608.9"/>
<use href="#yc" x="1572.5" y="619"/>
<use href="#yc" x="1572.5" y="635.9"/>
<use href="#yc" x="1572.5" y="656.7"/>
<use href="#yc" x="1572.5" y="669"/>
<use href="#yc" x="1572.6" y="685.8"/>
<use href="#yc" x="1572.6" y="688.9"/>
<use href="#yc" x="1572.6" y="693.1"/>
<use href="#yc" x="1572.7" y="697.4"/>
<use href="#yc" x="1572.7" y="701"/>
<use href="#yc" x="1572.7" y="704.3"/>
<use href="#yc" x="1572.8" y="707.7"/>
<use href="#yc" x="1572.8" y="711.4"/>
<use href="#yc" x="1572.8" y="714.8"/>
<use href="#yc" x="1572.8" y="718.6"/>
<use href="#yc" x="1572.9" y="722.7"/>
<use href="#yc" x="1572.9" y="725.2"/>
<use href="#yc" x="1572.9" y="729.5"/>
<use href="#yc" x="1573" y="733.7"/>
<use href="#yc" x="1573" y="737.2"/>
<use href="#yc" x="1573" y="739.6"/>
<use href="#yc" x="1573.1" y="744.6"/>
<use href="#yc" x="1573.1" y="747.9"/>
<use href="#yc" x="1573.1" y="750.3"/>
<use href="#yc" x="1573.2" y="754.1"/>
<use href="#yc" x="1573.3" y="757.6"/>
<use href="#yc" x="1573.6" y="757.8"/>
<use href="#yc" x="1573.7" y="753.3"/>
<use href="#yc" x="1573.7" y="750.5"/>
<use href="#yc" x="1573.7" y="745.6"/>
<use href="#yc" x="1573.7" y="741.8"/>
<use href="#yc" x="1573.7" y="739.7"/>
<use href="#yc" x="1573.7" y="736"/>
<use href="#yc" x="1573.7" y="732.7"/>
<use href="#yc" x="1573.7" y="728.6"/>
<use href="#yc" x="1573.7" y="724.7"/>
<use href="#yc" x="1573.7" y="721.5"/>
<use href="#yc" x="1573.8" y="716.7"/>
<use href="#yc" x="1573.8" y="713.9"/>
<use href="#yc" x="1573.8" y="710.1"/>
<use href="#yc" x="1573.8" y="706"/>
<use href="#yc" x="1573.8" y="703.2"/>
<use href="#yc" x="1573.8" y="699.1"/>
<use href="#yc" x="1573.8" y="695.9"/>
<use href="#yc" x="1573.9" y="692"/>
<use href="#yc" x="1573.9" y="688.3"/>
<use href="#yc" x="1573.9" y="684.8"/>
<use href="#yc" x="1573.9" y="681.6"/>
<use href="#yc" x="1573.9" y="678.7"/>
<use href="#yc" x="1573.9" y="675"/>
<use href="#yc" x="1574" y="671.3"/>
<use href="#yc" x="1574" y="667.7"/>
<use href="#yc" x="1574" y="663.1"/>
<use href="#yc" x="1574" y="660.7"/>
<use href="#yc" x="1574.1" y="655.8"/>
<use href="#yc" x="1574.1" y="652"/>
<use href="#yc" x="1574.1" y="649.1"/>
<use href="#yc" x="1574.2" y="645.9"/>
<use href="#yc" x="1574.2" y="641.6"/>
<use href="#yc" x="1574.2" y="638.5"/>
<use href="#yc" x="1574.3" y="634.3"/>
<use href="#yc" x="1574.3" y="631.9"/>
<use href="#yc" x="1574.4" y="627.4"/>
<use href="#yc" x="1584.7" y="660.6"/>
<use href="#yc" x="1584.7" y="650.7"/>
<use href="#yc" x="1584.7" y="639.4"/>
<use href="#yc" x="1584.7" y="624.6"/>
<use href="#yc" x="1584.7" y="612.1"/>
<use href="#yc" x="1584.7" y="601.1"/>
<use href="#yc" x="1584.7" y="585.9"/>
<use href="#yc" x="1584.7" y="576"/>
<use href="#yc" x="1585.4" y="569.8"/>
<use href="#yc" x="1585.4" y="577.5"/>
<use href="#yc" x="1585.5" y="594.3"/>
<use href="#yc" x="1585.5" y="603.5"/>
<use href="#yc" x="1585.5" y="619.1"/>
<use href="#yc" x="1585.5" y="627.4"/>
<use href="#yc" x="1585.5" y="638.5"/>
<use href="#yc" x="1585.5" y="652.5"/>
<use href="#yc" x="1585.5" y="666.5"/>
<use href="#yc" x="1585.6" y="668.4"/>
<use href="#yc" x="1585.6" y="671.7"/>
<use href="#yc" x="1585.6" y="674.7"/>
<use href="#yc" x="1585.7" y="678.2"/>
<use href="#yc" x="1585.7" y="682.1"/>
<use href="#yc" x="1585.7" y="685.5"/>
<use href="#yc" x="1585.7" y="689.1"/>
<use href="#yc" x="1585.8" y="693.2"/>
<use href="#yc" x="1585.8" y="697.2"/>
<use href="#yc" x="1585.8" y="700.3"/>
<use href="#yc" x="1585.9" y="703.1"/>
<use href="#yc" x="1585.9" y="706.8"/>
<use href="#yc" x="1585.9" y="710.7"/>
<use href="#yc" x="1585.9" y="714.7"/>
<use href="#yc" x="1586" y="717.5"/>
<use href="#yc" x="1586" y="721"/>
<use href="#yc" x="1586" y="725"/>
<use href="#yc" x="1586.1" y="728.5"/>
<use href="#yc" x="1586.1" y="731.7"/>
<use href="#yc" x="1586.2" y="736.2"/>
<use href="#yc" x="1586.2" y="740.5"/>
<use href="#yc" x="1586.3" y="743.4"/>
<use href="#yc" x="1586.4" y="747.3"/>
<use href="#yc" x="1586.4" y="751.1"/>
<use href="#yc" x="1586.5" y="754.7"/>
<use href="#yc" x="1586.6" y="757.8"/>
<use href="#yc" x="1586.6" y="756.5"/>
<use href="#yc" x="1586.6" y="751.9"/>
<use href="#yc" x="1586.6" y="749.6"/>
<use href="#yc" x="1586.6" y="745.1"/>
<use href="#yc" x="1586.6" y="741.7"/>
<use href="#yc" x="1586.6" y="738.8"/>
<use href="#yc" x="1586.7" y="734.2"/>
<use href="#yc" x="1586.7" y="730.4"/>
<use href="#yc" x="1586.7" y="727.9"/>
<use href="#yc" x="1586.7" y="723.9"/>
<use href="#yc" x="1586.7" y="719.4"/>
<use href="#yc" x="1586.7" y="715.7"/>
<use href="#yc" x="1586.7" y="712.7"/>
<use href="#yc" x="1586.7" y="708.5"/>
<use href="#yc" x="1586.7" y="706.3"/>
<use href="#yc" x="1586.7" y="701.6"/>
<use href="#yc" x="1586.8" y="698.1"/>
<use href="#yc" x="1586.8" y="694.7"/>
<use href="#yc" x="1586.8" y="691.4"/>
<use href="#yc" x="1586.8" y="687.6"/>
<use href="#yc" x="1586.8" y="684.4"/>
<use href="#yc" x="1586.8" y="680.8"/>
<use href="#yc" x="1586.8" y="676.8"/>
<use href="#yc" x="1586.8" y="672.6"/>
<use href="#yc" x="1586.9" y="670.6"/>
<use href="#yc" x="1586.9" y="666.5"/>
<use href="#yc" x="1586.9" y="661.8"/>
<use href="#yc" x="1586.9" y="658.8"/>
<use href="#yc" x="1586.9" y="655.8"/>
<use href="#yc" x="1586.9" y="652.6"/>
<use href="#yc" x="1587" y="647.4"/>
<use href="#yc" x="1587" y="643.7"/>
<use href="#yc" x="1587" y="640.9"/>
<use href="#yc" x="1587" y="637.2"/>
<use href="#yc" x="1587.1" y="634.5"/>
<use href="#yc" x="1587.1" y="630.7"/>
<use href="#yc" x="1587.1" y="626.2"/>
<use href="#yc" x="1587.2" y="622.8"/>
<use href="#yc" x="1587.2" y="619.5"/>
<use href="#yc" x="1587.2" y="616.4"/>
<use href="#yc" x="1587.3" y="611.6"/>
<use href="#yc" x="1587.3" y="608.4"/>
<use href="#yc" x="1587.4" y="604.2"/>
<use href="#yc" x="1597.8" y="639.8"/>
<use href="#yc" x="1597.8" y="633.2"/>
<use href="#yc" x="1597.8" y="618.8"/>
<use href="#yc" x="1597.8" y="607.1"/>
<use href="#yc" x="1597.8" y="592.1"/>
<use href="#yc" x="1597.8" y="581"/>
<use href="#yc" x="1597.8" y="570.4"/>
<use href="#yc" x="1598.5" y="576.5"/>
<use href="#yc" x="1598.5" y="587"/>
<use href="#yc" x="1598.5" y="603.2"/>
<use href="#yc" x="1598.5" y="613.3"/>
<use href="#yc" x="1598.5" y="624.5"/>
<use href="#yc" x="1598.5" y="634.5"/>
<use href="#yc" x="1598.5" y="647.1"/>
<use href="#yc" x="1598.5" y="652.9"/>
<use href="#yc" x="1598.5" y="657.2"/>
<use href="#yc" x="1598.6" y="661"/>
<use href="#yc" x="1598.6" y="664.1"/>
<use href="#yc" x="1598.6" y="668.4"/>
<use href="#yc" x="1598.6" y="672.3"/>
<use href="#yc" x="1598.7" y="675.8"/>
<use href="#yc" x="1598.7" y="679.2"/>
<use href="#yc" x="1598.7" y="681.8"/>
<use href="#yc" x="1598.7" y="685.2"/>
<use href="#yc" x="1598.8" y="689.4"/>
<use href="#yc" x="1598.8" y="692.8"/>
<use href="#yc" x="1598.8" y="696.2"/>
<use href="#yc" x="1598.9" y="701"/>
<use href="#yc" x="1598.9" y="703.4"/>
<use href="#yc" x="1598.9" y="708.1"/>
<use href="#yc" x="1598.9" y="711.9"/>
<use href="#yc" x="1599" y="714.1"/>
<use href="#yc" x="1599" y="719.1"/>
<use href="#yc" x="1599" y="721.8"/>
<use href="#yc" x="1599.1" y="725"/>
<use href="#yc" x="1599.1" y="728.6"/>
<use href="#yc" x="1599.2" y="731.9"/>
<use href="#yc" x="1599.3" y="736.3"/>
<use href="#yc" x="1599.3" y="741.8"/>
<use href="#yc" x="1599.4" y="745.4"/>
<use href="#yc" x="1599.5" y="741.8"/>
<use href="#yc" x="1599.4" y="738.9"/>
<use href="#yc" x="1599.4" y="735.2"/>
<use href="#yc" x="1599.4" y="731.2"/>
<use href="#yc" x="1599.4" y="727.8"/>
<use href="#yc" x="1599.4" y="724.2"/>
<use href="#yc" x="1599.4" y="721.4"/>
<use href="#yc" x="1599.5" y="717.1"/>
<use href="#yc" x="1599.5" y="713.1"/>
<use href="#yc" x="1599.5" y="709.7"/>
<use href="#yc" x="1599.5" y="706.5"/>
<use href="#yc" x="1599.5" y="703.1"/>
<use href="#yc" x="1599.5" y="699"/>
<use href="#yc" x="1599.5" y="696.2"/>
<use href="#yc" x="1599.5" y="691.7"/>
<use href="#yc" x="1599.5" y="688.9"/>
<use href="#yc" x="1599.5" y="685.2"/>
<use href="#yc" x="1599.5" y="680.8"/>
<use href="#yc" x="1599.5" y="678.3"/>
<use href="#yc" x="1599.6" y="674"/>
<use href="#yc" x="1599.6" y="670.7"/>
<use href="#yc" x="1599.6" y="667.2"/>
<use href="#yc" x="1599.6" y="663.7"/>
<use href="#yc" x="1599.6" y="659.7"/>
<use href="#yc" x="1599.6" y="655.4"/>
<use href="#yc" x="1599.6" y="653.1"/>
<use href="#yc" x="1599.6" y="649.7"/>
<use href="#yc" x="1599.7" y="645.4"/>
<use href="#yc" x="1599.7" y="642"/>
<use href="#yc" x="1599.7" y="637.8"/>
<use href="#yc" x="1599.7" y="635.3"/>
<use href="#yc" x="1599.7" y="631.4"/>
<use href="#yc" x="1599.7" y="626.9"/>
<use href="#yc" x="1599.8" y="624.4"/>
<use href="#yc" x="1599.8" y="621.1"/>
<use href="#yc" x="1599.8" y="616.4"/>
<use href="#yc" x="1599.8" y="613.9"/>
<use href="#yc" x="1599.8" y="609.4"/>
<use href="#yc" x="1599.9" y="605.3"/>
<use href="#yc" x="1599.9" y="602.6"/>
<use href="#yc" x="1599.9" y="598.3"/>
<use href="#yc" x="1600" y="595.4"/>
<use href="#yc" x="1600" y="591.6"/>
<use href="#yc" x="1600.1" y="587.1"/>
<use href="#yc" x="1600.1" y="584.3"/>
<use href="#yc" x="1610" y="621.4"/>
<use href="#yc" x="1610" y="609.8"/>
<use href="#yc" x="1610" y="599.7"/>
<use href="#yc" x="1610" y="585.2"/>
<use href="#yc" x="1610" y="573.5"/>
<use href="#yc" x="1610.7" y="570.9"/>
<use href="#yc" x="1610.7" y="579.2"/>
<use href="#yc" x="1610.7" y="590.6"/>
<use href="#yc" x="1610.7" y="606.6"/>
<use href="#yc" x="1610.7" y="617.3"/>
<use href="#yc" x="1610.7" y="627.8"/>
<use href="#yc" x="1610.8" y="635.6"/>
<use href="#yc" x="1610.8" y="638.6"/>
<use href="#yc" x="1610.8" y="643"/>
<use href="#yc" x="1610.9" y="646.4"/>
<use href="#yc" x="1610.9" y="649.8"/>
<use href="#yc" x="1610.9" y="652.6"/>
<use href="#yc" x="1610.9" y="655.7"/>
<use href="#yc" x="1611" y="660.5"/>
<use href="#yc" x="1611" y="664.2"/>
<use href="#yc" x="1611" y="667.1"/>
<use href="#yc" x="1611" y="670.9"/>
<use href="#yc" x="1611.1" y="674.7"/>
<use href="#yc" x="1611.1" y="677.7"/>
<use href="#yc" x="1611.1" y="682.1"/>
<use href="#yc" x="1611.1" y="685.5"/>
<use href="#yc" x="1611.2" y="688.7"/>
<use href="#yc" x="1611.2" y="691.8"/>
<use href="#yc" x="1611.2" y="696.2"/>
<use href="#yc" x="1611.2" y="699.4"/>
<use href="#yc" x="1611.3" y="703.8"/>
<use href="#yc" x="1611.4" y="706.4"/>
<use href="#yc" x="1611.4" y="710.4"/>
<use href="#yc" x="1611.5" y="713.6"/>
<use href="#yc" x="1611.5" y="717.6"/>
<use href="#yc" x="1611.6" y="721.5"/>
<use href="#yc" x="1611.6" y="722.6"/>
<use href="#yc" x="1611.7" y="727"/>
<use href="#yc" x="1611.8" y="725.9"/>
<use href="#yc" x="1611.7" y="722.9"/>
<use href="#yc" x="1611.7" y="718.7"/>
<use href="#yc" x="1611.7" y="714.9"/>
<use href="#yc" x="1611.7" y="712.1"/>
<use href="#yc" x="1611.7" y="709.2"/>
<use href="#yc" x="1611.7" y="705.5"/>
<use href="#yc" x="1611.7" y="701.3"/>
<use href="#yc" x="1611.8" y="697.5"/>
<use href="#yc" x="1611.8" y="693.3"/>
<use href="#yc" x="1611.8" y="690.1"/>
<use href="#yc" x="1611.8" y="686.5"/>
<use href="#yc" x="1611.8" y="684.1"/>
<use href="#yc" x="1611.8" y="679"/>
<use href="#yc" x="1611.8" y="676.9"/>
<use href="#yc" x="1611.8" y="672.4"/>
<use href="#yc" x="1611.8" y="668.7"/>
<use href="#yc" x="1611.8" y="664.8"/>
<use href="#yc" x="1611.8" y="662.5"/>
<use href="#yc" x="1611.8" y="657.5"/>
<use href="#yc" x="1611.8" y="654.6"/>
<use href="#yc" x="1611.9" y="650.9"/>
<use href="#yc" x="1611.9" y="646.7"/>
<use href="#yc" x="1611.9" y="643.2"/>
<use href="#yc" x="1611.9" y="640.9"/>
<use href="#yc" x="1611.9" y="637"/>
<use href="#yc" x="1611.9" y="633.3"/>
<use href="#yc" x="1611.9" y="630"/>
<use href="#yc" x="1611.9" y="624.9"/>
<use href="#yc" x="1611.9" y="622.4"/>
<use href="#yc" x="1612" y="618.9"/>
<use href="#yc" x="1612" y="614.4"/>
<use href="#yc" x="1612" y="611.2"/>
<use href="#yc" x="1612" y="608.5"/>
<use href="#yc" x="1612" y="603.7"/>
<use href="#yc" x="1612" y="600.9"/>
<use href="#yc" x="1612.1" y="596.3"/>
<use href="#yc" x="1612.1" y="593.6"/>
<use href="#yc" x="1612.1" y="589.2"/>
<use href="#yc" x="1612.1" y="586.1"/>
<use href="#yc" x="1612.1" y="582.2"/>
<use href="#yc" x="1612.2" y="579.5"/>
<use href="#yc" x="1612.2" y="575.7"/>
<use href="#yc" x="1612.2" y="571.7"/>
<use href="#yc" x="1612.3" y="568.4"/>
<use href="#yc" x="1622.2" y="609.3"/>
<use href="#yc" x="1622.2" y="594"/>
<use href="#yc" x="1622.2" y="583.8"/>
<use href="#yc" x="1622.2" y="572"/>
<use href="#yc" x="1622.8" y="571.9"/>
<use href="#yc" x="1622.8" y="584.7"/>
<use href="#yc" x="1622.8" y="599.5"/>
<use href="#yc" x="1622.8" y="608.9"/>
<use href="#yc" x="1622.8" y="615.4"/>
<use href="#yc" x="1622.8" y="619.8"/>
<use href="#yc" x="1622.9" y="623.2"/>
<use href="#yc" x="1622.9" y="626.6"/>
<use href="#yc" x="1622.9" y="629.5"/>
<use href="#yc" x="1622.9" y="632.5"/>
<use href="#yc" x="1622.9" y="637.1"/>
<use href="#yc" x="1623" y="641"/>
<use href="#yc" x="1623" y="644.9"/>
<use href="#yc" x="1623" y="647.2"/>
<use href="#yc" x="1623" y="650.7"/>
<use href="#yc" x="1623.1" y="655.8"/>
<use href="#yc" x="1623.1" y="659"/>
<use href="#yc" x="1623.1" y="662.1"/>
<use href="#yc" x="1623.1" y="666.2"/>
<use href="#yc" x="1623.1" y="668.7"/>
<use href="#yc" x="1623.2" y="673"/>
<use href="#yc" x="1623.2" y="676.9"/>
<use href="#yc" x="1623.2" y="680.3"/>
<use href="#yc" x="1623.2" y="683.1"/>
<use href="#yc" x="1623.3" y="686.7"/>
<use href="#yc" x="1623.3" y="691.2"/>
<use href="#yc" x="1623.4" y="695.3"/>
<use href="#yc" x="1623.4" y="697.5"/>
<use href="#yc" x="1623.5" y="700.9"/>
<use href="#yc" x="1623.5" y="705.8"/>
<use href="#yc" x="1623.6" y="708.7"/>
<use href="#yc" x="1623.7" y="708"/>
<use href="#yc" x="1623.6" y="705.3"/>
<use href="#yc" x="1623.6" y="701"/>
<use href="#yc" x="1623.6" y="696.8"/>
<use href="#yc" x="1623.6" y="694"/>
<use href="#yc" x="1623.6" y="689.2"/>
<use href="#yc" x="1623.6" y="686.1"/>
<use href="#yc" x="1623.6" y="683.2"/>
<use href="#yc" x="1623.6" y="678.7"/>
<use href="#yc" x="1623.7" y="674.8"/>
<use href="#yc" x="1623.7" y="672.1"/>
<use href="#yc" x="1623.7" y="668.1"/>
<use href="#yc" x="1623.7" y="665.7"/>
<use href="#yc" x="1623.7" y="660.5"/>
<use href="#yc" x="1623.7" y="658.2"/>
<use href="#yc" x="1623.7" y="653.8"/>
<use href="#yc" x="1623.7" y="651"/>
<use href="#yc" x="1623.7" y="646.8"/>
<use href="#yc" x="1623.7" y="643.6"/>
<use href="#yc" x="1623.7" y="639.3"/>
<use href="#yc" x="1623.7" y="635.6"/>
<use href="#yc" x="1623.7" y="632.4"/>
<use href="#yc" x="1623.7" y="629.4"/>
<use href="#yc" x="1623.8" y="625"/>
<use href="#yc" x="1623.8" y="621.2"/>
<use href="#yc" x="1623.8" y="617.9"/>
<use href="#yc" x="1623.8" y="613.7"/>
<use href="#yc" x="1623.8" y="610.5"/>
<use href="#yc" x="1623.8" y="607.4"/>
<use href="#yc" x="1623.8" y="603.7"/>
<use href="#yc" x="1623.8" y="600.2"/>
<use href="#yc" x="1623.8" y="596.1"/>
<use href="#yc" x="1623.8" y="592"/>
<use href="#yc" x="1623.9" y="588.4"/>
<use href="#yc" x="1623.9" y="585.4"/>
<use href="#yc" x="1623.9" y="581.5"/>
<use href="#yc" x="1623.9" y="578.6"/>
<use href="#yc" x="1623.9" y="574.4"/>
<use href="#yc" x="1623.9" y="571.7"/>
<use href="#yc" x="1623.9" y="567.8"/>
<use href="#yc" x="1634.1" y="583.5"/>
<use href="#yc" x="1634.1" y="570.2"/>
<use href="#yc" x="1634.7" y="570"/>
<use href="#yc" x="1634.7" y="580.5"/>
<use href="#yc" x="1634.7" y="592.9"/>
<use href="#yc" x="1634.7" y="595.8"/>
<use href="#yc" x="1634.8" y="600.8"/>
<use href="#yc" x="1634.8" y="603.8"/>
<use href="#yc" x="1634.8" y="607.5"/>
<use href="#yc" x="1634.8" y="610.8"/>
<use href="#yc" x="1634.8" y="613.8"/>
<use href="#yc" x="1634.9" y="619"/>
<use href="#yc" x="1634.9" y="621.1"/>
<use href="#yc" x="1634.9" y="625"/>
<use href="#yc" x="1634.9" y="629.8"/>
<use href="#yc" x="1635" y="631.8"/>
<use href="#yc" x="1635" y="636.1"/>
<use href="#yc" x="1635" y="639.6"/>
<use href="#yc" x="1635" y="642.8"/>
<use href="#yc" x="1635" y="647.6"/>
<use href="#yc" x="1635.1" y="650.3"/>
<use href="#yc" x="1635.1" y="653.2"/>
<use href="#yc" x="1635.1" y="657.6"/>
<use href="#yc" x="1635.1" y="660.4"/>
<use href="#yc" x="1635.2" y="665.3"/>
<use href="#yc" x="1635.2" y="669.1"/>
<use href="#yc" x="1635.3" y="672.8"/>
<use href="#yc" x="1635.3" y="674.9"/>
<use href="#yc" x="1635.4" y="679.6"/>
<use href="#yc" x="1635.4" y="682.5"/>
<use href="#yc" x="1635.5" y="685.3"/>
<use href="#yc" x="1635.6" y="688.5"/>
<use href="#yc" x="1635.6" y="684.6"/>
<use href="#yc" x="1635.5" y="681.9"/>
<use href="#yc" x="1635.5" y="677.4"/>
<use href="#yc" x="1635.5" y="675.3"/>
<use href="#yc" x="1635.5" y="670.1"/>
<use href="#yc" x="1635.5" y="668.1"/>
<use href="#yc" x="1635.5" y="663.1"/>
<use href="#yc" x="1635.5" y="659.4"/>
<use href="#yc" x="1635.5" y="656.9"/>
<use href="#yc" x="1635.5" y="653"/>
<use href="#yc" x="1635.6" y="649.8"/>
<use href="#yc" x="1635.6" y="645.7"/>
<use href="#yc" x="1635.6" y="642.3"/>
<use href="#yc" x="1635.6" y="637.7"/>
<use href="#yc" x="1635.6" y="635.2"/>
<use href="#yc" x="1635.6" y="631.3"/>
<use href="#yc" x="1635.6" y="628.5"/>
<use href="#yc" x="1635.6" y="623.2"/>
<use href="#yc" x="1635.6" y="619.7"/>
<use href="#yc" x="1635.6" y="617.2"/>
<use href="#yc" x="1635.6" y="614.1"/>
<use href="#yc" x="1635.6" y="609.6"/>
<use href="#yc" x="1635.6" y="606.5"/>
<use href="#yc" x="1635.6" y="602.6"/>
<use href="#yc" x="1635.6" y="598.7"/>
<use href="#yc" x="1635.6" y="595.2"/>
<use href="#yc" x="1635.7" y="591.9"/>
<use href="#yc" x="1635.7" y="587.3"/>
<use href="#yc" x="1635.7" y="584.2"/>
<use href="#yc" x="1635.7" y="581.3"/>
<use href="#yc" x="1635.7" y="576.9"/>
<use href="#yc" x="1635.7" y="573.7"/>
<use href="#yc" x="1635.7" y="569.7"/>
<use href="#yc" x="1635.7" y="566.2"/>
<use href="#yc" x="1646.1" y="566.4"/>
<use href="#yc" x="1646.1" y="569.5"/>
<use href="#yc" x="1646.2" y="573.4"/>
<use href="#yc" x="1646.2" y="576.5"/>
<use href="#yc" x="1646.2" y="580.4"/>
<use href="#yc" x="1646.2" y="584.6"/>
<use href="#yc" x="1646.3" y="588.3"/>
<use href="#yc" x="1646.3" y="591.2"/>
<use href="#yc" x="1646.3" y="594.7"/>
<use href="#yc" x="1646.3" y="598.1"/>
<use href="#yc" x="1646.4" y="601.9"/>
<use href="#yc" x="1646.4" y="606.1"/>
<use href="#yc" x="1646.4" y="609.2"/>
<use href="#yc" x="1646.4" y="614"/>
<use href="#yc" x="1646.5" y="617"/>
<use href="#yc" x="1646.5" y="620.2"/>
<use href="#yc" x="1646.5" y="623.9"/>
<use href="#yc" x="1646.5" y="626.8"/>
<use href="#yc" x="1646.5" y="631.7"/>
<use href="#yc" x="1646.6" y="635.3"/>
<use href="#yc" x="1646.6" y="638.2"/>
<use href="#yc" x="1646.7" y="642.5"/>
<use href="#yc" x="1646.7" y="645.3"/>
<use href="#yc" x="1646.8" y="648.8"/>
<use href="#yc" x="1646.8" y="652.4"/>
<use href="#yc" x="1646.9" y="655.9"/>
<use href="#yc" x="1647" y="662.1"/>
<use href="#yc" x="1647.1" y="665.9"/>
<use href="#yc" x="1647" y="661.3"/>
<use href="#yc" x="1647" y="658.9"/>
<use href="#yc" x="1647" y="654.8"/>
<use href="#yc" x="1647" y="651"/>
<use href="#yc" x="1647" y="647.7"/>
<use href="#yc" x="1647" y="643.9"/>
<use href="#yc" x="1647" y="639.9"/>
<use href="#yc" x="1647" y="636.7"/>
<use href="#yc" x="1647" y="633.5"/>
<use href="#yc" x="1647" y="630"/>
<use href="#yc" x="1647" y="626.8"/>
<use href="#yc" x="1647" y="621.9"/>
<use href="#yc" x="1647.1" y="619.6"/>
<use href="#yc" x="1647.1" y="615.8"/>
<use href="#yc" x="1647.1" y="612"/>
<use href="#yc" x="1647.1" y="608.9"/>
<use href="#yc" x="1647.1" y="603.8"/>
<use href="#yc" x="1647.1" y="601.4"/>
<use href="#yc" x="1647.1" y="598"/>
<use href="#yc" x="1647.1" y="593"/>
<use href="#yc" x="1647.1" y="590.2"/>
<use href="#yc" x="1647.1" y="587.3"/>
<use href="#yc" x="1647.1" y="582.5"/>
<use href="#yc" x="1647.1" y="579.9"/>
<use href="#yc" x="1647.1" y="576.4"/>
<use href="#yc" x="1647.1" y="571.9"/>
<use href="#yc" x="1647.1" y="567.8"/>
<use href="#yc" x="1657.7" y="565.6"/>
<use href="#yc" x="1657.7" y="569.1"/>
<use href="#yc" x="1657.7" y="573.6"/>
<use href="#yc" x="1657.7" y="576"/>
<use href="#yc" x="1657.8" y="579.1"/>
<use href="#yc" x="1657.8" y="584.4"/>
<use href="#yc" x="1657.8" y="586.9"/>
<use href="#yc" x="1657.8" y="590.6"/>
<use href="#yc" x="1657.9" y="595.3"/>
<use href="#yc" x="1657.9" y="597.6"/>
<use href="#yc" x="1657.9" y="600.9"/>
<use href="#yc" x="1657.9" y="605.9"/>
<use href="#yc" x="1658" y="608.3"/>
<use href="#yc" x="1658" y="611.9"/>
<use href="#yc" x="1658.1" y="616.8"/>
<use href="#yc" x="1658.1" y="619.1"/>
<use href="#yc" x="1658.2" y="623.9"/>
<use href="#yc" x="1658.2" y="626.5"/>
<use href="#yc" x="1658.3" y="630"/>
<use href="#yc" x="1658.3" y="633.7"/>
<use href="#yc" x="1658.4" y="637.3"/>
<use href="#yc" x="1658.5" y="635.6"/>
<use href="#yc" x="1658.4" y="632.2"/>
<use href="#yc" x="1658.4" y="628.2"/>
<use href="#yc" x="1658.4" y="625.6"/>
<use href="#yc" x="1658.4" y="622.2"/>
<use href="#yc" x="1658.4" y="618.3"/>
<use href="#yc" x="1658.4" y="614.8"/>
<use href="#yc" x="1658.4" y="609.8"/>
<use href="#yc" x="1658.4" y="606.6"/>
<use href="#yc" x="1658.4" y="602.9"/>
<use href="#yc" x="1658.4" y="599.2"/>
<use href="#yc" x="1658.4" y="597"/>
<use href="#yc" x="1658.4" y="593.3"/>
<use href="#yc" x="1658.4" y="589.7"/>
<use href="#yc" x="1658.5" y="585.5"/>
<use href="#yc" x="1658.5" y="581.1"/>
<use href="#yc" x="1658.5" y="578.1"/>
<use href="#yc" x="1658.5" y="573.8"/>
<use href="#yc" x="1658.5" y="571.7"/>
<use href="#yc" x="1658.5" y="567"/>
<use href="#yc" x="1669.4" y="567"/>
<use href="#yc" x="1669.4" y="569.5"/>
<use href="#yc" x="1669.4" y="573.7"/>
<use href="#yc" x="1669.4" y="576.3"/>
<use href="#yc" x="1669.4" y="581.4"/>
<use href="#yc" x="1669.4" y="584.1"/>
<use href="#yc" x="1669.5" y="587.6"/>
<use href="#yc" x="1669.5" y="591.7"/>
<use href="#yc" x="1669.5" y="595.2"/>
<use href="#yc" x="1669.5" y="598.2"/>
<use href="#yc" x="1669.6" y="601.6"/>
<use href="#yc" x="1669.6" y="604.2"/>
<use href="#yc" x="1669.7" y="608.2"/>
<use href="#yc" x="1669.7" y="603.7"/>
<use href="#yc" x="1669.6" y="599.8"/>
<use href="#yc" x="1669.6" y="596.5"/>
<use href="#yc" x="1669.6" y="592.5"/>
<use href="#yc" x="1669.6" y="589.2"/>
<use href="#yc" x="1669.6" y="586.1"/>
<use href="#yc" x="1669.6" y="582.2"/>
<use href="#yc" x="1669.6" y="578.5"/>
<use href="#yc" x="1669.6" y="574.8"/>
<use href="#yc" x="1669.6" y="571.5"/>
<use href="#yc" x="1669.6" y="568.5"/>
<use href="#yc" x="942.3" y="757.3"/>
<use href="#yc" x="941.9" y="753.3"/>
<use href="#yc" x="982.4" y="757.3"/>
<use href="#yc" x="982" y="753.3"/>
<use href="#yc" x="1021.2" y="757.3"/>
<use href="#yc" x="1020.8" y="753.3"/>
<use href="#yc" x="1185.5" y="757.3"/>
<use href="#yc" x="1185.1" y="753.3"/>
<use href="#yc" x="1239.7" y="757.3"/>
<use href="#yc" x="1239.3" y="753.3"/>
<use href="#yc" x="1239.3" y="566.1"/>
<use href="#yc" x="1239.4" y="571.1"/>
<use href="#yc" x="1265.8" y="757.3"/>
<use href="#yc" x="1265.4" y="753.3"/>
<use href="#yc" x="1265.4" y="566.1"/>
<use href="#yc" x="1265.5" y="571.1"/>
<use href="#yc" x="1289.9" y="757.3"/>
<use href="#yc" x="1289.5" y="753.3"/>
<use href="#yc" x="1289.5" y="566.1"/>
<use href="#yc" x="1289.6" y="571.1"/>
<use href="#yc" x="1313.4" y="757.3"/>
<use href="#yc" x="1313" y="753.3"/>
<use href="#yc" x="1313" y="566.1"/>
<use href="#yc" x="1313.1" y="571.1"/>
<use href="#yc" x="1336" y="757.3"/>
<use href="#yc" x="1335.6" y="753.3"/>
<use href="#yc" x="1335.6" y="566.1"/>
<use href="#yc" x="1335.7" y="571.1"/>
<use href="#yc" x="1356.8" y="757.3"/>
<use href="#yc" x="1356.4" y="753.3"/>
<use href="#yc" x="1356.4" y="566.1"/>
<use href="#yc" x="1356.5" y="571.1"/>
<use href="#yc" x="1377.1" y="757.3"/>
<use href="#yc" x="1376.7" y="753.3"/>
<use href="#yc" x="1376.7" y="566.1"/>
<use href="#yc" x="1376.8" y="571.1"/>
<use href="#yc" x="1397" y="757.3"/>
<use href="#yc" x="1396.6" y="753.3"/>
<use href="#yc" x="1396.6" y="566.1"/>
<use href="#yc" x="1396.7" y="571.1"/>
<use href="#yc" x="1416.2" y="757.3"/>
<use href="#yc" x="1415.8" y="753.3"/>
<use href="#yc" x="1415.8" y="566.1"/>
<use href="#yc" x="1415.9" y="571.1"/>
<use href="#yc" x="1434.4" y="757.3"/>
<use href="#yc" x="1434" y="753.3"/>
<use href="#yc" x="1434" y="566.1"/>
<use href="#yc" x="1434.1" y="571.1"/>
<use href="#yc" x="1452.2" y="757.3"/>
<use href="#yc" x="1451.8" y="753.3"/>
<use href="#yc" x="1451.8" y="566.1"/>
<use href="#yc" x="1451.9" y="571.1"/>
<use href="#yc" x="1469.2" y="757.3"/>
<use href="#yc" x="1468.8" y="753.3"/>
<use href="#yc" x="1468.8" y="566.1"/>
<use href="#yc" x="1468.9" y="571.1"/>
<use href="#yc" x="1485.2" y="757.3"/>
<use href="#yc" x="1484.8" y="753.3"/>
<use href="#yc" x="1484.8" y="566.1"/>
<use href="#yc" x="1484.9" y="571.1"/>
<use href="#yc" x="1500.7" y="757.3"/>
<use href="#yc" x="1500.3" y="753.3"/>
<use href="#yc" x="1500.3" y="566.1"/>
<use href="#yc" x="1500.4" y="571.1"/>
<use href="#yc" x="1516.4" y="757.3"/>
<use href="#yc" x="1516" y="753.3"/>
<use href="#yc" x="1516" y="566.1"/>
<use href="#yc" x="1516.1" y="571.1"/>
<use href="#yc" x="1531.2" y="757.3"/>
<use href="#yc" x="1530.8" y="753.3"/>
<use href="#yc" x="1530.8" y="566.1"/>
<use href="#yc" x="1530.9" y="571.1"/>
<use href="#yc" x="1545.4" y="757.3"/>
<use href="#yc" x="1545" y="753.3"/>
<use href="#yc" x="1545" y="566.1"/>
<use href="#yc" x="1545.1" y="571.1"/>
<use href="#yc" x="1559.1" y="757.3"/>
<use href="#yc" x="1558.7" y="753.3"/>
<use href="#yc" x="1558.7" y="566.1"/>
<use href="#yc" x="1558.8" y="571.1"/>
<use href="#yc" x="1572.4" y="757.3"/>
<use href="#yc" x="1572" y="753.3"/>
<use href="#yc" x="1572" y="566.1"/>
<use href="#yc" x="1572.1" y="571.1"/>
<use href="#yc" x="897.8" y="751.5"/>
<use href="#yc" x="898" y="753.5"/>
<use href="#yc" x="897.8" y="749.8"/>
<use href="#yc" x="898.2" y="756.5"/>
<use href="#yc" x="898" y="752"/>
<use href="#yc" x="1155.3" y="606.5"/>
<use href="#yc" x="1155.3" y="611"/>
<use href="#yc" x="1213.3" y="566.7"/>
<use href="#yc" x="1213.3" y="575.3"/>
<use href="#yc" x="1213.3" y="589.3"/>
<use href="#yc" x="1213.3" y="605.3"/>
<use href="#yc" x="1213.3" y="570.5"/>
</g>
<line x1="1057.5" x2="1057.6" y1="624.5" y2="634" stroke="#008000" stroke-width="12.4" stroke-linecap="round"/>
<line x1="1057.7" x2="1058.4" y1="655" y2="757" stroke="#008000" stroke-width="12.4" stroke-linecap="round"/>
<circle cx="1057.7" cy="633.5" r="6.2" fill="#008000" fill-opacity="0.5"/>
<circle cx="1057.7" cy="638.5" r="6.2" fill="#008000" fill-opacity="0.5"/>
<circle cx="1057.7" cy="643.5" r="6.2" fill="#008000" fill-opacity="0.5"/>
<circle cx="1057.7" cy="648.5" r="6.2" fill="#008000" fill-opacity="0.5"/>
<circle cx="1057.7" cy="653" r="6.2" fill="#008000" fill-opacity="0.5"/>
<circle cx="1057.7" cy="657" r="6.2" fill="#008000" fill-opacity="0.5"/>
<line x1="1092.4" x2="1092.5" y1="624.5" y2="634" stroke="#008000" stroke-width="12.4" stroke-linecap="round"/>
<line x1="1092.6" x2="1093.3" y1="655" y2="757" stroke="#008000" stroke-width="12.4" stroke-linecap="round"/>
<circle cx="1092.6" cy="633.5" r="6.2" fill="#008000" fill-opacity="0.5"/>
<circle cx="1092.6" cy="638.5" r="6.2" fill="#008000" fill-opacity="0.5"/>
<circle cx="1092.6" cy="643.5" r="6.2" fill="#008000" fill-opacity="0.5"/>
<circle cx="1092.6" cy="648.5" r="6.2" fill="#008000" fill-opacity="0.5"/>
<circle cx="1092.6" cy="653" r="6.2" fill="#008000" fill-opacity="0.5"/>
<circle cx="1092.6" cy="657" r="6.2" fill="#008000" fill-opacity="0.5"/>
<line x1="1124.7" x2="1124.8" y1="624.5" y2="634" stroke="#008000" stroke-width="12.4" stroke-linecap="round"/>
<line x1="1124.9" x2="1125.6" y1="655" y2="757" stroke="#008000" stroke-width="12.4" stroke-linecap="round"/>
<circle cx="1124.9" cy="633.5" r="6.2" fill="#008000" fill-opacity="0.5"/>
<circle cx="1124.9" cy="638.5" r="6.2" fill="#008000" fill-opacity="0.5"/>
<circle cx="1124.9" cy="643.5" r="6.2" fill="#008000" fill-opacity="0.5"/>
<circle cx="1124.9" cy="648.5" r="6.2" fill="#008000" fill-opacity="0.5"/>
<circle cx="1124.9" cy="653" r="6.2" fill="#008000" fill-opacity="0.5"/>
<circle cx="1124.9" cy="657" r="6.2" fill="#008000" fill-opacity="0.5"/>
<line x1="1155.7" x2="1155.8" y1="624.5" y2="634" stroke="#008000" stroke-width="12.4" stroke-linecap="round"/>
<line x1="1155.9" x2="1156.6" y1="655" y2="757" stroke="#008000" stroke-width="12.4" stroke-linecap="round"/>
<circle cx="1155.9" cy="633.5" r="6.2" fill="#008000" fill-opacity="0.5"/>
<circle cx="1155.9" cy="638.5" r="6.2" fill="#008000" fill-opacity="0.5"/>
<circle cx="1155.9" cy="643.5" r="6.2" fill="#008000" fill-opacity="0.5"/>
<circle cx="1155.9" cy="648.5" r="6.2" fill="#008000" fill-opacity="0.5"/>
<circle cx="1155.9" cy="653" r="6.2" fill="#008000" fill-opacity="0.5"/>
<circle cx="1155.9" cy="657" r="6.2" fill="#008000" fill-opacity="0.5"/>
<line x1="1213.4" x2="1213.5" y1="622.5" y2="634" stroke="#008000" stroke-width="12.4" stroke-linecap="round"/>
<line x1="1213.6" x2="1214.3" y1="655" y2="757" stroke="#008000" stroke-width="12.4" stroke-linecap="round"/>
<circle cx="1213.6" cy="633.5" r="6.2" fill="#008000" fill-opacity="0.5"/>
<circle cx="1213.6" cy="638.5" r="6.2" fill="#008000" fill-opacity="0.5"/>
<circle cx="1213.6" cy="643.5" r="6.2" fill="#008000" fill-opacity="0.5"/>
<circle cx="1213.6" cy="648.5" r="6.2" fill="#008000" fill-opacity="0.5"/>
<circle cx="1213.6" cy="653" r="6.2" fill="#008000" fill-opacity="0.5"/>
<circle cx="1213.6" cy="657" r="6.2" fill="#008000" fill-opacity="0.5"/>
</g>
<g font-size="16" style="opacity:0.999">
<text transform="translate(395.5 954.5) rotate(-80)">n=1</text>
<text transform="translate(461.9 923.5) rotate(-80)">n=2</text>
<text transform="translate(527.5 897) rotate(-80)">n=3</text>
<text transform="translate(591.5 874.8) rotate(-80)">n=4</text>
<text transform="translate(652.9 852.1) rotate(-80)">n=5</text>
<text transform="translate(710.5 830.9) rotate(-80)">n=6</text>
<text transform="translate(764.9 811.9) rotate(-80)">n=7</text>
<text transform="translate(816.5 791.2) rotate(-80)">n=8</text>
<text transform="translate(865.5 772.3) rotate(-80)">n=9</text>
<text transform="translate(910.9 754.5) rotate(-80)">n=10</text>
<text transform="translate(953.4 734.5) rotate(-80)">n=11</text>
<text transform="translate(994.5 714.5) rotate(-80)">n=12</text>
<text transform="translate(1033.3 694.5) rotate(-80)">n=13</text>
<text transform="translate(1069.5 676.2) rotate(-80)">n=14</text>
<text transform="translate(1104.4 656.2) rotate(-80)">n=15</text>
<text transform="translate(1136.7 634.6) rotate(-80)">n=16</text>
<text transform="translate(1167.7 612.6) rotate(-80)">n=17</text>
<text transform="translate(1197.6 591.2) rotate(-80)">n=18</text>
<text transform="translate(1225.4 571.3) rotate(-80)">n=19</text>
<text transform="translate(1251.8 547.7) rotate(-80)">n=20</text>
<text transform="translate(1277.9 525.1) rotate(-80)">n=21</text>
<text transform="translate(1302 501) rotate(-80)">n=22</text>
<text transform="translate(1325.5 478.3) rotate(-80)">n=23</text>
<text transform="translate(1348.1 455.1) rotate(-80)">n=24</text>
<text transform="translate(1368.9 430.5) rotate(-80)">n=25</text>
<text transform="translate(1389.2 405.1) rotate(-80)">n=26</text>
<text transform="translate(1409.1 375.3) rotate(-80)">n=27</text>
<text transform="translate(1428.3 349.2) rotate(-80)">n=28</text>
<text transform="translate(1446.5 317.2) rotate(-80)">n=29</text>
<text transform="translate(1464.3 287.5) rotate(-80)">n=30</text>
<text transform="translate(1481.3 256.9) rotate(-80)">n=31</text>
<text transform="translate(1497.3 218.5) rotate(-80)">n=32</text>
<text transform="translate(1512.8 181.2) rotate(-80)">n=33</text>
</g>
<rect x="250.5" y="144.5" width="1550" height="924" fill="none" stroke="#000" stroke-width="1.1"/>
<path d="M282 1068.5 V1084.9 M496 1068.5 V1084.9 M711 1068.5 V1084.9 M925 1068.5 V1084.9 M1140 1068.5 V1084.9 M1354 1068.5 V1084.9 M1569 1068.5 V1084.9 M1783 1068.5 V1084.9 M250.5 905 H233.2 M250.5 714 H233.2 M250.5 524 H233.2 M250.5 334 H233.2 M250.5 144 H233.2" stroke="#000" stroke-width="6" fill="none"/>
<path d="M325 1068.5 V1078.8 M368 1068.5 V1078.8 M411 1068.5 V1078.8 M454 1068.5 V1078.8 M539 1068.5 V1078.8 M582 1068.5 V1078.8 M625 1068.5 V1078.8 M668 1068.5 V1078.8 M754 1068.5 V1078.8 M797 1068.5 V1078.8 M840 1068.5 V1078.8 M882 1068.5 V1078.8 M968 1068.5 V1078.8 M1011 1068.5 V1078.8 M1054 1068.5 V1078.8 M1097 1068.5 V1078.8 M1183 1068.5 V1078.8 M1225 1068.5 V1078.8 M1268 1068.5 V1078.8 M1311 1068.5 V1078.8 M1397 1068.5 V1078.8 M1440 1068.5 V1078.8 M1483 1068.5 V1078.8 M1526 1068.5 V1078.8 M1611 1068.5 V1078.8 M1654 1068.5 V1078.8 M1697 1068.5 V1078.8 M1740 1068.5 V1078.8 M250.5 1047 H239.2 M250.5 1000 H239.2 M250.5 952 H239.2 M250.5 857 H239.2 M250.5 809 H239.2 M250.5 762 H239.2 M250.5 667 H239.2 M250.5 619 H239.2 M250.5 572 H239.2 M250.5 477 H239.2 M250.5 429 H239.2 M250.5 382 H239.2 M250.5 287 H239.2 M250.5 239 H239.2 M250.5 192 H239.2" stroke="#000" stroke-width="6" fill="none"/>
<g font-size="34.72" letter-spacing="0.92">
<text x="282.5" y="1116.8" text-anchor="middle">319.75</text>
<text x="496.9" y="1116.8" text-anchor="middle">320.00</text>
<text x="711.4" y="1116.8" text-anchor="middle">320.25</text>
<text x="925.8" y="1116.8" text-anchor="middle">320.50</text>
<text x="1140.2" y="1116.8" text-anchor="middle">320.75</text>
<text x="1354.7" y="1116.8" text-anchor="middle">321.00</text>
<text x="1569.1" y="1116.8" text-anchor="middle">321.25</text>
<text x="1783.5" y="1116.8" text-anchor="middle">321.50</text>
<text x="229.3" y="918.6" text-anchor="end">200</text>
<text x="229.3" y="727.6" text-anchor="end">400</text>
<text x="229.3" y="537.6" text-anchor="end">600</text>
<text x="229.3" y="347.6" text-anchor="end">800</text>
<text x="229.3" y="157.6" text-anchor="end">1000</text>
</g>
<text x="1025" y="1171.3" font-size="55.56" text-anchor="middle">Age (Myr)</text>
<text transform="translate(118.4 606.5) rotate(-90)" font-size="55.56" text-anchor="middle">FM period (days)</text>
<rect x="263.7" y="157.3" width="534.6" height="290.7" rx="4" ry="4" fill="#fff" fill-opacity="0.8" stroke="#ccc" stroke-opacity="0.8" stroke-width="1.4"/>
<line x1="272.90000000000003" x2="323.05" y1="177" y2="177" stroke="#000" stroke-width="2.08" stroke-linecap="square"/>
<circle cx="298.5" cy="177" r="2.1" fill="#000"/>
<line x1="272.90000000000003" x2="323.05" y1="214" y2="214" stroke="#0000ff" stroke-width="4.17" stroke-linecap="square"/>
<line x1="272.90000000000003" x2="323.05" y1="250.8" y2="250.8" stroke="#008000" stroke-width="4.17" stroke-linecap="square"/>
<line x1="272.90000000000003" x2="323.05" y1="286.8" y2="286.8" stroke="#ffa500" stroke-width="2.08" stroke-linecap="square"/>
<circle cx="298.5" cy="324.5" r="4.3" fill="#90ee90"/>
<line x1="272.90000000000003" x2="323.05" y1="359.8" y2="359.8" stroke="#ff0000" stroke-width="2.08" stroke-linecap="square"/>
<polygon points="298.5,339.2 303.2,353.6 318.3,353.6 306.1,362.5 310.7,376.8 298.5,367.9 286.3,376.8 290.9,362.5 278.7,353.6 293.8,353.6" fill="#ff0000" stroke="#ff0000" stroke-width="1.2" stroke-linejoin="miter"/>
<g transform="translate(298.5 413.5)"><circle r="6.95" fill="#ffff00" fill-opacity="0.25"/><circle r="6.95" fill="none" stroke="#ffff00" stroke-opacity="0.25" stroke-width="1.4"/></g>
<g font-size="24">
<text x="341.3" y="186" letter-spacing="0.7">m3.10_z0.0070_y0.263</text>
<text x="341.3" y="222.6" letter-spacing="0.59">peak detector horizontal bounds</text>
<text x="341.3" y="259.2" letter-spacing="0.57">min. P consistent with observations</text>
<text x="341.3" y="295.8" letter-spacing="0.58">max. P must fall within this span</text>
<text x="341.3" y="332.5" letter-spacing="0.57">pulse region fit with cubic spline</text>
<text x="341.3" y="368.5" letter-spacing="0.7">pulses identified</text>
<text x="341.3" y="404.5" letter-spacing="0.59">intersection w/ P,L,T,R</text>
<text x="341.3" y="432.2" letter-spacing="0.7">loosely defined</text>
</g>
</svg></body></html>
